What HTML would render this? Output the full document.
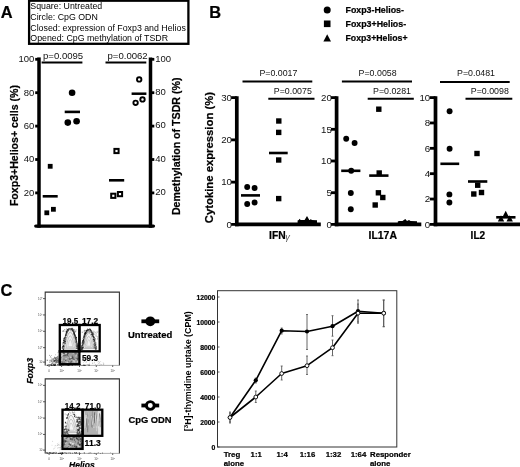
<!DOCTYPE html>
<html><head><meta charset="utf-8"><title>Figure</title>
<style>
html,body{margin:0;padding:0;background:#fff;}
body{width:520px;height:467px;overflow:hidden;}
svg{display:block;font-family:"Liberation Sans",sans-serif;filter:blur(0.42px);}
.b{font-weight:bold}
</style></head><body>
<svg width="520" height="467" viewBox="0 0 520 467">
<rect width="520" height="467" fill="#fff"/>

<text x="0.7" y="18.3" font-size="16.4" text-anchor="start" fill="#000" font-weight='bold'  stroke="#000" stroke-width="0.22">A</text>
<text x="209.3" y="17.7" font-size="16.4" text-anchor="start" fill="#000" font-weight='bold'  stroke="#000" stroke-width="0.22">B</text>
<text x="0.5" y="295.5" font-size="16.4" text-anchor="start" fill="#000" font-weight='bold'  stroke="#000" stroke-width="0.22">C</text>
<rect x="29.1" y="0.7" width="159.3" height="43.1" fill="#fff" stroke="#000" stroke-width="2.3"/>
<text x="30.3" y="9.1" font-size="8.8" text-anchor="start" fill="#000"  >Square: Untreated</text>
<text x="30.3" y="19.7" font-size="8.8" text-anchor="start" fill="#000"  >Circle: CpG ODN</text>
<text x="30.3" y="30.5" font-size="8.8" text-anchor="start" fill="#000"  >Closed: expression of Foxp3 and Helios</text>
<text x="30.3" y="41.1" font-size="8.8" text-anchor="start" fill="#000"  >Opened: CpG methylation of TSDR</text>
<line x1="39" y1="57.4" x2="39" y2="227.7" stroke="#000" stroke-width="3.5" />
<line x1="150.5" y1="57.4" x2="150.5" y2="227.7" stroke="#000" stroke-width="3.5" />
<line x1="35.8" y1="226.1" x2="153.4" y2="226.1" stroke="#000" stroke-width="3.4" stroke-linecap="round"/>
<line x1="35.2" y1="192.9" x2="38" y2="192.9" stroke="#000" stroke-width="2.8" />
<line x1="151" y1="192.9" x2="154.3" y2="192.9" stroke="#000" stroke-width="2.8" />
<text x="34.4" y="195.8" font-size="9.5" text-anchor="end" fill="#111"  >20</text>
<text x="155.3" y="195.20000000000002" font-size="9.5" text-anchor="start" fill="#111"  >20</text>
<line x1="35.2" y1="159.5" x2="38" y2="159.5" stroke="#000" stroke-width="2.8" />
<line x1="151" y1="159.5" x2="154.3" y2="159.5" stroke="#000" stroke-width="2.8" />
<text x="34.4" y="162.4" font-size="9.5" text-anchor="end" fill="#111"  >40</text>
<text x="155.3" y="161.8" font-size="9.5" text-anchor="start" fill="#111"  >40</text>
<line x1="35.2" y1="126.10000000000002" x2="38" y2="126.10000000000002" stroke="#000" stroke-width="2.8" />
<line x1="151" y1="126.10000000000002" x2="154.3" y2="126.10000000000002" stroke="#000" stroke-width="2.8" />
<text x="34.4" y="129.00000000000003" font-size="9.5" text-anchor="end" fill="#111"  >60</text>
<text x="155.3" y="128.40000000000003" font-size="9.5" text-anchor="start" fill="#111"  >60</text>
<line x1="35.2" y1="92.70000000000002" x2="38" y2="92.70000000000002" stroke="#000" stroke-width="2.8" />
<line x1="151" y1="92.70000000000002" x2="154.3" y2="92.70000000000002" stroke="#000" stroke-width="2.8" />
<text x="34.4" y="95.60000000000002" font-size="9.5" text-anchor="end" fill="#111"  >80</text>
<text x="155.3" y="95.00000000000001" font-size="9.5" text-anchor="start" fill="#111"  >80</text>
<line x1="35.2" y1="59.30000000000001" x2="38" y2="59.30000000000001" stroke="#000" stroke-width="2.8" />
<line x1="151" y1="59.30000000000001" x2="154.3" y2="59.30000000000001" stroke="#000" stroke-width="2.8" />
<text x="34.4" y="62.20000000000001" font-size="9.5" text-anchor="end" fill="#111"  >100</text>
<text x="155.3" y="61.60000000000001" font-size="9.5" text-anchor="start" fill="#111"  >100</text>
<text x="43" y="58.6" font-size="9.6" text-anchor="start" fill="#111"   textLength="40.2" lengthAdjust="spacingAndGlyphs">p=0.0095</text>
<line x1="41.6" y1="62.4" x2="82.4" y2="62.4" stroke="#000" stroke-width="2" />
<text x="107.5" y="58.6" font-size="9.6" text-anchor="start" fill="#111"   textLength="40.2" lengthAdjust="spacingAndGlyphs">p=0.0062</text>
<line x1="105.5" y1="62.4" x2="146.3" y2="62.4" stroke="#000" stroke-width="2" />
<text x="0" y="0" font-size="10.2" text-anchor="middle" fill="#000" font-weight='bold' transform="translate(18.1,145.6) rotate(-90)" textLength="121" lengthAdjust="spacingAndGlyphs" stroke="#000" stroke-width="0.22">Foxp3+Helios+ cells (%)</text>
<text x="0" y="0" font-size="10.4" text-anchor="middle" fill="#000" font-weight='bold' transform="translate(179.8,146.3) rotate(-90)" textLength="137.6" lengthAdjust="spacingAndGlyphs" stroke="#000" stroke-width="0.22">Demethylation of TSDR (%)</text>
<rect x="47.800000000000004" y="163.9" width="4.8" height="4.8" fill="#000"/>
<rect x="44.4" y="210.4" width="4.8" height="4.8" fill="#000"/>
<rect x="51.0" y="206.9" width="4.8" height="4.8" fill="#000"/>
<line x1="42.7" y1="196.3" x2="57.7" y2="196.3" stroke="#000" stroke-width="2.6" />
<circle cx="72.1" cy="92.7" r="3.3" fill="#000"/>
<circle cx="67.8" cy="122.6" r="3.3" fill="#000"/>
<circle cx="76.6" cy="121.3" r="3.3" fill="#000"/>
<line x1="64.7" y1="111.9" x2="80" y2="111.9" stroke="#000" stroke-width="2.6" />
<rect x="114.4" y="148.9" width="4.2" height="4.2" fill="#fff" stroke="#000" stroke-width="2"/>
<rect x="111.2" y="193.70000000000002" width="4.2" height="4.2" fill="#fff" stroke="#000" stroke-width="2"/>
<rect x="117.9" y="192.0" width="4.2" height="4.2" fill="#fff" stroke="#000" stroke-width="2"/>
<line x1="109" y1="180.3" x2="124.2" y2="180.3" stroke="#000" stroke-width="2.6" />
<circle cx="139.2" cy="79.4" r="2.2" fill="#fff" stroke="#000" stroke-width="1.9"/>
<circle cx="135.6" cy="102.8" r="2.2" fill="#fff" stroke="#000" stroke-width="1.9"/>
<circle cx="142.5" cy="99.4" r="2.2" fill="#fff" stroke="#000" stroke-width="1.9"/>
<line x1="131.6" y1="93.7" x2="146.4" y2="93.7" stroke="#000" stroke-width="2.5" />
<circle cx="327.2" cy="10.1" r="3.5" fill="#000"/>
<rect x="323.9" y="20.5" width="6.6" height="6.6" fill="#000"/>
<polygon points="327.2,34.3 331,41.6 323.4,41.6" fill="#000"/>
<text x="345.5" y="13.4" font-size="9" text-anchor="start" fill="#000" font-weight='bold'  textLength="58.4" lengthAdjust="spacingAndGlyphs" stroke="#000" stroke-width="0.22">Foxp3-Helios-</text>
<text x="345.5" y="27" font-size="9" text-anchor="start" fill="#000" font-weight='bold'  textLength="60.6" lengthAdjust="spacingAndGlyphs" stroke="#000" stroke-width="0.22">Foxp3+Helios-</text>
<text x="345.5" y="41.2" font-size="9" text-anchor="start" fill="#000" font-weight='bold'  textLength="62" lengthAdjust="spacingAndGlyphs" stroke="#000" stroke-width="0.22">Foxp3+Helios+</text>
<text x="0" y="0" font-size="11" text-anchor="middle" fill="#000" font-weight='bold' transform="translate(213.3,157.6) rotate(-90)" textLength="131.2" lengthAdjust="spacingAndGlyphs" stroke="#000" stroke-width="0.22">Cytokine expression (%)</text>
<line x1="236.8" y1="96.19999999999999" x2="236.8" y2="226.20000000000002" stroke="#000" stroke-width="3.7" />
<line x1="235.0" y1="224.4" x2="320.8" y2="224.4" stroke="#000" stroke-width="3.7" />
<line x1="231.10000000000002" y1="224.4" x2="236.8" y2="224.4" stroke="#000" stroke-width="2.8" />
<text x="232.0" y="227.70000000000002" font-size="9.7" text-anchor="end" fill="#111"  >0</text>
<line x1="231.10000000000002" y1="182.13333333333333" x2="236.8" y2="182.13333333333333" stroke="#000" stroke-width="2.8" />
<text x="232.0" y="185.43333333333334" font-size="9.7" text-anchor="end" fill="#111"  >10</text>
<line x1="231.10000000000002" y1="139.86666666666667" x2="236.8" y2="139.86666666666667" stroke="#000" stroke-width="2.8" />
<text x="232.0" y="143.16666666666669" font-size="9.7" text-anchor="end" fill="#111"  >20</text>
<line x1="231.10000000000002" y1="97.6" x2="236.8" y2="97.6" stroke="#000" stroke-width="2.8" />
<text x="232.0" y="100.89999999999999" font-size="9.7" text-anchor="end" fill="#111"  >30</text>
<line x1="336.6" y1="96.19999999999999" x2="336.6" y2="226.20000000000002" stroke="#000" stroke-width="3.7" />
<line x1="334.8" y1="224.4" x2="421.3" y2="224.4" stroke="#000" stroke-width="3.7" />
<line x1="330.90000000000003" y1="224.4" x2="336.6" y2="224.4" stroke="#000" stroke-width="2.8" />
<text x="331.90000000000003" y="227.70000000000002" font-size="9.7" text-anchor="end" fill="#111"  >0</text>
<line x1="330.90000000000003" y1="192.7" x2="336.6" y2="192.7" stroke="#000" stroke-width="2.8" />
<text x="331.90000000000003" y="196.0" font-size="9.7" text-anchor="end" fill="#111"  >5</text>
<line x1="330.90000000000003" y1="161.0" x2="336.6" y2="161.0" stroke="#000" stroke-width="2.8" />
<text x="331.90000000000003" y="164.3" font-size="9.7" text-anchor="end" fill="#111"  >10</text>
<line x1="330.90000000000003" y1="129.3" x2="336.6" y2="129.3" stroke="#000" stroke-width="2.8" />
<text x="331.90000000000003" y="132.60000000000002" font-size="9.7" text-anchor="end" fill="#111"  >15</text>
<line x1="330.90000000000003" y1="97.6" x2="336.6" y2="97.6" stroke="#000" stroke-width="2.8" />
<text x="331.90000000000003" y="100.89999999999999" font-size="9.7" text-anchor="end" fill="#111"  >20</text>
<line x1="435.5" y1="96.19999999999999" x2="435.5" y2="226.20000000000002" stroke="#000" stroke-width="3.7" />
<line x1="433.7" y1="224.4" x2="520" y2="224.4" stroke="#000" stroke-width="3.7" />
<line x1="429.8" y1="224.4" x2="435.5" y2="224.4" stroke="#000" stroke-width="2.8" />
<text x="430.2" y="227.70000000000002" font-size="9.7" text-anchor="end" fill="#111"  >0</text>
<line x1="429.8" y1="199.04" x2="435.5" y2="199.04" stroke="#000" stroke-width="2.8" />
<text x="430.2" y="202.34" font-size="9.7" text-anchor="end" fill="#111"  >2</text>
<line x1="429.8" y1="173.68" x2="435.5" y2="173.68" stroke="#000" stroke-width="2.8" />
<text x="430.2" y="176.98000000000002" font-size="9.7" text-anchor="end" fill="#111"  >4</text>
<line x1="429.8" y1="148.32" x2="435.5" y2="148.32" stroke="#000" stroke-width="2.8" />
<text x="430.2" y="151.62" font-size="9.7" text-anchor="end" fill="#111"  >6</text>
<line x1="429.8" y1="122.96" x2="435.5" y2="122.96" stroke="#000" stroke-width="2.8" />
<text x="430.2" y="126.25999999999999" font-size="9.7" text-anchor="end" fill="#111"  >8</text>
<line x1="429.8" y1="97.60000000000001" x2="435.5" y2="97.60000000000001" stroke="#000" stroke-width="2.8" />
<text x="430.2" y="100.9" font-size="9.7" text-anchor="end" fill="#111"  >10</text>
<text x="259.4" y="75.7" font-size="8.9" text-anchor="start" fill="#111"   textLength="38" lengthAdjust="spacingAndGlyphs">P=0.0017</text>
<line x1="242.5" y1="81.5" x2="312.3" y2="81.5" stroke="#000" stroke-width="2" />
<text x="273.8" y="94.2" font-size="8.9" text-anchor="start" fill="#111"   textLength="38" lengthAdjust="spacingAndGlyphs">P=0.0075</text>
<line x1="268.3" y1="98.7" x2="314.5" y2="98.7" stroke="#000" stroke-width="2" />
<text x="358.6" y="75.7" font-size="8.9" text-anchor="start" fill="#111"   textLength="38" lengthAdjust="spacingAndGlyphs">P=0.0058</text>
<line x1="341.9" y1="81.5" x2="412" y2="81.5" stroke="#000" stroke-width="2" />
<text x="373" y="94.2" font-size="8.9" text-anchor="start" fill="#111"   textLength="38" lengthAdjust="spacingAndGlyphs">P=0.0281</text>
<line x1="367.7" y1="98.7" x2="413.8" y2="98.7" stroke="#000" stroke-width="2" />
<text x="457" y="75.7" font-size="8.9" text-anchor="start" fill="#111"   textLength="38" lengthAdjust="spacingAndGlyphs">P=0.0481</text>
<line x1="440" y1="81.9" x2="509.7" y2="81.9" stroke="#000" stroke-width="2" />
<text x="470.8" y="94.2" font-size="8.9" text-anchor="start" fill="#111"   textLength="38" lengthAdjust="spacingAndGlyphs">P=0.0098</text>
<line x1="465.5" y1="98.7" x2="512.3" y2="98.7" stroke="#000" stroke-width="2" />
<text x="269.1" y="239.3" font-size="10.3" font-weight="bold" fill="#000" stroke="#000" stroke-width="0.22">IFN</text>
<text x="285.3" y="239.6" font-size="9.2" font-style="italic" fill="#555">&#947;</text>
<text x="368.5" y="239.2" font-size="10.3" text-anchor="start" fill="#000" font-weight='bold'  textLength="28.5" lengthAdjust="spacingAndGlyphs" stroke="#000" stroke-width="0.22">IL17A</text>
<text x="470.6" y="239.2" font-size="10.3" text-anchor="start" fill="#000" font-weight='bold'  textLength="14.6" lengthAdjust="spacingAndGlyphs" stroke="#000" stroke-width="0.22">IL2</text>
<circle cx="247.2" cy="187" r="2.95" fill="#000"/>
<circle cx="254.6" cy="188" r="2.95" fill="#000"/>
<circle cx="247.2" cy="204" r="2.95" fill="#000"/>
<circle cx="254.6" cy="202.5" r="2.95" fill="#000"/>
<line x1="241" y1="195.4" x2="260" y2="195.4" stroke="#000" stroke-width="2.6" />
<rect x="276.1" y="118.3" width="5.4" height="5.4" fill="#000"/>
<rect x="276.0" y="129.70000000000002" width="5.4" height="5.4" fill="#000"/>
<rect x="276.0" y="157.3" width="5.4" height="5.4" fill="#000"/>
<rect x="276.0" y="195.9" width="5.4" height="5.4" fill="#000"/>
<line x1="269" y1="153" x2="287.7" y2="153" stroke="#000" stroke-width="2.6" />
<polygon fill="#000" points="297.6,224 297.6,220.4 298.8,220.1 299.6,218.7 300.6,220.1 304.6,220.1 307,215.9 309.3,220 310,219.9 310.8,218.9 311.8,220.1 317,220.2 317,224"/>
<circle cx="346.2" cy="138.8" r="2.95" fill="#000"/>
<circle cx="354.6" cy="143" r="2.95" fill="#000"/>
<circle cx="351.2" cy="170.8" r="2.95" fill="#000"/>
<circle cx="350.8" cy="193" r="2.95" fill="#000"/>
<circle cx="350.8" cy="209.2" r="2.95" fill="#000"/>
<line x1="341.2" y1="170.8" x2="360.4" y2="170.8" stroke="#000" stroke-width="2.6" />
<rect x="376.1" y="106.5" width="5.4" height="5.4" fill="#000"/>
<rect x="376.5" y="170.3" width="5.4" height="5.4" fill="#000"/>
<rect x="375.7" y="190.10000000000002" width="5.4" height="5.4" fill="#000"/>
<rect x="380.1" y="194.8" width="5.4" height="5.4" fill="#000"/>
<rect x="372.5" y="202.3" width="5.4" height="5.4" fill="#000"/>
<line x1="369.2" y1="175.6" x2="388.5" y2="175.6" stroke="#000" stroke-width="2.6" />
<polygon fill="#000" points="397.8,224 397.8,221.6 399,221.1 402.5,220.9 405.3,219 407,220.9 409,220.1 410.5,221.1 417,221.3 417,224"/>
<circle cx="449.6" cy="111.2" r="2.95" fill="#000"/>
<circle cx="449.6" cy="148.8" r="2.95" fill="#000"/>
<circle cx="449.4" cy="194.4" r="2.95" fill="#000"/>
<circle cx="449.4" cy="202.5" r="2.95" fill="#000"/>
<line x1="440.4" y1="163.8" x2="459.2" y2="163.8" stroke="#000" stroke-width="2.6" />
<rect x="474.3" y="150.8" width="5.4" height="5.4" fill="#000"/>
<rect x="475.0" y="182.5" width="5.4" height="5.4" fill="#000"/>
<rect x="478.8" y="189.8" width="5.4" height="5.4" fill="#000"/>
<rect x="471.1" y="191.3" width="5.4" height="5.4" fill="#000"/>
<line x1="468" y1="181.5" x2="487.3" y2="181.5" stroke="#000" stroke-width="2.6" />
<polygon fill="#000" points="505.7,210.8 509.2,217.4 502.2,217.4"/>
<polygon fill="#000" points="501,215.3 504.2,221.4 497.8,221.4"/>
<polygon fill="#000" points="509.7,215.3 512.9,221.4 506.5,221.4"/>
<line x1="496.2" y1="217.3" x2="515.5" y2="217.3" stroke="#000" stroke-width="2.6" />
<defs><filter id="bl" x="-10%" y="-10%" width="120%" height="120%"><feGaussianBlur stdDeviation="0.45"/></filter></defs>
<path d="M45.2,365.4 L45.2,292.1 L119.4,292.1 L119.4,365.4" fill="none" stroke="#333" stroke-width="1.1"/>
<line x1="45.2" y1="365.4" x2="119.4" y2="365.4" stroke="#999" stroke-width="0.8" />
<line x1="43.0" y1="298.6" x2="45.2" y2="298.6" stroke="#333" stroke-width="0.8" />
<text x="42.400000000000006" y="299.5" font-size="2.9" text-anchor="end" fill="#444">10<tspan font-size="2" dy="-1.2">5</tspan></text>
<line x1="43.0" y1="314.95000000000005" x2="45.2" y2="314.95000000000005" stroke="#333" stroke-width="0.8" />
<text x="42.400000000000006" y="315.85" font-size="2.9" text-anchor="end" fill="#444">10<tspan font-size="2" dy="-1.2">4</tspan></text>
<line x1="43.0" y1="331.3" x2="45.2" y2="331.3" stroke="#333" stroke-width="0.8" />
<text x="42.400000000000006" y="332.2" font-size="2.9" text-anchor="end" fill="#444">10<tspan font-size="2" dy="-1.2">3</tspan></text>
<line x1="43.0" y1="347.65000000000003" x2="45.2" y2="347.65000000000003" stroke="#333" stroke-width="0.8" />
<text x="42.400000000000006" y="348.55" font-size="2.9" text-anchor="end" fill="#444">10<tspan font-size="2" dy="-1.2">2</tspan></text>
<line x1="43.0" y1="362.09999999999997" x2="45.2" y2="362.09999999999997" stroke="#333" stroke-width="0.8" />
<text x="42.400000000000006" y="362.99999999999994" font-size="2.9" text-anchor="end" fill="#444">10<tspan font-size="2" dy="-1.2"></tspan></text>
<line x1="49.1" y1="365.4" x2="49.1" y2="367.0" stroke="#333" stroke-width="0.8" />
<text x="49.1" y="372.29999999999995" font-size="2.9" text-anchor="middle" fill="#444">0</text>
<line x1="61.6" y1="365.4" x2="61.6" y2="367.0" stroke="#333" stroke-width="0.8" />
<text x="61.6" y="372.29999999999995" font-size="2.9" text-anchor="middle" fill="#444">10<tspan font-size="2" dy="-1.2">2</tspan></text>
<line x1="79.5" y1="365.4" x2="79.5" y2="367.0" stroke="#333" stroke-width="0.8" />
<text x="79.5" y="372.29999999999995" font-size="2.9" text-anchor="middle" fill="#444">10<tspan font-size="2" dy="-1.2">3</tspan></text>
<line x1="96.3" y1="365.4" x2="96.3" y2="367.0" stroke="#333" stroke-width="0.8" />
<text x="96.3" y="372.29999999999995" font-size="2.9" text-anchor="middle" fill="#444">10<tspan font-size="2" dy="-1.2">4</tspan></text>
<line x1="112.7" y1="365.4" x2="112.7" y2="367.0" stroke="#333" stroke-width="0.8" />
<text x="112.7" y="372.29999999999995" font-size="2.9" text-anchor="middle" fill="#444">10<tspan font-size="2" dy="-1.2">5</tspan></text>
<circle cx="51.8" cy="364.8" r="0.32" fill="#111" opacity="0.81"/>
<circle cx="57.5" cy="365.2" r="0.31" fill="#111" opacity="0.80"/>
<circle cx="69.0" cy="365.5" r="0.32" fill="#111" opacity="0.77"/>
<circle cx="51.7" cy="364.6" r="0.33" fill="#111" opacity="0.69"/>
<circle cx="83.4" cy="364.9" r="0.40" fill="#111" opacity="0.99"/>
<circle cx="84.6" cy="365.5" r="0.51" fill="#111" opacity="0.72"/>
<circle cx="53.0" cy="365.2" r="0.50" fill="#111" opacity="0.67"/>
<circle cx="54.9" cy="364.9" r="0.46" fill="#111" opacity="0.75"/>
<circle cx="53.8" cy="365.5" r="0.35" fill="#111" opacity="0.87"/>
<circle cx="48.5" cy="365.1" r="0.38" fill="#111" opacity="0.83"/>
<circle cx="64.0" cy="364.6" r="0.47" fill="#111" opacity="0.70"/>
<circle cx="51.6" cy="364.9" r="0.43" fill="#111" opacity="0.95"/>
<circle cx="48.5" cy="364.4" r="0.33" fill="#111" opacity="0.77"/>
<circle cx="64.2" cy="364.7" r="0.34" fill="#111" opacity="0.80"/>
<circle cx="77.9" cy="364.7" r="0.44" fill="#111" opacity="0.95"/>
<circle cx="54.2" cy="365.2" r="0.47" fill="#111" opacity="0.84"/>
<circle cx="67.5" cy="364.6" r="0.54" fill="#111" opacity="0.79"/>
<circle cx="57.9" cy="364.8" r="0.32" fill="#111" opacity="0.88"/>
<circle cx="88.0" cy="364.6" r="0.37" fill="#111" opacity="0.75"/>
<circle cx="101.6" cy="364.8" r="0.31" fill="#111" opacity="0.78"/>
<circle cx="51.6" cy="365.5" r="0.49" fill="#111" opacity="0.65"/>
<circle cx="55.8" cy="365.3" r="0.40" fill="#111" opacity="0.95"/>
<circle cx="67.2" cy="364.9" r="0.52" fill="#111" opacity="0.93"/>
<circle cx="57.9" cy="364.6" r="0.37" fill="#111" opacity="0.77"/>
<circle cx="75.0" cy="364.5" r="0.34" fill="#111" opacity="0.67"/>
<circle cx="81.6" cy="365.3" r="0.36" fill="#111" opacity="0.79"/>
<circle cx="60.8" cy="365.6" r="0.40" fill="#111" opacity="0.75"/>
<circle cx="55.3" cy="364.9" r="0.54" fill="#111" opacity="0.88"/>
<circle cx="76.6" cy="364.8" r="0.31" fill="#111" opacity="0.96"/>
<circle cx="49.2" cy="364.7" r="0.52" fill="#111" opacity="0.92"/>
<circle cx="63.5" cy="365.5" r="0.46" fill="#111" opacity="0.62"/>
<circle cx="60.1" cy="365.5" r="0.35" fill="#111" opacity="0.66"/>
<circle cx="50.1" cy="365.6" r="0.34" fill="#111" opacity="0.64"/>
<circle cx="52.3" cy="365.2" r="0.31" fill="#111" opacity="0.95"/>
<circle cx="55.6" cy="365.3" r="0.39" fill="#111" opacity="0.75"/>
<circle cx="54.4" cy="365.5" r="0.51" fill="#111" opacity="1.00"/>
<circle cx="70.9" cy="365.5" r="0.33" fill="#111" opacity="0.74"/>
<circle cx="51.6" cy="365.3" r="0.51" fill="#111" opacity="0.66"/>
<circle cx="99.7" cy="365.0" r="0.34" fill="#111" opacity="0.82"/>
<circle cx="54.0" cy="365.6" r="0.43" fill="#111" opacity="0.99"/>
<circle cx="68.4" cy="365.3" r="0.39" fill="#111" opacity="0.67"/>
<circle cx="71.9" cy="364.7" r="0.43" fill="#111" opacity="0.91"/>
<circle cx="53.7" cy="364.6" r="0.55" fill="#111" opacity="0.94"/>
<circle cx="59.9" cy="364.6" r="0.50" fill="#111" opacity="0.90"/>
<circle cx="50.1" cy="365.2" r="0.31" fill="#111" opacity="0.61"/>
<circle cx="72.5" cy="365.3" r="0.36" fill="#111" opacity="0.88"/>
<circle cx="69.3" cy="364.5" r="0.55" fill="#111" opacity="0.98"/>
<circle cx="52.7" cy="365.2" r="0.36" fill="#111" opacity="0.69"/>
<circle cx="51.1" cy="364.9" r="0.53" fill="#111" opacity="0.94"/>
<circle cx="60.3" cy="365.0" r="0.46" fill="#111" opacity="0.92"/>
<circle cx="74.1" cy="364.5" r="0.50" fill="#111" opacity="0.90"/>
<circle cx="62.6" cy="365.0" r="0.34" fill="#111" opacity="0.92"/>
<circle cx="65.8" cy="364.4" r="0.40" fill="#111" opacity="0.76"/>
<circle cx="80.5" cy="364.5" r="0.48" fill="#111" opacity="0.67"/>
<circle cx="55.0" cy="364.5" r="0.50" fill="#111" opacity="0.66"/>
<circle cx="55.2" cy="364.6" r="0.55" fill="#111" opacity="0.86"/>
<circle cx="62.6" cy="365.4" r="0.30" fill="#111" opacity="0.99"/>
<circle cx="68.6" cy="364.8" r="0.43" fill="#111" opacity="0.97"/>
<circle cx="87.0" cy="364.6" r="0.35" fill="#111" opacity="0.70"/>
<circle cx="64.2" cy="365.2" r="0.36" fill="#111" opacity="0.83"/>
<circle cx="47.5" cy="365.4" r="0.53" fill="#111" opacity="0.74"/>
<circle cx="69.1" cy="365.1" r="0.45" fill="#111" opacity="0.96"/>
<circle cx="89.4" cy="365.0" r="0.43" fill="#111" opacity="0.81"/>
<circle cx="69.7" cy="365.6" r="0.41" fill="#111" opacity="0.67"/>
<circle cx="85.6" cy="365.4" r="0.42" fill="#111" opacity="0.89"/>
<circle cx="47.2" cy="364.9" r="0.38" fill="#111" opacity="0.81"/>
<circle cx="82.4" cy="365.5" r="0.44" fill="#111" opacity="0.70"/>
<circle cx="59.4" cy="365.3" r="0.49" fill="#111" opacity="0.80"/>
<circle cx="80.6" cy="364.5" r="0.41" fill="#111" opacity="0.85"/>
<circle cx="60.3" cy="365.0" r="0.43" fill="#111" opacity="0.88"/>
<circle cx="72.2" cy="365.0" r="0.54" fill="#111" opacity="0.88"/>
<circle cx="54.2" cy="364.5" r="0.54" fill="#111" opacity="0.70"/>
<circle cx="95.3" cy="364.6" r="0.33" fill="#111" opacity="0.65"/>
<circle cx="65.5" cy="365.1" r="0.32" fill="#111" opacity="0.70"/>
<circle cx="75.5" cy="364.7" r="0.52" fill="#111" opacity="0.66"/>
<circle cx="60.7" cy="364.7" r="0.47" fill="#111" opacity="0.66"/>
<circle cx="88.9" cy="365.3" r="0.54" fill="#111" opacity="0.76"/>
<circle cx="84.9" cy="365.0" r="0.55" fill="#111" opacity="0.93"/>
<circle cx="58.5" cy="365.0" r="0.38" fill="#111" opacity="0.68"/>
<circle cx="66.1" cy="365.2" r="0.48" fill="#111" opacity="0.61"/>
<circle cx="68.6" cy="365.6" r="0.38" fill="#111" opacity="0.85"/>
<circle cx="54.1" cy="365.0" r="0.32" fill="#111" opacity="0.99"/>
<circle cx="60.2" cy="365.5" r="0.37" fill="#111" opacity="0.62"/>
<circle cx="103.2" cy="364.7" r="0.37" fill="#111" opacity="0.65"/>
<circle cx="89.0" cy="364.6" r="0.36" fill="#111" opacity="0.66"/>
<circle cx="68.9" cy="364.5" r="0.44" fill="#111" opacity="0.88"/>
<circle cx="52.6" cy="364.8" r="0.41" fill="#111" opacity="0.63"/>
<circle cx="50.2" cy="364.5" r="0.46" fill="#111" opacity="0.92"/>
<circle cx="83.7" cy="365.5" r="0.52" fill="#111" opacity="0.78"/>
<circle cx="68.0" cy="365.2" r="0.44" fill="#111" opacity="0.97"/>
<g filter="url(#bl)">
<circle cx="59.4" cy="361.7" r="0.46" fill="#333" opacity="0.87"/>
<circle cx="56.3" cy="360.2" r="0.35" fill="#666" opacity="0.71"/>
<circle cx="56.7" cy="360.2" r="0.43" fill="#888" opacity="0.49"/>
<circle cx="59.2" cy="360.9" r="0.38" fill="#333" opacity="0.41"/>
<circle cx="47.3" cy="360.3" r="0.45" fill="#333" opacity="0.87"/>
<circle cx="53.2" cy="363.1" r="0.43" fill="#666" opacity="0.67"/>
<circle cx="50.6" cy="356.6" r="0.39" fill="#333" opacity="0.89"/>
<circle cx="55.0" cy="364.1" r="0.51" fill="#888" opacity="0.47"/>
<circle cx="47.0" cy="360.1" r="0.55" fill="#333" opacity="0.44"/>
<circle cx="59.5" cy="358.7" r="0.35" fill="#333" opacity="0.73"/>
<circle cx="55.8" cy="362.4" r="0.59" fill="#888" opacity="0.52"/>
<circle cx="58.4" cy="363.0" r="0.35" fill="#666" opacity="0.40"/>
<circle cx="57.1" cy="362.0" r="0.60" fill="#666" opacity="0.52"/>
<circle cx="55.9" cy="360.1" r="0.41" fill="#333" opacity="0.57"/>
<circle cx="56.6" cy="361.4" r="0.50" fill="#333" opacity="0.65"/>
<circle cx="56.2" cy="360.6" r="0.33" fill="#666" opacity="0.69"/>
<circle cx="56.7" cy="361.7" r="0.49" fill="#333" opacity="0.69"/>
<circle cx="52.3" cy="359.8" r="0.50" fill="#888" opacity="0.79"/>
<circle cx="53.4" cy="358.3" r="0.52" fill="#666" opacity="0.47"/>
<circle cx="58.7" cy="357.2" r="0.31" fill="#888" opacity="0.85"/>
<circle cx="54.6" cy="357.8" r="0.54" fill="#333" opacity="0.85"/>
<circle cx="59.6" cy="357.5" r="0.54" fill="#333" opacity="0.81"/>
<circle cx="51.5" cy="358.1" r="0.50" fill="#888" opacity="0.72"/>
<circle cx="58.6" cy="360.8" r="0.49" fill="#333" opacity="0.59"/>
<circle cx="58.3" cy="360.7" r="0.31" fill="#888" opacity="0.74"/>
<circle cx="59.3" cy="360.5" r="0.54" fill="#888" opacity="0.87"/>
<circle cx="58.1" cy="359.9" r="0.46" fill="#888" opacity="0.77"/>
<circle cx="59.7" cy="361.4" r="0.38" fill="#888" opacity="0.78"/>
<circle cx="58.9" cy="363.8" r="0.44" fill="#666" opacity="0.44"/>
<circle cx="56.6" cy="359.5" r="0.31" fill="#888" opacity="0.72"/>
<circle cx="57.5" cy="361.1" r="0.38" fill="#888" opacity="0.75"/>
<circle cx="58.0" cy="359.7" r="0.44" fill="#666" opacity="0.53"/>
<circle cx="56.4" cy="357.4" r="0.50" fill="#666" opacity="0.75"/>
<circle cx="58.6" cy="363.0" r="0.53" fill="#888" opacity="0.50"/>
<circle cx="49.2" cy="359.8" r="0.31" fill="#666" opacity="0.44"/>
<circle cx="55.3" cy="360.4" r="0.57" fill="#333" opacity="0.44"/>
<circle cx="53.4" cy="362.6" r="0.38" fill="#666" opacity="0.47"/>
<circle cx="57.4" cy="358.0" r="0.57" fill="#888" opacity="0.58"/>
<circle cx="50.5" cy="360.6" r="0.42" fill="#333" opacity="0.40"/>
<circle cx="54.8" cy="360.6" r="0.39" fill="#333" opacity="0.61"/>
<circle cx="58.1" cy="361.3" r="0.40" fill="#666" opacity="0.78"/>
<circle cx="58.5" cy="359.5" r="0.58" fill="#888" opacity="0.41"/>
<circle cx="59.5" cy="358.7" r="0.32" fill="#666" opacity="0.90"/>
<circle cx="56.1" cy="359.3" r="0.43" fill="#666" opacity="0.83"/>
<circle cx="59.4" cy="361.2" r="0.50" fill="#888" opacity="0.87"/>
<circle cx="59.7" cy="362.3" r="0.45" fill="#333" opacity="0.79"/>
<circle cx="58.7" cy="358.1" r="0.31" fill="#888" opacity="0.60"/>
<circle cx="55.6" cy="358.4" r="0.36" fill="#333" opacity="0.42"/>
<circle cx="59.2" cy="358.0" r="0.53" fill="#888" opacity="0.83"/>
<circle cx="49.8" cy="361.0" r="0.47" fill="#333" opacity="0.64"/>
<circle cx="57.6" cy="362.1" r="0.52" fill="#888" opacity="0.53"/>
<circle cx="57.6" cy="358.9" r="0.47" fill="#666" opacity="0.46"/>
<circle cx="58.6" cy="359.8" r="0.45" fill="#666" opacity="0.68"/>
<circle cx="55.8" cy="361.1" r="0.53" fill="#666" opacity="0.47"/>
<circle cx="59.0" cy="361.4" r="0.40" fill="#333" opacity="0.56"/>
<circle cx="54.2" cy="363.6" r="0.36" fill="#333" opacity="0.77"/>
<circle cx="55.7" cy="361.7" r="0.46" fill="#666" opacity="0.54"/>
<circle cx="59.6" cy="357.8" r="0.47" fill="#666" opacity="0.46"/>
<circle cx="53.4" cy="360.4" r="0.56" fill="#333" opacity="0.45"/>
<circle cx="56.2" cy="359.1" r="0.49" fill="#666" opacity="0.88"/>
<circle cx="54.4" cy="356.7" r="0.31" fill="#333" opacity="0.61"/>
<circle cx="59.0" cy="356.4" r="0.59" fill="#666" opacity="0.40"/>
<circle cx="51.7" cy="363.8" r="0.55" fill="#666" opacity="0.89"/>
<circle cx="59.7" cy="361.6" r="0.35" fill="#888" opacity="0.89"/>
<circle cx="53.2" cy="363.2" r="0.51" fill="#666" opacity="0.44"/>
<circle cx="59.7" cy="360.4" r="0.34" fill="#888" opacity="0.86"/>
<circle cx="57.4" cy="358.9" r="0.34" fill="#666" opacity="0.66"/>
<circle cx="52.6" cy="362.0" r="0.33" fill="#666" opacity="0.66"/>
<circle cx="55.8" cy="359.4" r="0.37" fill="#888" opacity="0.40"/>
<circle cx="59.0" cy="362.5" r="0.55" fill="#333" opacity="0.64"/>
<circle cx="59.4" cy="362.2" r="0.59" fill="#888" opacity="0.72"/>
<circle cx="56.9" cy="361.0" r="0.57" fill="#888" opacity="0.61"/>
<circle cx="59.4" cy="363.9" r="0.58" fill="#333" opacity="0.65"/>
<circle cx="57.3" cy="357.0" r="0.41" fill="#666" opacity="0.50"/>
<circle cx="57.6" cy="356.9" r="0.45" fill="#333" opacity="0.65"/>
<circle cx="57.3" cy="364.2" r="0.36" fill="#666" opacity="0.51"/>
<circle cx="59.5" cy="358.6" r="0.59" fill="#666" opacity="0.71"/>
<circle cx="55.6" cy="358.9" r="0.57" fill="#333" opacity="0.87"/>
<circle cx="57.0" cy="362.3" r="0.36" fill="#888" opacity="0.47"/>
<circle cx="58.2" cy="360.8" r="0.42" fill="#888" opacity="0.84"/>
<circle cx="58.0" cy="352.6" r="0.58" fill="#666" opacity="0.50"/>
<circle cx="56.5" cy="358.2" r="0.44" fill="#666" opacity="0.73"/>
<circle cx="56.6" cy="362.0" r="0.40" fill="#333" opacity="0.45"/>
<circle cx="58.1" cy="360.9" r="0.43" fill="#333" opacity="0.68"/>
<circle cx="59.5" cy="358.3" r="0.53" fill="#666" opacity="0.81"/>
<circle cx="58.4" cy="360.8" r="0.44" fill="#666" opacity="0.67"/>
<circle cx="55.9" cy="361.2" r="0.52" fill="#666" opacity="0.42"/>
<circle cx="52.7" cy="362.7" r="0.53" fill="#333" opacity="0.59"/>
<circle cx="51.8" cy="361.4" r="0.32" fill="#333" opacity="0.77"/>
<circle cx="56.4" cy="359.3" r="0.38" fill="#888" opacity="0.42"/>
<circle cx="59.5" cy="357.0" r="0.58" fill="#666" opacity="0.40"/>
<circle cx="59.3" cy="355.4" r="0.49" fill="#333" opacity="0.41"/>
<circle cx="59.2" cy="363.1" r="0.59" fill="#666" opacity="0.79"/>
<circle cx="52.6" cy="358.3" r="0.34" fill="#666" opacity="0.49"/>
<circle cx="57.3" cy="356.9" r="0.55" fill="#333" opacity="0.70"/>
<circle cx="57.8" cy="362.3" r="0.41" fill="#888" opacity="0.44"/>
<circle cx="57.3" cy="364.1" r="0.37" fill="#333" opacity="0.72"/>
<circle cx="54.1" cy="360.8" r="0.35" fill="#666" opacity="0.84"/>
<circle cx="56.2" cy="360.4" r="0.33" fill="#333" opacity="0.61"/>
<circle cx="47.7" cy="360.1" r="0.35" fill="#333" opacity="0.61"/>
<circle cx="54.8" cy="358.1" r="0.52" fill="#888" opacity="0.78"/>
<circle cx="59.0" cy="358.6" r="0.38" fill="#666" opacity="0.59"/>
<circle cx="59.5" cy="359.0" r="0.37" fill="#333" opacity="0.52"/>
<circle cx="59.1" cy="361.3" r="0.38" fill="#333" opacity="0.65"/>
<circle cx="58.7" cy="364.7" r="0.50" fill="#333" opacity="0.45"/>
<circle cx="51.5" cy="361.2" r="0.55" fill="#666" opacity="0.42"/>
<circle cx="59.1" cy="361.6" r="0.36" fill="#888" opacity="0.50"/>
<circle cx="54.9" cy="361.8" r="0.35" fill="#888" opacity="0.53"/>
<circle cx="57.8" cy="355.0" r="0.33" fill="#888" opacity="0.75"/>
<circle cx="59.0" cy="361.0" r="0.40" fill="#333" opacity="0.50"/>
<circle cx="59.5" cy="363.6" r="0.50" fill="#333" opacity="0.81"/>
<circle cx="57.8" cy="358.4" r="0.41" fill="#888" opacity="0.56"/>
<circle cx="57.4" cy="364.4" r="0.46" fill="#333" opacity="0.60"/>
<circle cx="57.8" cy="357.2" r="0.35" fill="#888" opacity="0.45"/>
<circle cx="56.1" cy="363.5" r="0.42" fill="#666" opacity="0.73"/>
<circle cx="58.4" cy="360.9" r="0.52" fill="#666" opacity="0.61"/>
<circle cx="52.1" cy="360.9" r="0.54" fill="#888" opacity="0.50"/>
<circle cx="59.3" cy="359.0" r="0.30" fill="#333" opacity="0.61"/>
<circle cx="57.7" cy="358.4" r="0.56" fill="#666" opacity="0.79"/>
<circle cx="58.7" cy="361.0" r="0.34" fill="#666" opacity="0.44"/>
<circle cx="56.6" cy="359.0" r="0.45" fill="#333" opacity="0.57"/>
<circle cx="58.2" cy="361.7" r="0.32" fill="#666" opacity="0.65"/>
<circle cx="55.7" cy="354.8" r="0.36" fill="#333" opacity="0.82"/>
<circle cx="50.1" cy="361.9" r="0.39" fill="#888" opacity="0.86"/>
<circle cx="52.3" cy="363.7" r="0.49" fill="#333" opacity="0.72"/>
<circle cx="55.8" cy="358.0" r="0.48" fill="#333" opacity="0.81"/>
<circle cx="58.4" cy="362.0" r="0.42" fill="#888" opacity="0.48"/>
<circle cx="58.1" cy="361.5" r="0.59" fill="#333" opacity="0.42"/>
<circle cx="52.7" cy="359.0" r="0.31" fill="#666" opacity="0.46"/>
<circle cx="55.1" cy="358.8" r="0.49" fill="#666" opacity="0.72"/>
<circle cx="58.5" cy="362.1" r="0.42" fill="#666" opacity="0.62"/>
<circle cx="58.8" cy="360.7" r="0.49" fill="#666" opacity="0.63"/>
<circle cx="53.8" cy="361.5" r="0.55" fill="#333" opacity="0.81"/>
<circle cx="58.3" cy="361.0" r="0.41" fill="#666" opacity="0.45"/>
<circle cx="54.7" cy="361.5" r="0.31" fill="#888" opacity="0.47"/>
<circle cx="56.3" cy="359.6" r="0.52" fill="#333" opacity="0.43"/>
<circle cx="55.3" cy="360.4" r="0.59" fill="#333" opacity="0.41"/>
<circle cx="54.0" cy="361.8" r="0.51" fill="#333" opacity="0.50"/>
<circle cx="54.5" cy="360.2" r="0.59" fill="#333" opacity="0.74"/>
<circle cx="59.1" cy="358.9" r="0.55" fill="#888" opacity="0.78"/>
<circle cx="54.5" cy="364.6" r="0.38" fill="#666" opacity="0.47"/>
<circle cx="49.6" cy="360.4" r="0.36" fill="#666" opacity="0.71"/>
<circle cx="59.4" cy="362.7" r="0.36" fill="#666" opacity="0.48"/>
<circle cx="53.4" cy="359.1" r="0.57" fill="#333" opacity="0.80"/>
<circle cx="59.0" cy="364.4" r="0.31" fill="#666" opacity="0.88"/>
<circle cx="54.5" cy="361.3" r="0.51" fill="#333" opacity="0.53"/>
<circle cx="51.1" cy="359.5" r="0.52" fill="#666" opacity="0.53"/>
<circle cx="53.8" cy="360.3" r="0.41" fill="#333" opacity="0.62"/>
<circle cx="56.4" cy="363.9" r="0.31" fill="#888" opacity="0.53"/>
<circle cx="51.4" cy="355.4" r="0.48" fill="#888" opacity="0.85"/>
<circle cx="58.9" cy="356.7" r="0.37" fill="#666" opacity="0.71"/>
<circle cx="54.8" cy="361.6" r="0.57" fill="#333" opacity="0.64"/>
<circle cx="58.7" cy="360.0" r="0.32" fill="#888" opacity="0.58"/>
<circle cx="56.4" cy="361.8" r="0.37" fill="#888" opacity="0.55"/>
<circle cx="56.8" cy="362.1" r="0.55" fill="#333" opacity="0.47"/>
<circle cx="56.6" cy="359.8" r="0.34" fill="#333" opacity="0.43"/>
<circle cx="55.6" cy="363.2" r="0.38" fill="#666" opacity="0.88"/>
<circle cx="51.9" cy="362.0" r="0.57" fill="#888" opacity="0.72"/>
<circle cx="49.8" cy="362.4" r="0.52" fill="#333" opacity="0.48"/>
<circle cx="58.1" cy="360.5" r="0.31" fill="#333" opacity="0.52"/>
<circle cx="52.4" cy="361.9" r="0.30" fill="#888" opacity="0.73"/>
<circle cx="58.2" cy="362.7" r="0.46" fill="#888" opacity="0.65"/>
<circle cx="54.5" cy="357.2" r="0.35" fill="#666" opacity="0.43"/>
<circle cx="49.6" cy="355.3" r="0.52" fill="#666" opacity="0.76"/>
<circle cx="51.0" cy="360.7" r="0.52" fill="#666" opacity="0.44"/>
<circle cx="58.1" cy="359.3" r="0.60" fill="#666" opacity="0.52"/>
<circle cx="55.8" cy="361.0" r="0.52" fill="#888" opacity="0.87"/>
<circle cx="59.6" cy="361.3" r="0.49" fill="#888" opacity="0.62"/>
<circle cx="58.4" cy="357.8" r="0.38" fill="#888" opacity="0.86"/>
<circle cx="58.2" cy="359.9" r="0.45" fill="#333" opacity="0.53"/>
<circle cx="59.1" cy="364.3" r="0.58" fill="#888" opacity="0.86"/>
<circle cx="58.1" cy="362.6" r="0.48" fill="#666" opacity="0.85"/>
<circle cx="55.0" cy="357.9" r="0.50" fill="#888" opacity="0.63"/>
<circle cx="56.0" cy="357.5" r="0.56" fill="#666" opacity="0.88"/>
<circle cx="58.6" cy="358.3" r="0.48" fill="#888" opacity="0.86"/>
<circle cx="59.1" cy="360.9" r="0.33" fill="#333" opacity="0.57"/>
<circle cx="59.0" cy="360.9" r="0.31" fill="#888" opacity="0.72"/>
<circle cx="58.1" cy="360.7" r="0.31" fill="#888" opacity="0.78"/>
<circle cx="53.2" cy="359.8" r="0.56" fill="#888" opacity="0.87"/>
<circle cx="57.3" cy="361.5" r="0.33" fill="#333" opacity="0.87"/>
<circle cx="53.3" cy="358.5" r="0.33" fill="#888" opacity="0.72"/>
<circle cx="57.3" cy="360.7" r="0.54" fill="#888" opacity="0.50"/>
<circle cx="57.7" cy="362.7" r="0.31" fill="#666" opacity="0.87"/>
<circle cx="52.4" cy="361.7" r="0.57" fill="#888" opacity="0.65"/>
<circle cx="56.0" cy="357.9" r="0.31" fill="#666" opacity="0.42"/>
<circle cx="57.7" cy="360.4" r="0.44" fill="#333" opacity="0.67"/>
<circle cx="57.8" cy="365.0" r="0.33" fill="#666" opacity="0.49"/>
<circle cx="56.7" cy="360.5" r="0.53" fill="#333" opacity="0.40"/>
<circle cx="54.5" cy="360.7" r="0.54" fill="#333" opacity="0.88"/>
<circle cx="50.3" cy="357.3" r="0.45" fill="#888" opacity="0.87"/>
<circle cx="59.0" cy="362.1" r="0.51" fill="#666" opacity="0.48"/>
<circle cx="52.6" cy="359.0" r="0.45" fill="#888" opacity="0.68"/>
<circle cx="56.5" cy="361.7" r="0.33" fill="#666" opacity="0.85"/>
<circle cx="59.6" cy="358.1" r="0.49" fill="#666" opacity="0.50"/>
<circle cx="55.3" cy="360.5" r="0.57" fill="#333" opacity="0.87"/>
<circle cx="55.5" cy="362.7" r="0.51" fill="#888" opacity="0.72"/>
<circle cx="57.4" cy="362.2" r="0.35" fill="#666" opacity="0.73"/>
<circle cx="59.6" cy="359.1" r="0.43" fill="#666" opacity="0.69"/>
<circle cx="56.2" cy="362.3" r="0.57" fill="#333" opacity="0.65"/>
<circle cx="58.9" cy="364.3" r="0.55" fill="#888" opacity="0.48"/>
<circle cx="57.8" cy="361.9" r="0.40" fill="#888" opacity="0.57"/>
<circle cx="57.0" cy="360.5" r="0.50" fill="#333" opacity="0.59"/>
<circle cx="51.7" cy="360.1" r="0.52" fill="#666" opacity="0.54"/>
<circle cx="52.0" cy="363.7" r="0.38" fill="#666" opacity="0.63"/>
<circle cx="50.9" cy="360.9" r="0.43" fill="#333" opacity="0.65"/>
<circle cx="56.3" cy="358.6" r="0.34" fill="#888" opacity="0.77"/>
<circle cx="56.3" cy="360.6" r="0.56" fill="#888" opacity="0.69"/>
<circle cx="59.7" cy="358.1" r="0.37" fill="#888" opacity="0.73"/>
<circle cx="55.1" cy="358.2" r="0.48" fill="#333" opacity="0.74"/>
<circle cx="56.6" cy="358.5" r="0.39" fill="#888" opacity="0.75"/>
<circle cx="57.1" cy="359.4" r="0.42" fill="#888" opacity="0.71"/>
<circle cx="59.7" cy="362.9" r="0.44" fill="#888" opacity="0.83"/>
<circle cx="53.1" cy="360.1" r="0.56" fill="#888" opacity="0.56"/>
<circle cx="51.2" cy="360.8" r="0.57" fill="#333" opacity="0.42"/>
<circle cx="57.1" cy="360.1" r="0.53" fill="#333" opacity="0.66"/>
<circle cx="55.0" cy="362.3" r="0.46" fill="#888" opacity="0.64"/>
<circle cx="51.8" cy="360.9" r="0.41" fill="#666" opacity="0.61"/>
<circle cx="56.8" cy="360.0" r="0.51" fill="#666" opacity="0.66"/>
<circle cx="53.1" cy="359.0" r="0.48" fill="#888" opacity="0.43"/>
<circle cx="59.0" cy="362.8" r="0.30" fill="#666" opacity="0.86"/>
<circle cx="55.0" cy="358.0" r="0.47" fill="#333" opacity="0.51"/>
<circle cx="59.1" cy="355.1" r="0.46" fill="#333" opacity="0.90"/>
<circle cx="103.1" cy="362.8" r="0.28" fill="#555" opacity="0.67"/>
<circle cx="83.5" cy="364.2" r="0.29" fill="#555" opacity="0.56"/>
<circle cx="97.9" cy="364.3" r="0.28" fill="#555" opacity="0.57"/>
<circle cx="100.3" cy="364.2" r="0.33" fill="#555" opacity="0.70"/>
<circle cx="98.7" cy="363.6" r="0.41" fill="#555" opacity="0.49"/>
<circle cx="99.2" cy="361.9" r="0.39" fill="#555" opacity="0.57"/>
<circle cx="103.6" cy="363.7" r="0.35" fill="#555" opacity="0.62"/>
<circle cx="99.6" cy="362.4" r="0.38" fill="#555" opacity="0.43"/>
<circle cx="92.7" cy="363.5" r="0.27" fill="#555" opacity="0.66"/>
<circle cx="85.4" cy="362.2" r="0.33" fill="#555" opacity="0.33"/>
<circle cx="94.4" cy="362.3" r="0.44" fill="#555" opacity="0.51"/>
<circle cx="89.6" cy="363.3" r="0.38" fill="#555" opacity="0.38"/>
<circle cx="83.6" cy="362.2" r="0.37" fill="#555" opacity="0.53"/>
<circle cx="100.8" cy="361.7" r="0.34" fill="#555" opacity="0.61"/>
<circle cx="86.6" cy="362.6" r="0.36" fill="#555" opacity="0.54"/>
<circle cx="97.1" cy="364.9" r="0.27" fill="#555" opacity="0.66"/>
<circle cx="94.1" cy="363.5" r="0.31" fill="#555" opacity="0.50"/>
<circle cx="86.7" cy="361.3" r="0.42" fill="#555" opacity="0.57"/>
<circle cx="84.6" cy="361.5" r="0.33" fill="#555" opacity="0.63"/>
<circle cx="92.4" cy="363.2" r="0.35" fill="#555" opacity="0.66"/>
<circle cx="97.4" cy="362.0" r="0.28" fill="#555" opacity="0.54"/>
<circle cx="98.2" cy="361.6" r="0.31" fill="#555" opacity="0.58"/>
<circle cx="92.9" cy="362.2" r="0.34" fill="#555" opacity="0.47"/>
<circle cx="104.0" cy="363.7" r="0.29" fill="#555" opacity="0.44"/>
<circle cx="96.2" cy="361.1" r="0.26" fill="#555" opacity="0.59"/>
<circle cx="104.0" cy="364.2" r="0.27" fill="#555" opacity="0.49"/>
<circle cx="98.7" cy="361.6" r="0.29" fill="#555" opacity="0.47"/>
<circle cx="84.8" cy="361.4" r="0.38" fill="#555" opacity="0.44"/>
<circle cx="99.1" cy="363.2" r="0.43" fill="#555" opacity="0.41"/>
<circle cx="89.5" cy="362.0" r="0.26" fill="#555" opacity="0.42"/>
<polygon fill="#f1f1f1" points="70.3,328.4 68.0,330.0 67.2,331.6 66.6,333.2 66.0,334.7 65.6,336.3 65.2,337.9 64.8,339.5 64.5,341.1 64.2,342.7 63.9,344.3 63.6,345.8 63.3,347.4 63.0,349.0 62.8,350.6 77.8,350.6 77.6,349.0 77.3,347.4 77.0,345.8 76.7,344.3 76.4,342.7 76.1,341.1 75.8,339.5 75.4,337.9 75.0,336.3 74.6,334.7 74.0,333.2 73.4,331.6 72.6,330.0 70.3,328.4"/>
<polygon fill="none" stroke="#8a8a8a" stroke-width="0.55" points="70.3,332.1 68.7,333.3 68.1,334.5 67.6,335.7 67.2,336.9 66.8,338.1 66.5,339.3 66.2,340.5 65.9,341.8 65.6,343.0 65.4,344.2 65.1,345.4 64.9,346.6 64.7,347.8 64.5,349.0 76.1,349.0 75.9,347.8 75.7,346.6 75.5,345.4 75.2,344.2 75.0,343.0 74.7,341.8 74.4,340.5 74.1,339.3 73.8,338.1 73.4,336.9 73.0,335.7 72.5,334.5 71.9,333.3 70.3,332.1"/>
<polygon fill="none" stroke="#9a9a9a" stroke-width="0.55" points="70.3,335.9 69.2,336.7 68.7,337.6 68.4,338.5 68.1,339.3 67.8,340.2 67.6,341.0 67.4,341.9 67.2,342.7 67.0,343.6 66.8,344.4 66.6,345.3 66.5,346.1 66.3,347.0 66.2,347.9 74.4,347.9 74.3,347.0 74.1,346.1 74.0,345.3 73.8,344.4 73.6,343.6 73.4,342.7 73.2,341.9 73.0,341.0 72.8,340.2 72.5,339.3 72.2,338.5 71.9,337.6 71.4,336.7 70.3,335.9"/>
<polygon fill="none" stroke="#aaa" stroke-width="0.55" points="70.3,339.6 69.6,340.1 69.4,340.6 69.2,341.1 69.0,341.6 68.8,342.1 68.7,342.6 68.5,343.1 68.4,343.7 68.3,344.2 68.2,344.7 68.1,345.2 68.0,345.7 67.9,346.2 67.8,346.7 72.8,346.7 72.7,346.2 72.6,345.7 72.5,345.2 72.4,344.7 72.3,344.2 72.2,343.7 72.1,343.1 71.9,342.6 71.8,342.1 71.6,341.6 71.4,341.1 71.2,340.6 71.0,340.1 70.3,339.6"/>
<circle cx="74.4" cy="334.5" r="0.61" fill="#333" opacity="0.99"/>
<circle cx="76.6" cy="341.0" r="0.56" fill="#222" opacity="0.83"/>
<circle cx="76.4" cy="340.8" r="0.51" fill="#111" opacity="0.76"/>
<circle cx="72.9" cy="330.0" r="0.53" fill="#111" opacity="0.92"/>
<circle cx="63.5" cy="347.7" r="0.41" fill="#555" opacity="0.85"/>
<circle cx="73.0" cy="330.0" r="0.58" fill="#111" opacity="0.75"/>
<circle cx="77.5" cy="345.2" r="0.61" fill="#222" opacity="0.77"/>
<circle cx="66.6" cy="334.0" r="0.50" fill="#111" opacity="0.93"/>
<circle cx="76.3" cy="344.9" r="0.48" fill="#111" opacity="0.87"/>
<circle cx="63.7" cy="339.9" r="0.49" fill="#555" opacity="0.82"/>
<circle cx="68.7" cy="329.6" r="0.48" fill="#111" opacity="0.87"/>
<circle cx="67.8" cy="330.0" r="0.39" fill="#111" opacity="0.71"/>
<circle cx="65.3" cy="339.6" r="0.46" fill="#222" opacity="0.89"/>
<circle cx="72.1" cy="328.8" r="0.55" fill="#333" opacity="0.97"/>
<circle cx="68.8" cy="329.0" r="0.47" fill="#333" opacity="0.89"/>
<circle cx="67.2" cy="330.3" r="0.44" fill="#555" opacity="0.79"/>
<circle cx="67.3" cy="330.7" r="0.54" fill="#555" opacity="0.79"/>
<circle cx="76.7" cy="344.7" r="0.44" fill="#111" opacity="0.85"/>
<circle cx="63.9" cy="340.7" r="0.60" fill="#333" opacity="0.83"/>
<circle cx="78.1" cy="350.4" r="0.53" fill="#222" opacity="0.92"/>
<circle cx="74.4" cy="333.0" r="0.40" fill="#111" opacity="0.72"/>
<circle cx="67.1" cy="329.3" r="0.43" fill="#555" opacity="0.74"/>
<circle cx="68.6" cy="329.1" r="0.59" fill="#222" opacity="0.72"/>
<circle cx="71.7" cy="329.5" r="0.53" fill="#111" opacity="0.92"/>
<circle cx="64.5" cy="337.3" r="0.42" fill="#333" opacity="0.95"/>
<circle cx="65.5" cy="338.3" r="0.41" fill="#111" opacity="0.67"/>
<circle cx="76.3" cy="343.1" r="0.58" fill="#222" opacity="0.70"/>
<circle cx="76.5" cy="348.5" r="0.54" fill="#111" opacity="0.66"/>
<circle cx="64.8" cy="340.6" r="0.38" fill="#222" opacity="1.00"/>
<circle cx="76.8" cy="347.0" r="0.63" fill="#333" opacity="0.77"/>
<circle cx="62.5" cy="348.2" r="0.43" fill="#111" opacity="0.74"/>
<circle cx="62.6" cy="350.5" r="0.52" fill="#555" opacity="0.79"/>
<circle cx="78.4" cy="345.8" r="0.63" fill="#111" opacity="0.70"/>
<circle cx="75.2" cy="338.3" r="0.40" fill="#222" opacity="0.75"/>
<circle cx="73.8" cy="331.7" r="0.63" fill="#111" opacity="0.96"/>
<circle cx="77.8" cy="347.9" r="0.37" fill="#222" opacity="0.73"/>
<circle cx="70.8" cy="329.2" r="0.58" fill="#111" opacity="0.79"/>
<circle cx="74.5" cy="335.2" r="0.40" fill="#222" opacity="0.92"/>
<circle cx="62.3" cy="347.9" r="0.59" fill="#222" opacity="0.97"/>
<circle cx="66.4" cy="331.4" r="0.58" fill="#111" opacity="0.97"/>
<circle cx="75.1" cy="335.2" r="0.45" fill="#222" opacity="0.79"/>
<circle cx="64.0" cy="341.1" r="0.40" fill="#555" opacity="0.82"/>
<circle cx="73.1" cy="330.1" r="0.42" fill="#111" opacity="0.71"/>
<circle cx="77.2" cy="346.5" r="0.38" fill="#555" opacity="0.96"/>
<circle cx="67.9" cy="329.9" r="0.52" fill="#333" opacity="0.65"/>
<circle cx="77.6" cy="343.9" r="0.65" fill="#222" opacity="0.64"/>
<circle cx="74.3" cy="333.0" r="0.39" fill="#111" opacity="0.78"/>
<circle cx="75.2" cy="337.9" r="0.41" fill="#555" opacity="0.62"/>
<circle cx="65.6" cy="336.0" r="0.51" fill="#222" opacity="0.88"/>
<circle cx="73.6" cy="331.4" r="0.58" fill="#222" opacity="0.68"/>
<circle cx="76.0" cy="339.5" r="0.41" fill="#111" opacity="0.88"/>
<circle cx="76.3" cy="337.3" r="0.45" fill="#555" opacity="0.64"/>
<circle cx="75.1" cy="335.4" r="0.42" fill="#333" opacity="0.61"/>
<circle cx="75.8" cy="342.2" r="0.51" fill="#555" opacity="0.99"/>
<circle cx="72.0" cy="329.5" r="0.58" fill="#555" opacity="0.83"/>
<circle cx="77.6" cy="348.0" r="0.48" fill="#111" opacity="0.81"/>
<circle cx="63.5" cy="338.8" r="0.54" fill="#222" opacity="0.64"/>
<circle cx="66.7" cy="332.2" r="0.63" fill="#222" opacity="0.70"/>
<circle cx="63.6" cy="345.8" r="0.56" fill="#111" opacity="0.74"/>
<circle cx="72.4" cy="329.9" r="0.50" fill="#333" opacity="0.64"/>
<circle cx="67.7" cy="329.6" r="0.61" fill="#222" opacity="0.87"/>
<circle cx="66.0" cy="337.6" r="0.63" fill="#555" opacity="0.88"/>
<circle cx="64.5" cy="340.0" r="0.58" fill="#333" opacity="0.76"/>
<circle cx="77.2" cy="345.3" r="0.59" fill="#111" opacity="0.73"/>
<circle cx="72.9" cy="330.0" r="0.55" fill="#111" opacity="0.75"/>
<circle cx="64.3" cy="338.7" r="0.42" fill="#555" opacity="0.99"/>
<circle cx="62.7" cy="344.3" r="0.36" fill="#333" opacity="0.97"/>
<circle cx="64.9" cy="340.0" r="0.54" fill="#333" opacity="0.65"/>
<circle cx="69.6" cy="328.6" r="0.44" fill="#222" opacity="0.65"/>
<circle cx="76.8" cy="339.8" r="0.38" fill="#222" opacity="0.78"/>
<circle cx="76.5" cy="337.3" r="0.43" fill="#111" opacity="0.90"/>
<circle cx="66.9" cy="333.3" r="0.55" fill="#222" opacity="0.82"/>
<circle cx="75.0" cy="334.5" r="0.49" fill="#333" opacity="0.61"/>
<circle cx="74.7" cy="334.6" r="0.35" fill="#333" opacity="0.66"/>
<circle cx="77.7" cy="349.7" r="0.44" fill="#222" opacity="0.72"/>
<circle cx="77.2" cy="344.6" r="0.48" fill="#111" opacity="0.81"/>
<circle cx="63.8" cy="346.8" r="0.65" fill="#222" opacity="0.77"/>
<circle cx="76.8" cy="342.1" r="0.60" fill="#111" opacity="0.90"/>
<circle cx="63.6" cy="343.2" r="0.47" fill="#111" opacity="0.60"/>
<circle cx="64.1" cy="344.0" r="0.48" fill="#333" opacity="0.95"/>
<circle cx="75.8" cy="340.7" r="0.44" fill="#333" opacity="0.72"/>
<circle cx="74.6" cy="335.1" r="0.35" fill="#555" opacity="0.75"/>
<circle cx="73.7" cy="333.1" r="0.52" fill="#222" opacity="0.64"/>
<circle cx="63.3" cy="349.3" r="0.64" fill="#222" opacity="0.99"/>
<circle cx="77.8" cy="347.6" r="0.52" fill="#555" opacity="0.72"/>
<circle cx="75.6" cy="339.2" r="0.51" fill="#555" opacity="0.76"/>
<circle cx="66.2" cy="334.3" r="0.55" fill="#222" opacity="0.64"/>
<circle cx="66.2" cy="335.3" r="0.61" fill="#555" opacity="0.79"/>
<circle cx="74.3" cy="335.2" r="0.56" fill="#111" opacity="0.67"/>
<circle cx="65.5" cy="333.6" r="0.38" fill="#333" opacity="0.88"/>
<circle cx="78.6" cy="345.7" r="0.54" fill="#333" opacity="0.93"/>
<circle cx="66.8" cy="331.2" r="0.54" fill="#111" opacity="0.74"/>
<circle cx="78.0" cy="350.3" r="0.35" fill="#111" opacity="0.72"/>
<circle cx="63.4" cy="342.4" r="0.53" fill="#111" opacity="0.68"/>
<circle cx="65.3" cy="337.6" r="0.52" fill="#555" opacity="0.84"/>
<circle cx="67.9" cy="330.3" r="0.38" fill="#222" opacity="0.98"/>
<circle cx="65.5" cy="337.6" r="0.55" fill="#333" opacity="0.66"/>
<circle cx="66.8" cy="332.2" r="0.61" fill="#111" opacity="0.74"/>
<circle cx="75.2" cy="336.7" r="0.52" fill="#111" opacity="0.78"/>
<circle cx="64.3" cy="340.8" r="0.44" fill="#555" opacity="0.72"/>
<circle cx="63.8" cy="340.0" r="0.42" fill="#555" opacity="0.87"/>
<circle cx="75.7" cy="340.0" r="0.36" fill="#222" opacity="0.63"/>
<circle cx="73.2" cy="330.9" r="0.47" fill="#333" opacity="0.65"/>
<circle cx="65.1" cy="338.9" r="0.64" fill="#555" opacity="0.93"/>
<circle cx="74.7" cy="334.7" r="0.45" fill="#555" opacity="0.61"/>
<circle cx="64.2" cy="342.0" r="0.38" fill="#333" opacity="0.82"/>
<circle cx="64.0" cy="344.7" r="0.40" fill="#333" opacity="0.69"/>
<circle cx="74.7" cy="335.1" r="0.64" fill="#222" opacity="0.69"/>
<circle cx="75.8" cy="337.2" r="0.53" fill="#555" opacity="0.84"/>
<circle cx="65.8" cy="335.4" r="0.39" fill="#111" opacity="0.87"/>
<circle cx="72.5" cy="328.9" r="0.36" fill="#222" opacity="0.72"/>
<circle cx="65.5" cy="335.4" r="0.45" fill="#111" opacity="0.63"/>
<circle cx="62.4" cy="347.4" r="0.37" fill="#333" opacity="0.64"/>
<circle cx="74.4" cy="332.6" r="0.47" fill="#555" opacity="0.91"/>
<circle cx="77.9" cy="347.2" r="0.40" fill="#333" opacity="0.87"/>
<circle cx="76.2" cy="342.1" r="0.42" fill="#555" opacity="0.74"/>
<circle cx="64.1" cy="341.1" r="0.56" fill="#111" opacity="0.76"/>
<circle cx="65.1" cy="340.7" r="0.46" fill="#111" opacity="0.82"/>
<circle cx="63.6" cy="340.6" r="0.52" fill="#333" opacity="0.97"/>
<circle cx="65.1" cy="341.3" r="0.60" fill="#333" opacity="0.96"/>
<circle cx="63.8" cy="346.8" r="0.55" fill="#111" opacity="0.92"/>
<circle cx="66.6" cy="331.1" r="0.48" fill="#555" opacity="1.00"/>
<circle cx="76.4" cy="341.1" r="0.63" fill="#555" opacity="0.78"/>
<circle cx="74.0" cy="334.2" r="0.50" fill="#222" opacity="0.77"/>
<circle cx="64.7" cy="337.9" r="0.36" fill="#333" opacity="0.67"/>
<circle cx="73.2" cy="330.4" r="0.42" fill="#111" opacity="0.67"/>
<circle cx="65.5" cy="334.7" r="0.39" fill="#555" opacity="0.87"/>
<circle cx="73.8" cy="332.7" r="0.39" fill="#333" opacity="0.88"/>
<circle cx="67.8" cy="329.5" r="0.45" fill="#111" opacity="0.82"/>
<circle cx="77.5" cy="344.8" r="0.60" fill="#555" opacity="0.93"/>
<circle cx="68.0" cy="330.3" r="0.36" fill="#333" opacity="0.72"/>
<circle cx="68.2" cy="331.0" r="0.45" fill="#555" opacity="0.83"/>
<circle cx="74.1" cy="333.1" r="0.65" fill="#555" opacity="0.63"/>
<circle cx="63.1" cy="343.0" r="0.54" fill="#555" opacity="0.80"/>
<circle cx="63.7" cy="345.2" r="0.54" fill="#333" opacity="0.86"/>
<circle cx="72.2" cy="329.2" r="0.60" fill="#333" opacity="0.75"/>
<circle cx="64.0" cy="349.4" r="0.38" fill="#333" opacity="0.90"/>
<circle cx="74.8" cy="334.7" r="0.42" fill="#222" opacity="0.82"/>
<circle cx="65.7" cy="334.5" r="0.38" fill="#555" opacity="0.96"/>
<circle cx="63.4" cy="349.1" r="0.65" fill="#111" opacity="0.66"/>
<circle cx="74.0" cy="332.4" r="0.38" fill="#111" opacity="0.94"/>
<circle cx="65.0" cy="337.7" r="0.60" fill="#555" opacity="0.66"/>
<circle cx="72.3" cy="329.5" r="0.37" fill="#111" opacity="0.87"/>
<circle cx="77.7" cy="345.7" r="0.35" fill="#333" opacity="0.83"/>
<circle cx="74.9" cy="336.9" r="0.64" fill="#222" opacity="0.99"/>
<circle cx="63.5" cy="348.9" r="0.57" fill="#333" opacity="0.84"/>
<circle cx="73.5" cy="332.7" r="0.55" fill="#222" opacity="0.72"/>
<circle cx="65.9" cy="334.2" r="0.42" fill="#555" opacity="0.88"/>
<circle cx="72.7" cy="330.1" r="0.46" fill="#222" opacity="0.83"/>
<circle cx="65.4" cy="335.6" r="0.51" fill="#111" opacity="0.69"/>
<circle cx="77.2" cy="345.9" r="0.56" fill="#222" opacity="0.82"/>
<circle cx="67.0" cy="331.8" r="0.61" fill="#111" opacity="0.92"/>
<circle cx="68.0" cy="330.2" r="0.54" fill="#111" opacity="0.78"/>
<circle cx="65.3" cy="341.9" r="0.52" fill="#111" opacity="0.65"/>
<circle cx="77.5" cy="344.7" r="0.36" fill="#222" opacity="0.78"/>
<circle cx="67.6" cy="330.8" r="0.54" fill="#222" opacity="0.83"/>
<circle cx="78.1" cy="348.1" r="0.59" fill="#111" opacity="0.93"/>
<circle cx="72.5" cy="330.6" r="0.57" fill="#111" opacity="0.93"/>
<circle cx="66.1" cy="334.8" r="0.36" fill="#222" opacity="0.70"/>
<circle cx="72.9" cy="331.6" r="0.38" fill="#111" opacity="0.80"/>
<circle cx="72.1" cy="329.5" r="0.61" fill="#555" opacity="0.93"/>
<circle cx="76.1" cy="341.6" r="0.63" fill="#111" opacity="0.61"/>
<circle cx="63.2" cy="350.5" r="0.59" fill="#111" opacity="0.63"/>
<circle cx="75.9" cy="340.1" r="0.64" fill="#555" opacity="0.76"/>
<circle cx="77.4" cy="347.0" r="0.51" fill="#333" opacity="0.96"/>
<circle cx="76.4" cy="339.9" r="0.57" fill="#333" opacity="0.83"/>
<circle cx="74.9" cy="335.2" r="0.45" fill="#111" opacity="0.70"/>
<circle cx="63.7" cy="346.8" r="0.43" fill="#333" opacity="0.63"/>
<circle cx="63.0" cy="350.9" r="0.65" fill="#111" opacity="0.97"/>
<circle cx="78.1" cy="348.1" r="0.54" fill="#111" opacity="0.75"/>
<circle cx="66.3" cy="332.0" r="0.55" fill="#333" opacity="0.99"/>
<circle cx="66.5" cy="334.9" r="0.46" fill="#555" opacity="0.73"/>
<circle cx="76.2" cy="341.8" r="0.50" fill="#222" opacity="0.92"/>
<circle cx="78.4" cy="350.8" r="0.47" fill="#555" opacity="0.83"/>
<circle cx="74.4" cy="333.5" r="0.57" fill="#333" opacity="0.89"/>
<circle cx="64.3" cy="338.8" r="0.53" fill="#111" opacity="0.83"/>
<circle cx="74.1" cy="333.9" r="0.57" fill="#111" opacity="0.94"/>
<circle cx="65.8" cy="334.7" r="0.58" fill="#333" opacity="0.69"/>
<circle cx="71.3" cy="328.7" r="0.61" fill="#111" opacity="0.68"/>
<circle cx="62.9" cy="343.3" r="0.37" fill="#333" opacity="0.89"/>
<circle cx="69.9" cy="329.1" r="0.54" fill="#111" opacity="0.68"/>
<circle cx="74.5" cy="333.2" r="0.53" fill="#333" opacity="0.67"/>
<circle cx="77.6" cy="346.7" r="0.58" fill="#555" opacity="0.70"/>
<circle cx="76.4" cy="337.0" r="0.37" fill="#333" opacity="0.66"/>
<circle cx="69.4" cy="329.1" r="0.46" fill="#333" opacity="0.77"/>
<circle cx="75.3" cy="338.3" r="0.42" fill="#333" opacity="0.93"/>
<circle cx="76.1" cy="337.4" r="0.52" fill="#333" opacity="0.81"/>
<circle cx="78.0" cy="349.0" r="0.38" fill="#333" opacity="0.66"/>
<circle cx="65.4" cy="341.6" r="0.54" fill="#111" opacity="0.62"/>
<circle cx="75.4" cy="337.7" r="0.57" fill="#222" opacity="0.95"/>
<circle cx="77.7" cy="346.1" r="0.58" fill="#222" opacity="0.78"/>
<circle cx="77.8" cy="347.9" r="0.49" fill="#333" opacity="0.92"/>
<circle cx="71.3" cy="328.6" r="0.55" fill="#333" opacity="0.62"/>
<circle cx="65.5" cy="339.9" r="0.36" fill="#111" opacity="0.70"/>
<circle cx="75.3" cy="336.6" r="0.54" fill="#333" opacity="0.95"/>
<circle cx="76.4" cy="337.6" r="0.61" fill="#333" opacity="0.98"/>
<circle cx="67.8" cy="330.4" r="0.50" fill="#222" opacity="0.66"/>
<circle cx="64.4" cy="341.9" r="0.61" fill="#222" opacity="0.94"/>
<circle cx="77.9" cy="343.8" r="0.40" fill="#222" opacity="1.00"/>
<circle cx="66.2" cy="333.3" r="0.39" fill="#333" opacity="0.66"/>
<circle cx="77.2" cy="343.7" r="0.38" fill="#333" opacity="0.86"/>
<circle cx="64.4" cy="342.0" r="0.53" fill="#222" opacity="0.92"/>
<circle cx="63.3" cy="342.5" r="0.52" fill="#111" opacity="0.89"/>
<circle cx="68.8" cy="328.8" r="0.39" fill="#555" opacity="0.99"/>
<circle cx="64.5" cy="338.3" r="0.54" fill="#111" opacity="0.81"/>
<circle cx="62.9" cy="346.2" r="0.61" fill="#222" opacity="0.89"/>
<circle cx="66.4" cy="333.1" r="0.64" fill="#222" opacity="0.80"/>
<circle cx="65.9" cy="335.5" r="0.45" fill="#111" opacity="0.86"/>
<circle cx="75.2" cy="338.5" r="0.47" fill="#333" opacity="0.82"/>
<circle cx="75.3" cy="335.8" r="0.59" fill="#111" opacity="0.70"/>
<circle cx="76.3" cy="337.7" r="0.65" fill="#222" opacity="0.87"/>
<circle cx="68.3" cy="329.4" r="0.47" fill="#333" opacity="0.87"/>
<circle cx="65.6" cy="335.9" r="0.49" fill="#555" opacity="0.80"/>
<circle cx="76.5" cy="339.9" r="0.46" fill="#111" opacity="0.76"/>
<circle cx="75.3" cy="337.9" r="0.37" fill="#222" opacity="0.97"/>
<circle cx="77.0" cy="345.2" r="0.51" fill="#555" opacity="0.83"/>
<circle cx="79.2" cy="350.9" r="0.51" fill="#222" opacity="0.93"/>
<circle cx="74.1" cy="332.9" r="0.40" fill="#111" opacity="0.73"/>
<circle cx="75.0" cy="334.2" r="0.40" fill="#333" opacity="0.75"/>
<circle cx="74.5" cy="334.2" r="0.49" fill="#111" opacity="0.71"/>
<circle cx="74.1" cy="333.2" r="0.57" fill="#222" opacity="0.90"/>
<circle cx="67.7" cy="330.0" r="0.54" fill="#333" opacity="0.92"/>
<circle cx="73.9" cy="332.4" r="0.37" fill="#222" opacity="0.72"/>
<circle cx="76.2" cy="338.6" r="0.60" fill="#111" opacity="0.81"/>
<circle cx="75.8" cy="337.7" r="0.54" fill="#333" opacity="0.97"/>
<circle cx="76.7" cy="343.2" r="0.64" fill="#555" opacity="0.86"/>
<circle cx="63.7" cy="345.9" r="0.63" fill="#222" opacity="0.99"/>
<circle cx="63.3" cy="346.5" r="0.45" fill="#111" opacity="0.63"/>
<circle cx="65.7" cy="336.8" r="0.38" fill="#555" opacity="0.97"/>
<circle cx="65.5" cy="343.3" r="0.62" fill="#555" opacity="0.76"/>
<circle cx="67.7" cy="330.2" r="0.57" fill="#555" opacity="0.82"/>
<circle cx="77.7" cy="349.0" r="0.58" fill="#111" opacity="0.64"/>
<circle cx="77.4" cy="346.4" r="0.38" fill="#222" opacity="0.83"/>
<circle cx="71.8" cy="328.3" r="0.61" fill="#555" opacity="0.94"/>
<circle cx="67.8" cy="330.4" r="0.45" fill="#222" opacity="0.81"/>
<circle cx="70.8" cy="328.4" r="0.38" fill="#555" opacity="0.70"/>
<circle cx="76.8" cy="346.6" r="0.55" fill="#333" opacity="0.72"/>
<circle cx="78.0" cy="346.0" r="0.44" fill="#222" opacity="0.62"/>
<circle cx="75.5" cy="339.0" r="0.56" fill="#222" opacity="0.75"/>
<circle cx="62.9" cy="346.3" r="0.57" fill="#111" opacity="0.81"/>
<circle cx="74.7" cy="335.5" r="0.42" fill="#555" opacity="0.72"/>
<circle cx="77.0" cy="342.2" r="0.47" fill="#555" opacity="0.68"/>
<circle cx="66.9" cy="332.3" r="0.36" fill="#111" opacity="0.93"/>
<circle cx="64.3" cy="337.7" r="0.50" fill="#333" opacity="0.92"/>
<circle cx="64.3" cy="339.3" r="0.50" fill="#555" opacity="0.64"/>
<circle cx="77.7" cy="344.6" r="0.56" fill="#555" opacity="0.87"/>
<circle cx="67.2" cy="330.8" r="0.40" fill="#555" opacity="0.72"/>
<circle cx="67.1" cy="331.8" r="0.44" fill="#333" opacity="0.73"/>
<circle cx="62.5" cy="347.0" r="0.47" fill="#111" opacity="0.73"/>
<circle cx="67.6" cy="331.3" r="0.41" fill="#222" opacity="0.89"/>
<circle cx="75.1" cy="335.9" r="0.39" fill="#222" opacity="1.00"/>
<circle cx="77.4" cy="348.9" r="0.36" fill="#555" opacity="0.96"/>
<circle cx="77.9" cy="348.6" r="0.53" fill="#111" opacity="0.68"/>
<circle cx="65.1" cy="336.2" r="0.52" fill="#333" opacity="0.61"/>
<circle cx="63.9" cy="340.0" r="0.55" fill="#111" opacity="0.67"/>
<circle cx="74.3" cy="334.4" r="0.40" fill="#333" opacity="0.92"/>
<circle cx="64.6" cy="343.4" r="0.59" fill="#555" opacity="0.78"/>
<circle cx="69.2" cy="328.7" r="0.47" fill="#333" opacity="0.63"/>
<circle cx="63.8" cy="342.8" r="0.45" fill="#555" opacity="0.72"/>
<circle cx="66.4" cy="332.8" r="0.50" fill="#111" opacity="0.73"/>
<circle cx="66.4" cy="330.1" r="0.26" fill="#444" opacity="0.50"/>
<circle cx="74.9" cy="331.9" r="0.36" fill="#444" opacity="0.80"/>
<circle cx="76.6" cy="330.9" r="0.36" fill="#444" opacity="0.50"/>
<circle cx="66.7" cy="331.9" r="0.26" fill="#444" opacity="0.72"/>
<circle cx="72.6" cy="330.8" r="0.40" fill="#444" opacity="0.43"/>
<circle cx="64.5" cy="329.9" r="0.45" fill="#444" opacity="0.57"/>
<circle cx="71.6" cy="330.9" r="0.36" fill="#444" opacity="0.45"/>
<circle cx="72.2" cy="330.7" r="0.30" fill="#444" opacity="0.71"/>
<circle cx="70.6" cy="328.6" r="0.41" fill="#444" opacity="0.43"/>
<circle cx="68.7" cy="331.0" r="0.29" fill="#444" opacity="0.71"/>
<circle cx="66.5" cy="331.1" r="0.27" fill="#444" opacity="0.70"/>
<circle cx="71.3" cy="330.6" r="0.31" fill="#444" opacity="0.77"/>
<circle cx="72.8" cy="331.6" r="0.41" fill="#444" opacity="0.46"/>
<circle cx="70.4" cy="330.6" r="0.41" fill="#444" opacity="0.71"/>
<circle cx="64.7" cy="329.5" r="0.39" fill="#444" opacity="0.68"/>
<circle cx="67.1" cy="332.3" r="0.43" fill="#444" opacity="0.42"/>
<circle cx="70.6" cy="330.1" r="0.26" fill="#444" opacity="0.64"/>
<circle cx="63.1" cy="330.9" r="0.26" fill="#444" opacity="0.55"/>
<circle cx="68.8" cy="329.2" r="0.44" fill="#444" opacity="0.63"/>
<circle cx="74.5" cy="330.6" r="0.40" fill="#444" opacity="0.60"/>
<circle cx="66.3" cy="329.7" r="0.31" fill="#444" opacity="0.42"/>
<circle cx="69.7" cy="328.7" r="0.39" fill="#444" opacity="0.47"/>
<circle cx="68.4" cy="329.3" r="0.44" fill="#444" opacity="0.61"/>
<circle cx="74.2" cy="330.0" r="0.38" fill="#444" opacity="0.65"/>
<circle cx="63.5" cy="331.0" r="0.41" fill="#444" opacity="0.70"/>
<circle cx="74.0" cy="331.4" r="0.37" fill="#444" opacity="0.62"/>
<circle cx="75.6" cy="330.9" r="0.44" fill="#444" opacity="0.76"/>
<circle cx="63.9" cy="331.4" r="0.33" fill="#444" opacity="0.65"/>
<circle cx="73.7" cy="330.8" r="0.33" fill="#444" opacity="0.78"/>
<circle cx="65.9" cy="329.9" r="0.41" fill="#444" opacity="0.67"/>
<circle cx="75.2" cy="331.4" r="0.31" fill="#444" opacity="0.52"/>
<circle cx="72.5" cy="328.3" r="0.43" fill="#444" opacity="0.59"/>
<circle cx="69.2" cy="330.3" r="0.28" fill="#444" opacity="0.62"/>
<circle cx="65.4" cy="331.5" r="0.34" fill="#444" opacity="0.41"/>
<circle cx="66.9" cy="328.4" r="0.29" fill="#444" opacity="0.76"/>
<circle cx="68.9" cy="329.6" r="0.30" fill="#444" opacity="0.49"/>
<circle cx="72.0" cy="330.1" r="0.43" fill="#444" opacity="0.56"/>
<circle cx="68.5" cy="330.9" r="0.28" fill="#444" opacity="0.54"/>
<circle cx="76.1" cy="329.7" r="0.44" fill="#444" opacity="0.52"/>
<circle cx="66.8" cy="328.9" r="0.41" fill="#444" opacity="0.64"/>
<circle cx="77.0" cy="329.9" r="0.33" fill="#444" opacity="0.40"/>
<circle cx="73.5" cy="331.7" r="0.30" fill="#444" opacity="0.63"/>
<circle cx="73.1" cy="329.2" r="0.39" fill="#444" opacity="0.79"/>
<circle cx="74.4" cy="329.5" r="0.38" fill="#444" opacity="0.45"/>
<circle cx="73.2" cy="330.9" r="0.33" fill="#444" opacity="0.61"/>
<circle cx="68.3" cy="330.6" r="0.31" fill="#444" opacity="0.52"/>
<circle cx="73.8" cy="329.5" r="0.44" fill="#444" opacity="0.72"/>
<circle cx="64.0" cy="331.3" r="0.35" fill="#444" opacity="0.68"/>
<circle cx="62.7" cy="331.4" r="0.43" fill="#444" opacity="0.45"/>
<circle cx="68.7" cy="330.3" r="0.35" fill="#444" opacity="0.46"/>
<circle cx="71.9" cy="329.8" r="0.44" fill="#444" opacity="0.59"/>
<circle cx="62.3" cy="331.4" r="0.30" fill="#444" opacity="0.48"/>
<circle cx="75.7" cy="331.3" r="0.45" fill="#444" opacity="0.47"/>
<circle cx="72.2" cy="328.2" r="0.38" fill="#444" opacity="0.50"/>
<circle cx="72.7" cy="331.6" r="0.36" fill="#444" opacity="0.56"/>
<circle cx="63.0" cy="330.6" r="0.38" fill="#444" opacity="0.60"/>
<circle cx="75.4" cy="332.0" r="0.43" fill="#444" opacity="0.53"/>
<circle cx="74.9" cy="330.7" r="0.26" fill="#444" opacity="0.61"/>
<circle cx="74.2" cy="331.7" r="0.41" fill="#444" opacity="0.42"/>
<circle cx="67.4" cy="329.9" r="0.39" fill="#444" opacity="0.76"/>
<circle cx="72.1" cy="328.2" r="0.41" fill="#444" opacity="0.54"/>
<circle cx="72.6" cy="330.6" r="0.43" fill="#444" opacity="0.59"/>
<circle cx="72.8" cy="328.4" r="0.33" fill="#444" opacity="0.67"/>
<circle cx="68.5" cy="330.3" r="0.41" fill="#444" opacity="0.59"/>
<circle cx="63.4" cy="330.3" r="0.37" fill="#444" opacity="0.60"/>
<polygon fill="#f1f1f1" points="88.8,329.4 86.7,330.9 85.9,332.3 85.4,333.8 84.9,335.2 84.5,336.7 84.1,338.1 83.7,339.6 83.4,341.1 83.1,342.5 82.9,344.0 82.6,345.4 82.4,346.9 82.1,348.3 81.9,349.8 95.7,349.8 95.5,348.3 95.2,346.9 95.0,345.4 94.7,344.0 94.5,342.5 94.2,341.1 93.9,339.6 93.5,338.1 93.1,336.7 92.7,335.2 92.2,333.8 91.7,332.3 90.9,330.9 88.8,329.4"/>
<polygon fill="none" stroke="#8a8a8a" stroke-width="0.55" points="88.8,332.8 87.4,333.9 86.8,335.0 86.3,336.1 85.9,337.2 85.6,338.3 85.3,339.4 85.0,340.6 84.7,341.7 84.5,342.8 84.3,343.9 84.0,345.0 83.8,346.1 83.6,347.2 83.4,348.4 94.2,348.4 94.0,347.2 93.8,346.1 93.6,345.0 93.3,343.9 93.1,342.8 92.9,341.7 92.6,340.6 92.3,339.4 92.0,338.3 91.7,337.2 91.3,336.1 90.8,335.0 90.2,333.9 88.8,332.8"/>
<polygon fill="none" stroke="#9a9a9a" stroke-width="0.55" points="88.8,336.3 87.8,337.1 87.4,337.9 87.0,338.6 86.8,339.4 86.5,340.2 86.3,341.0 86.1,341.8 85.9,342.6 85.8,343.4 85.6,344.1 85.4,344.9 85.3,345.7 85.1,346.5 85.0,347.3 92.6,347.3 92.5,346.5 92.3,345.7 92.2,344.9 92.0,344.1 91.8,343.4 91.7,342.6 91.5,341.8 91.3,341.0 91.1,340.2 90.8,339.4 90.6,338.6 90.2,337.9 89.8,337.1 88.8,336.3"/>
<polygon fill="none" stroke="#aaa" stroke-width="0.55" points="88.8,339.7 88.2,340.1 87.9,340.6 87.7,341.1 87.6,341.5 87.4,342.0 87.3,342.5 87.2,342.9 87.1,343.4 87.0,343.9 86.9,344.4 86.8,344.8 86.7,345.3 86.6,345.8 86.5,346.2 91.1,346.2 91.0,345.8 90.9,345.3 90.8,344.8 90.7,344.4 90.6,343.9 90.5,343.4 90.4,342.9 90.3,342.5 90.2,342.0 90.0,341.5 89.9,341.1 89.7,340.6 89.4,340.1 88.8,339.7"/>
<circle cx="84.0" cy="336.9" r="0.40" fill="#555" opacity="0.86"/>
<circle cx="95.2" cy="346.1" r="0.46" fill="#555" opacity="0.81"/>
<circle cx="85.4" cy="333.4" r="0.36" fill="#333" opacity="0.74"/>
<circle cx="81.8" cy="348.7" r="0.61" fill="#111" opacity="0.90"/>
<circle cx="83.8" cy="342.4" r="0.63" fill="#222" opacity="0.86"/>
<circle cx="95.3" cy="348.4" r="0.47" fill="#333" opacity="0.76"/>
<circle cx="84.3" cy="338.8" r="0.51" fill="#555" opacity="0.87"/>
<circle cx="81.6" cy="347.7" r="0.63" fill="#111" opacity="0.80"/>
<circle cx="95.1" cy="345.5" r="0.41" fill="#333" opacity="0.91"/>
<circle cx="82.8" cy="341.8" r="0.55" fill="#222" opacity="0.80"/>
<circle cx="96.4" cy="346.8" r="0.61" fill="#222" opacity="0.86"/>
<circle cx="83.0" cy="347.4" r="0.58" fill="#333" opacity="0.84"/>
<circle cx="82.2" cy="347.8" r="0.46" fill="#111" opacity="0.65"/>
<circle cx="81.6" cy="349.2" r="0.48" fill="#111" opacity="0.99"/>
<circle cx="94.1" cy="339.9" r="0.38" fill="#222" opacity="0.72"/>
<circle cx="81.1" cy="348.1" r="0.42" fill="#222" opacity="0.71"/>
<circle cx="82.5" cy="348.8" r="0.58" fill="#111" opacity="0.92"/>
<circle cx="91.7" cy="334.2" r="0.57" fill="#111" opacity="0.76"/>
<circle cx="84.1" cy="338.0" r="0.59" fill="#333" opacity="0.86"/>
<circle cx="91.9" cy="332.5" r="0.49" fill="#555" opacity="0.68"/>
<circle cx="83.1" cy="340.7" r="0.37" fill="#111" opacity="0.78"/>
<circle cx="91.7" cy="331.8" r="0.41" fill="#333" opacity="0.90"/>
<circle cx="80.9" cy="348.1" r="0.37" fill="#222" opacity="0.77"/>
<circle cx="94.8" cy="345.1" r="0.52" fill="#222" opacity="0.83"/>
<circle cx="85.1" cy="334.4" r="0.56" fill="#555" opacity="0.96"/>
<circle cx="82.6" cy="345.0" r="0.61" fill="#333" opacity="0.91"/>
<circle cx="94.4" cy="337.3" r="0.49" fill="#222" opacity="0.94"/>
<circle cx="93.9" cy="339.1" r="0.43" fill="#111" opacity="0.98"/>
<circle cx="91.6" cy="332.9" r="0.58" fill="#555" opacity="0.66"/>
<circle cx="82.3" cy="347.3" r="0.41" fill="#555" opacity="0.61"/>
<circle cx="82.1" cy="345.1" r="0.41" fill="#111" opacity="0.94"/>
<circle cx="85.2" cy="334.5" r="0.35" fill="#222" opacity="0.96"/>
<circle cx="84.2" cy="335.9" r="0.63" fill="#555" opacity="0.78"/>
<circle cx="93.7" cy="339.3" r="0.58" fill="#111" opacity="0.94"/>
<circle cx="86.4" cy="330.8" r="0.57" fill="#555" opacity="0.88"/>
<circle cx="94.1" cy="338.2" r="0.37" fill="#222" opacity="0.92"/>
<circle cx="81.3" cy="347.0" r="0.54" fill="#111" opacity="0.70"/>
<circle cx="95.7" cy="347.5" r="0.36" fill="#222" opacity="0.98"/>
<circle cx="95.9" cy="348.6" r="0.43" fill="#222" opacity="0.79"/>
<circle cx="83.3" cy="337.3" r="0.41" fill="#222" opacity="0.85"/>
<circle cx="91.8" cy="334.3" r="0.62" fill="#111" opacity="0.63"/>
<circle cx="87.8" cy="329.5" r="0.56" fill="#333" opacity="0.78"/>
<circle cx="83.3" cy="341.7" r="0.60" fill="#555" opacity="0.68"/>
<circle cx="82.9" cy="341.9" r="0.53" fill="#111" opacity="0.82"/>
<circle cx="84.3" cy="335.4" r="0.38" fill="#333" opacity="0.72"/>
<circle cx="95.5" cy="344.5" r="0.58" fill="#111" opacity="0.63"/>
<circle cx="87.6" cy="329.0" r="0.51" fill="#555" opacity="0.99"/>
<circle cx="82.2" cy="347.7" r="0.62" fill="#111" opacity="0.89"/>
<circle cx="89.7" cy="328.8" r="0.59" fill="#111" opacity="0.67"/>
<circle cx="94.9" cy="348.6" r="0.59" fill="#333" opacity="0.61"/>
<circle cx="93.1" cy="335.8" r="0.58" fill="#333" opacity="0.71"/>
<circle cx="85.5" cy="333.1" r="0.51" fill="#333" opacity="0.97"/>
<circle cx="92.7" cy="333.6" r="0.59" fill="#222" opacity="0.64"/>
<circle cx="95.0" cy="346.1" r="0.37" fill="#111" opacity="0.99"/>
<circle cx="86.5" cy="331.3" r="0.63" fill="#555" opacity="0.97"/>
<circle cx="83.7" cy="337.7" r="0.42" fill="#111" opacity="0.89"/>
<circle cx="94.0" cy="337.4" r="0.53" fill="#222" opacity="0.88"/>
<circle cx="95.0" cy="343.2" r="0.64" fill="#111" opacity="0.88"/>
<circle cx="85.8" cy="333.6" r="0.55" fill="#111" opacity="0.88"/>
<circle cx="85.0" cy="334.1" r="0.37" fill="#111" opacity="0.66"/>
<circle cx="90.4" cy="330.8" r="0.63" fill="#555" opacity="0.67"/>
<circle cx="86.9" cy="331.0" r="0.48" fill="#111" opacity="0.94"/>
<circle cx="93.4" cy="337.4" r="0.60" fill="#222" opacity="0.64"/>
<circle cx="85.9" cy="332.6" r="0.60" fill="#111" opacity="0.96"/>
<circle cx="91.2" cy="330.9" r="0.40" fill="#222" opacity="0.79"/>
<circle cx="81.8" cy="345.9" r="0.52" fill="#222" opacity="0.62"/>
<circle cx="92.4" cy="335.0" r="0.46" fill="#222" opacity="0.66"/>
<circle cx="82.5" cy="345.0" r="0.61" fill="#222" opacity="0.71"/>
<circle cx="84.6" cy="335.1" r="0.62" fill="#555" opacity="0.94"/>
<circle cx="85.4" cy="332.6" r="0.37" fill="#555" opacity="0.93"/>
<circle cx="85.3" cy="332.8" r="0.38" fill="#555" opacity="0.64"/>
<circle cx="86.7" cy="330.8" r="0.48" fill="#111" opacity="0.65"/>
<circle cx="90.3" cy="330.5" r="0.52" fill="#111" opacity="0.80"/>
<circle cx="93.7" cy="338.3" r="0.38" fill="#555" opacity="0.81"/>
<circle cx="85.3" cy="333.7" r="0.38" fill="#555" opacity="0.71"/>
<circle cx="82.8" cy="348.1" r="0.59" fill="#333" opacity="0.64"/>
<circle cx="92.4" cy="333.4" r="0.49" fill="#222" opacity="0.80"/>
<circle cx="94.8" cy="339.8" r="0.56" fill="#111" opacity="0.81"/>
<circle cx="91.6" cy="332.7" r="0.39" fill="#333" opacity="0.90"/>
<circle cx="83.0" cy="347.0" r="0.56" fill="#111" opacity="0.84"/>
<circle cx="81.6" cy="347.5" r="0.44" fill="#222" opacity="0.94"/>
<circle cx="85.2" cy="334.3" r="0.47" fill="#222" opacity="0.61"/>
<circle cx="95.9" cy="349.1" r="0.55" fill="#222" opacity="0.85"/>
<circle cx="92.0" cy="332.1" r="0.43" fill="#333" opacity="0.61"/>
<circle cx="91.2" cy="332.2" r="0.58" fill="#222" opacity="0.93"/>
<circle cx="88.8" cy="329.2" r="0.49" fill="#555" opacity="0.66"/>
<circle cx="85.0" cy="333.7" r="0.62" fill="#222" opacity="0.83"/>
<circle cx="81.6" cy="347.1" r="0.37" fill="#555" opacity="0.92"/>
<circle cx="85.6" cy="332.9" r="0.64" fill="#333" opacity="0.99"/>
<circle cx="82.4" cy="343.0" r="0.64" fill="#333" opacity="0.63"/>
<circle cx="82.5" cy="344.0" r="0.51" fill="#333" opacity="0.92"/>
<circle cx="83.3" cy="341.4" r="0.50" fill="#333" opacity="0.96"/>
<circle cx="96.0" cy="349.0" r="0.52" fill="#222" opacity="0.94"/>
<circle cx="95.5" cy="348.3" r="0.55" fill="#111" opacity="0.88"/>
<circle cx="90.2" cy="329.7" r="0.59" fill="#111" opacity="0.78"/>
<circle cx="84.8" cy="333.5" r="0.49" fill="#333" opacity="0.91"/>
<circle cx="86.2" cy="333.2" r="0.51" fill="#555" opacity="0.98"/>
<circle cx="95.7" cy="348.1" r="0.46" fill="#555" opacity="0.91"/>
<circle cx="91.1" cy="331.3" r="0.38" fill="#222" opacity="0.95"/>
<circle cx="94.0" cy="340.1" r="0.63" fill="#333" opacity="0.74"/>
<circle cx="83.0" cy="344.7" r="0.55" fill="#222" opacity="0.76"/>
<circle cx="86.7" cy="330.5" r="0.54" fill="#222" opacity="0.75"/>
<circle cx="82.4" cy="345.8" r="0.53" fill="#111" opacity="0.68"/>
<circle cx="89.4" cy="329.3" r="0.36" fill="#111" opacity="0.93"/>
<circle cx="87.0" cy="330.7" r="0.43" fill="#222" opacity="0.61"/>
<circle cx="86.2" cy="330.2" r="0.49" fill="#111" opacity="0.81"/>
<circle cx="92.3" cy="334.6" r="0.45" fill="#111" opacity="0.71"/>
<circle cx="92.3" cy="333.4" r="0.39" fill="#333" opacity="0.74"/>
<circle cx="83.6" cy="338.9" r="0.58" fill="#555" opacity="0.75"/>
<circle cx="94.9" cy="343.7" r="0.38" fill="#222" opacity="0.68"/>
<circle cx="82.5" cy="341.8" r="0.54" fill="#555" opacity="0.83"/>
<circle cx="86.3" cy="331.7" r="0.60" fill="#555" opacity="0.70"/>
<circle cx="85.7" cy="333.4" r="0.36" fill="#111" opacity="0.69"/>
<circle cx="85.5" cy="333.2" r="0.62" fill="#222" opacity="0.99"/>
<circle cx="81.3" cy="349.5" r="0.42" fill="#333" opacity="0.93"/>
<circle cx="95.7" cy="342.6" r="0.47" fill="#333" opacity="0.62"/>
<circle cx="83.2" cy="340.5" r="0.40" fill="#222" opacity="0.78"/>
<circle cx="91.9" cy="332.5" r="0.56" fill="#555" opacity="0.81"/>
<circle cx="95.2" cy="344.4" r="0.48" fill="#111" opacity="0.70"/>
<circle cx="94.7" cy="342.2" r="0.63" fill="#555" opacity="0.91"/>
<circle cx="92.2" cy="335.7" r="0.54" fill="#111" opacity="0.91"/>
<circle cx="86.9" cy="330.3" r="0.37" fill="#111" opacity="0.72"/>
<circle cx="90.4" cy="329.3" r="0.51" fill="#222" opacity="0.76"/>
<circle cx="90.8" cy="330.4" r="0.62" fill="#222" opacity="0.81"/>
<circle cx="94.4" cy="343.3" r="0.40" fill="#222" opacity="0.75"/>
<circle cx="82.5" cy="344.5" r="0.49" fill="#111" opacity="0.64"/>
<circle cx="96.7" cy="348.1" r="0.49" fill="#222" opacity="0.84"/>
<circle cx="85.7" cy="333.9" r="0.57" fill="#555" opacity="0.64"/>
<circle cx="95.0" cy="345.5" r="0.50" fill="#222" opacity="0.99"/>
<circle cx="94.0" cy="341.3" r="0.55" fill="#555" opacity="0.62"/>
<circle cx="88.8" cy="329.9" r="0.53" fill="#111" opacity="0.98"/>
<circle cx="93.0" cy="333.7" r="0.63" fill="#333" opacity="0.75"/>
<circle cx="84.9" cy="335.1" r="0.35" fill="#555" opacity="0.90"/>
<circle cx="83.6" cy="343.7" r="0.65" fill="#222" opacity="0.90"/>
<circle cx="95.2" cy="345.9" r="0.48" fill="#333" opacity="0.65"/>
<circle cx="93.5" cy="339.6" r="0.62" fill="#222" opacity="0.94"/>
<circle cx="81.2" cy="347.7" r="0.59" fill="#555" opacity="0.98"/>
<circle cx="84.7" cy="337.5" r="0.57" fill="#333" opacity="0.70"/>
<circle cx="86.8" cy="330.7" r="0.42" fill="#111" opacity="0.85"/>
<circle cx="94.5" cy="338.3" r="0.44" fill="#555" opacity="0.98"/>
<circle cx="92.1" cy="333.3" r="0.45" fill="#333" opacity="0.89"/>
<circle cx="84.7" cy="333.7" r="0.53" fill="#111" opacity="0.79"/>
<circle cx="84.0" cy="335.7" r="0.41" fill="#333" opacity="0.97"/>
<circle cx="82.6" cy="341.0" r="0.49" fill="#555" opacity="0.61"/>
<circle cx="91.2" cy="331.0" r="0.60" fill="#333" opacity="0.64"/>
<circle cx="95.0" cy="344.6" r="0.61" fill="#555" opacity="0.66"/>
<circle cx="94.9" cy="341.2" r="0.44" fill="#333" opacity="0.81"/>
<circle cx="82.7" cy="349.1" r="0.55" fill="#222" opacity="0.84"/>
<circle cx="84.2" cy="334.5" r="0.41" fill="#111" opacity="0.95"/>
<circle cx="84.5" cy="335.0" r="0.62" fill="#222" opacity="0.80"/>
<circle cx="95.5" cy="348.0" r="0.59" fill="#555" opacity="0.65"/>
<circle cx="83.2" cy="342.0" r="0.50" fill="#555" opacity="0.62"/>
<circle cx="82.2" cy="343.2" r="0.57" fill="#222" opacity="0.82"/>
<circle cx="85.5" cy="332.4" r="0.62" fill="#222" opacity="0.99"/>
<circle cx="82.3" cy="343.3" r="0.43" fill="#555" opacity="0.97"/>
<circle cx="87.3" cy="329.7" r="0.61" fill="#555" opacity="0.66"/>
<circle cx="92.6" cy="335.8" r="0.47" fill="#222" opacity="1.00"/>
<circle cx="92.1" cy="332.3" r="0.44" fill="#222" opacity="0.85"/>
<circle cx="83.9" cy="337.3" r="0.50" fill="#222" opacity="0.77"/>
<circle cx="95.5" cy="345.1" r="0.63" fill="#555" opacity="0.81"/>
<circle cx="84.5" cy="337.3" r="0.37" fill="#555" opacity="0.99"/>
<circle cx="92.9" cy="336.4" r="0.56" fill="#555" opacity="0.86"/>
<circle cx="83.8" cy="336.7" r="0.60" fill="#555" opacity="0.74"/>
<circle cx="94.8" cy="340.6" r="0.54" fill="#222" opacity="0.82"/>
<circle cx="83.2" cy="340.4" r="0.54" fill="#555" opacity="0.92"/>
<circle cx="83.6" cy="339.5" r="0.51" fill="#555" opacity="0.86"/>
<circle cx="84.8" cy="334.5" r="0.53" fill="#555" opacity="0.78"/>
<circle cx="92.2" cy="333.4" r="0.54" fill="#555" opacity="0.65"/>
<circle cx="91.9" cy="332.7" r="0.36" fill="#555" opacity="0.63"/>
<circle cx="95.2" cy="345.0" r="0.44" fill="#555" opacity="0.66"/>
<circle cx="82.6" cy="342.3" r="0.57" fill="#222" opacity="0.66"/>
<circle cx="85.4" cy="332.8" r="0.63" fill="#111" opacity="0.91"/>
<circle cx="91.3" cy="331.2" r="0.61" fill="#555" opacity="0.77"/>
<circle cx="83.3" cy="340.5" r="0.64" fill="#111" opacity="0.63"/>
<circle cx="86.0" cy="331.6" r="0.38" fill="#222" opacity="0.64"/>
<circle cx="86.3" cy="333.0" r="0.46" fill="#555" opacity="0.73"/>
<circle cx="84.8" cy="336.3" r="0.65" fill="#222" opacity="0.67"/>
<circle cx="81.8" cy="346.4" r="0.48" fill="#111" opacity="0.91"/>
<circle cx="94.0" cy="338.9" r="0.61" fill="#333" opacity="0.86"/>
<circle cx="83.8" cy="338.3" r="0.50" fill="#555" opacity="0.66"/>
<circle cx="84.2" cy="341.2" r="0.60" fill="#333" opacity="0.77"/>
<circle cx="93.9" cy="341.4" r="0.45" fill="#555" opacity="0.98"/>
<circle cx="95.4" cy="347.7" r="0.41" fill="#222" opacity="0.92"/>
<circle cx="95.9" cy="343.2" r="0.45" fill="#333" opacity="0.92"/>
<circle cx="92.3" cy="334.4" r="0.61" fill="#111" opacity="0.80"/>
<circle cx="81.7" cy="345.7" r="0.52" fill="#333" opacity="0.83"/>
<circle cx="84.2" cy="336.4" r="0.38" fill="#333" opacity="0.95"/>
<circle cx="93.4" cy="340.7" r="0.37" fill="#555" opacity="0.86"/>
<circle cx="87.1" cy="330.5" r="0.37" fill="#333" opacity="0.71"/>
<circle cx="93.7" cy="334.7" r="0.58" fill="#333" opacity="0.78"/>
<circle cx="94.3" cy="347.1" r="0.64" fill="#111" opacity="0.90"/>
<circle cx="86.4" cy="331.1" r="0.46" fill="#555" opacity="0.94"/>
<circle cx="85.7" cy="333.2" r="0.38" fill="#111" opacity="0.69"/>
<circle cx="94.4" cy="340.0" r="0.45" fill="#222" opacity="0.98"/>
<circle cx="94.5" cy="340.5" r="0.45" fill="#222" opacity="0.96"/>
<circle cx="92.0" cy="332.3" r="0.62" fill="#222" opacity="0.66"/>
<circle cx="82.2" cy="351.2" r="0.54" fill="#555" opacity="0.68"/>
<circle cx="84.7" cy="336.3" r="0.57" fill="#222" opacity="0.86"/>
<circle cx="93.3" cy="337.5" r="0.40" fill="#111" opacity="0.82"/>
<circle cx="93.3" cy="336.2" r="0.49" fill="#333" opacity="0.83"/>
<circle cx="90.3" cy="330.6" r="0.40" fill="#111" opacity="0.75"/>
<circle cx="96.2" cy="348.7" r="0.64" fill="#555" opacity="0.83"/>
<circle cx="91.6" cy="331.3" r="0.39" fill="#333" opacity="0.78"/>
<circle cx="93.1" cy="334.1" r="0.49" fill="#222" opacity="0.82"/>
<circle cx="82.4" cy="345.9" r="0.44" fill="#222" opacity="0.88"/>
<circle cx="83.7" cy="340.0" r="0.41" fill="#111" opacity="0.90"/>
<circle cx="85.4" cy="333.0" r="0.65" fill="#111" opacity="0.71"/>
<circle cx="81.2" cy="349.4" r="0.50" fill="#333" opacity="0.96"/>
<circle cx="83.4" cy="339.9" r="0.65" fill="#222" opacity="0.64"/>
<circle cx="95.6" cy="349.1" r="0.55" fill="#555" opacity="0.76"/>
<circle cx="95.6" cy="342.8" r="0.38" fill="#333" opacity="0.81"/>
<circle cx="84.3" cy="336.4" r="0.65" fill="#555" opacity="0.85"/>
<circle cx="82.7" cy="342.1" r="0.46" fill="#333" opacity="0.70"/>
<circle cx="86.3" cy="331.4" r="0.40" fill="#111" opacity="0.82"/>
<circle cx="84.5" cy="336.1" r="0.42" fill="#222" opacity="0.69"/>
<circle cx="82.6" cy="344.7" r="0.58" fill="#555" opacity="0.84"/>
<circle cx="84.4" cy="336.5" r="0.49" fill="#222" opacity="0.97"/>
<circle cx="83.3" cy="340.4" r="0.58" fill="#111" opacity="0.74"/>
<circle cx="90.5" cy="330.1" r="0.42" fill="#222" opacity="0.67"/>
<circle cx="93.5" cy="336.4" r="0.63" fill="#111" opacity="0.80"/>
<circle cx="81.7" cy="348.7" r="0.44" fill="#111" opacity="0.73"/>
<circle cx="90.8" cy="329.8" r="0.40" fill="#222" opacity="0.77"/>
<circle cx="82.2" cy="342.2" r="0.56" fill="#555" opacity="0.64"/>
<circle cx="92.9" cy="336.0" r="0.45" fill="#333" opacity="0.86"/>
<circle cx="93.0" cy="334.6" r="0.37" fill="#111" opacity="0.63"/>
<circle cx="82.7" cy="338.8" r="0.46" fill="#555" opacity="0.70"/>
<circle cx="91.0" cy="330.2" r="0.44" fill="#555" opacity="0.65"/>
<circle cx="87.4" cy="330.4" r="0.56" fill="#111" opacity="0.92"/>
<circle cx="81.6" cy="345.0" r="0.37" fill="#333" opacity="0.74"/>
<circle cx="94.2" cy="342.9" r="0.40" fill="#555" opacity="0.78"/>
<circle cx="88.5" cy="329.9" r="0.54" fill="#222" opacity="0.86"/>
<circle cx="85.0" cy="333.8" r="0.55" fill="#111" opacity="0.66"/>
<circle cx="95.9" cy="346.9" r="0.60" fill="#555" opacity="0.99"/>
<circle cx="82.6" cy="341.0" r="0.44" fill="#222" opacity="0.79"/>
<circle cx="85.2" cy="335.1" r="0.54" fill="#222" opacity="0.80"/>
<circle cx="93.1" cy="336.0" r="0.43" fill="#555" opacity="0.91"/>
<circle cx="93.8" cy="339.5" r="0.51" fill="#333" opacity="0.76"/>
<circle cx="82.6" cy="342.1" r="0.57" fill="#333" opacity="0.88"/>
<circle cx="83.8" cy="337.3" r="0.60" fill="#555" opacity="0.86"/>
<circle cx="94.1" cy="341.3" r="0.51" fill="#333" opacity="0.74"/>
<circle cx="90.0" cy="329.5" r="0.59" fill="#222" opacity="0.74"/>
<circle cx="84.2" cy="336.6" r="0.50" fill="#333" opacity="0.68"/>
<circle cx="95.9" cy="347.3" r="0.60" fill="#555" opacity="0.72"/>
<circle cx="86.1" cy="332.0" r="0.46" fill="#111" opacity="0.97"/>
<circle cx="82.7" cy="347.0" r="0.48" fill="#222" opacity="0.66"/>
<circle cx="94.9" cy="344.4" r="0.48" fill="#555" opacity="1.00"/>
<circle cx="81.0" cy="349.5" r="0.46" fill="#111" opacity="0.89"/>
<circle cx="86.7" cy="331.0" r="0.54" fill="#222" opacity="0.68"/>
<circle cx="83.8" cy="339.6" r="0.41" fill="#222" opacity="0.69"/>
<circle cx="83.8" cy="339.7" r="0.52" fill="#111" opacity="0.80"/>
<circle cx="85.3" cy="332.7" r="0.31" fill="#444" opacity="0.57"/>
<circle cx="86.3" cy="330.0" r="0.27" fill="#444" opacity="0.79"/>
<circle cx="84.4" cy="330.7" r="0.30" fill="#444" opacity="0.63"/>
<circle cx="87.7" cy="332.3" r="0.41" fill="#444" opacity="0.72"/>
<circle cx="85.0" cy="330.7" r="0.35" fill="#444" opacity="0.79"/>
<circle cx="84.2" cy="332.9" r="0.30" fill="#444" opacity="0.65"/>
<circle cx="93.5" cy="330.9" r="0.36" fill="#444" opacity="0.55"/>
<circle cx="91.4" cy="332.6" r="0.30" fill="#444" opacity="0.70"/>
<circle cx="87.6" cy="329.5" r="0.27" fill="#444" opacity="0.58"/>
<circle cx="86.6" cy="332.8" r="0.27" fill="#444" opacity="0.44"/>
<circle cx="87.1" cy="331.2" r="0.35" fill="#444" opacity="0.52"/>
<circle cx="91.6" cy="331.2" r="0.45" fill="#444" opacity="0.47"/>
<circle cx="88.9" cy="330.9" r="0.32" fill="#444" opacity="0.74"/>
<circle cx="83.9" cy="330.9" r="0.32" fill="#444" opacity="0.53"/>
<circle cx="90.5" cy="330.8" r="0.31" fill="#444" opacity="0.43"/>
<circle cx="93.4" cy="333.0" r="0.27" fill="#444" opacity="0.66"/>
<circle cx="89.2" cy="331.4" r="0.32" fill="#444" opacity="0.74"/>
<circle cx="86.7" cy="331.4" r="0.44" fill="#444" opacity="0.54"/>
<circle cx="87.8" cy="331.9" r="0.38" fill="#444" opacity="0.67"/>
<circle cx="88.1" cy="331.2" r="0.30" fill="#444" opacity="0.72"/>
<circle cx="88.0" cy="329.9" r="0.32" fill="#444" opacity="0.69"/>
<circle cx="84.7" cy="333.2" r="0.44" fill="#444" opacity="0.67"/>
<circle cx="91.2" cy="331.2" r="0.34" fill="#444" opacity="0.48"/>
<circle cx="84.2" cy="331.6" r="0.39" fill="#444" opacity="0.50"/>
<circle cx="90.2" cy="332.1" r="0.37" fill="#444" opacity="0.47"/>
<circle cx="88.9" cy="331.4" r="0.36" fill="#444" opacity="0.45"/>
<circle cx="88.5" cy="330.5" r="0.28" fill="#444" opacity="0.52"/>
<circle cx="91.3" cy="331.1" r="0.37" fill="#444" opacity="0.71"/>
<circle cx="89.6" cy="331.7" r="0.34" fill="#444" opacity="0.73"/>
<circle cx="89.9" cy="330.2" r="0.32" fill="#444" opacity="0.58"/>
<circle cx="95.5" cy="332.5" r="0.38" fill="#444" opacity="0.44"/>
<circle cx="89.8" cy="332.3" r="0.44" fill="#444" opacity="0.79"/>
<circle cx="91.3" cy="332.0" r="0.42" fill="#444" opacity="0.47"/>
<circle cx="93.0" cy="331.9" r="0.25" fill="#444" opacity="0.76"/>
<circle cx="87.7" cy="330.0" r="0.39" fill="#444" opacity="0.61"/>
<circle cx="92.2" cy="332.7" r="0.43" fill="#444" opacity="0.54"/>
<circle cx="84.2" cy="333.1" r="0.26" fill="#444" opacity="0.43"/>
<circle cx="90.0" cy="332.1" r="0.28" fill="#444" opacity="0.52"/>
<circle cx="84.8" cy="330.3" r="0.43" fill="#444" opacity="0.75"/>
<circle cx="93.9" cy="333.1" r="0.41" fill="#444" opacity="0.51"/>
<circle cx="95.1" cy="332.1" r="0.40" fill="#444" opacity="0.49"/>
<circle cx="82.2" cy="331.8" r="0.36" fill="#444" opacity="0.64"/>
<circle cx="92.0" cy="332.8" r="0.39" fill="#444" opacity="0.59"/>
<circle cx="92.4" cy="331.8" r="0.29" fill="#444" opacity="0.78"/>
<circle cx="85.3" cy="330.7" r="0.42" fill="#444" opacity="0.50"/>
<circle cx="91.2" cy="331.5" r="0.29" fill="#444" opacity="0.49"/>
<circle cx="93.4" cy="332.9" r="0.35" fill="#444" opacity="0.60"/>
<circle cx="82.4" cy="332.6" r="0.40" fill="#444" opacity="0.75"/>
<circle cx="87.3" cy="331.9" r="0.32" fill="#444" opacity="0.69"/>
<circle cx="90.8" cy="331.4" r="0.35" fill="#444" opacity="0.46"/>
<circle cx="93.6" cy="332.6" r="0.35" fill="#444" opacity="0.71"/>
<circle cx="84.2" cy="331.3" r="0.32" fill="#444" opacity="0.72"/>
<circle cx="84.8" cy="332.8" r="0.38" fill="#444" opacity="0.59"/>
<circle cx="87.0" cy="330.8" r="0.29" fill="#444" opacity="0.57"/>
<circle cx="82.0" cy="332.8" r="0.30" fill="#444" opacity="0.73"/>
<circle cx="89.6" cy="330.6" r="0.38" fill="#444" opacity="0.45"/>
<circle cx="91.8" cy="332.1" r="0.42" fill="#444" opacity="0.71"/>
<circle cx="91.9" cy="330.4" r="0.34" fill="#444" opacity="0.67"/>
<circle cx="92.7" cy="333.2" r="0.27" fill="#444" opacity="0.56"/>
<circle cx="88.9" cy="331.9" r="0.29" fill="#444" opacity="0.75"/>
<circle cx="87.7" cy="332.0" r="0.29" fill="#444" opacity="0.63"/>
<circle cx="84.9" cy="331.9" r="0.36" fill="#444" opacity="0.58"/>
<circle cx="95.5" cy="346.1" r="0.30" fill="#444" opacity="0.77"/>
<circle cx="94.0" cy="331.7" r="0.45" fill="#444" opacity="0.63"/>
<circle cx="95.7" cy="334.9" r="0.46" fill="#444" opacity="0.52"/>
<circle cx="96.6" cy="335.1" r="0.41" fill="#444" opacity="0.66"/>
<circle cx="94.9" cy="339.6" r="0.31" fill="#444" opacity="0.66"/>
<circle cx="96.5" cy="333.8" r="0.41" fill="#444" opacity="0.69"/>
<circle cx="93.5" cy="346.1" r="0.47" fill="#444" opacity="0.42"/>
<circle cx="94.2" cy="332.5" r="0.35" fill="#444" opacity="0.43"/>
<circle cx="95.4" cy="335.5" r="0.36" fill="#444" opacity="0.58"/>
<circle cx="94.9" cy="345.2" r="0.44" fill="#444" opacity="0.45"/>
<circle cx="94.1" cy="331.1" r="0.37" fill="#444" opacity="0.44"/>
<circle cx="96.5" cy="345.0" r="0.50" fill="#444" opacity="0.48"/>
<circle cx="93.2" cy="344.6" r="0.38" fill="#444" opacity="0.77"/>
<circle cx="95.0" cy="336.6" r="0.31" fill="#444" opacity="0.78"/>
<circle cx="95.6" cy="338.9" r="0.39" fill="#444" opacity="0.71"/>
<circle cx="97.2" cy="339.6" r="0.34" fill="#444" opacity="0.56"/>
<circle cx="97.5" cy="338.3" r="0.43" fill="#444" opacity="0.62"/>
<circle cx="95.3" cy="341.3" r="0.35" fill="#444" opacity="0.62"/>
<circle cx="97.3" cy="332.4" r="0.37" fill="#444" opacity="0.75"/>
<circle cx="97.9" cy="331.2" r="0.43" fill="#444" opacity="0.65"/>
<circle cx="97.2" cy="339.5" r="0.33" fill="#444" opacity="0.52"/>
<circle cx="96.6" cy="344.1" r="0.34" fill="#444" opacity="0.66"/>
<circle cx="96.3" cy="342.8" r="0.30" fill="#444" opacity="0.58"/>
<circle cx="94.6" cy="341.7" r="0.37" fill="#444" opacity="0.45"/>
<circle cx="96.4" cy="336.2" r="0.46" fill="#444" opacity="0.52"/>
<circle cx="95.7" cy="345.5" r="0.32" fill="#444" opacity="0.69"/>
<circle cx="93.3" cy="347.9" r="0.31" fill="#444" opacity="0.69"/>
<circle cx="94.8" cy="334.2" r="0.38" fill="#444" opacity="0.60"/>
<circle cx="95.1" cy="333.2" r="0.40" fill="#444" opacity="0.52"/>
<circle cx="97.8" cy="337.9" r="0.39" fill="#444" opacity="0.49"/>
<circle cx="97.8" cy="336.8" r="0.43" fill="#444" opacity="0.73"/>
<circle cx="95.0" cy="344.6" r="0.36" fill="#444" opacity="0.44"/>
<circle cx="93.2" cy="339.1" r="0.47" fill="#444" opacity="0.48"/>
<circle cx="95.2" cy="344.7" r="0.36" fill="#444" opacity="0.46"/>
<circle cx="95.6" cy="338.7" r="0.49" fill="#444" opacity="0.76"/>
<circle cx="94.2" cy="341.1" r="0.38" fill="#444" opacity="0.41"/>
<circle cx="95.2" cy="347.5" r="0.36" fill="#444" opacity="0.63"/>
<circle cx="96.6" cy="332.1" r="0.48" fill="#444" opacity="0.44"/>
<circle cx="94.5" cy="343.9" r="0.30" fill="#444" opacity="0.55"/>
<circle cx="93.6" cy="339.5" r="0.30" fill="#444" opacity="0.46"/>
<rect x="60.5" y="352" width="18.200000000000003" height="12.5" fill="#9a9a9a"/>
<circle cx="64.5" cy="353.0" r="0.55" fill="#666" opacity="0.74"/>
<circle cx="61.8" cy="355.6" r="1.08" fill="#ddd" opacity="0.60"/>
<circle cx="64.9" cy="362.5" r="0.53" fill="#555" opacity="0.72"/>
<circle cx="72.4" cy="355.8" r="0.54" fill="#555" opacity="0.54"/>
<circle cx="61.7" cy="360.7" r="0.85" fill="#c8c8c8" opacity="0.77"/>
<circle cx="65.8" cy="359.2" r="0.51" fill="#ddd" opacity="0.73"/>
<circle cx="65.9" cy="355.4" r="0.89" fill="#555" opacity="0.54"/>
<circle cx="69.9" cy="356.3" r="0.72" fill="#c8c8c8" opacity="0.70"/>
<circle cx="69.7" cy="361.0" r="0.72" fill="#ddd" opacity="0.87"/>
<circle cx="69.8" cy="359.4" r="0.86" fill="#666" opacity="0.90"/>
<circle cx="77.7" cy="355.2" r="0.99" fill="#444" opacity="0.82"/>
<circle cx="63.0" cy="358.8" r="0.58" fill="#444" opacity="0.51"/>
<circle cx="65.2" cy="360.8" r="0.72" fill="#444" opacity="0.87"/>
<circle cx="67.8" cy="354.2" r="0.89" fill="#c8c8c8" opacity="0.76"/>
<circle cx="62.4" cy="357.9" r="0.89" fill="#ddd" opacity="0.52"/>
<circle cx="64.0" cy="364.0" r="0.73" fill="#ddd" opacity="0.58"/>
<circle cx="72.6" cy="359.0" r="1.09" fill="#c8c8c8" opacity="0.66"/>
<circle cx="70.9" cy="358.4" r="0.61" fill="#666" opacity="0.89"/>
<circle cx="74.6" cy="364.4" r="0.78" fill="#555" opacity="0.60"/>
<circle cx="74.0" cy="360.9" r="1.06" fill="#c8c8c8" opacity="0.85"/>
<circle cx="65.4" cy="361.8" r="0.79" fill="#c8c8c8" opacity="0.74"/>
<circle cx="78.4" cy="363.1" r="0.61" fill="#444" opacity="0.77"/>
<circle cx="63.6" cy="353.9" r="0.84" fill="#666" opacity="0.69"/>
<circle cx="76.2" cy="358.6" r="0.59" fill="#444" opacity="0.59"/>
<circle cx="75.9" cy="356.1" r="1.01" fill="#c8c8c8" opacity="0.53"/>
<circle cx="64.2" cy="363.5" r="1.07" fill="#666" opacity="0.65"/>
<circle cx="60.7" cy="362.8" r="0.73" fill="#555" opacity="0.54"/>
<circle cx="77.7" cy="357.0" r="0.64" fill="#444" opacity="0.54"/>
<circle cx="73.4" cy="359.3" r="0.80" fill="#666" opacity="0.68"/>
<circle cx="64.4" cy="352.7" r="0.84" fill="#555" opacity="0.85"/>
<circle cx="62.8" cy="362.6" r="0.51" fill="#444" opacity="0.82"/>
<circle cx="73.2" cy="358.9" r="0.99" fill="#666" opacity="0.86"/>
<circle cx="68.9" cy="356.3" r="0.60" fill="#555" opacity="0.78"/>
<circle cx="70.9" cy="361.7" r="0.88" fill="#444" opacity="0.67"/>
<circle cx="64.0" cy="355.6" r="0.91" fill="#555" opacity="0.87"/>
<circle cx="67.3" cy="353.3" r="0.70" fill="#c8c8c8" opacity="0.77"/>
<circle cx="77.6" cy="361.7" r="0.77" fill="#ddd" opacity="0.69"/>
<circle cx="70.8" cy="363.5" r="0.91" fill="#666" opacity="0.82"/>
<circle cx="65.0" cy="360.5" r="1.04" fill="#666" opacity="0.58"/>
<circle cx="64.3" cy="360.3" r="0.61" fill="#c8c8c8" opacity="0.90"/>
<circle cx="68.6" cy="361.9" r="0.88" fill="#666" opacity="0.83"/>
<circle cx="61.6" cy="357.6" r="0.54" fill="#555" opacity="0.51"/>
<circle cx="69.2" cy="357.2" r="1.07" fill="#ddd" opacity="0.59"/>
<circle cx="63.0" cy="352.6" r="0.75" fill="#c8c8c8" opacity="0.62"/>
<circle cx="69.4" cy="356.9" r="0.89" fill="#444" opacity="0.50"/>
<circle cx="61.2" cy="361.8" r="0.76" fill="#666" opacity="0.63"/>
<circle cx="60.7" cy="353.2" r="0.53" fill="#ddd" opacity="0.84"/>
<circle cx="69.4" cy="358.2" r="0.72" fill="#555" opacity="0.73"/>
<circle cx="71.1" cy="352.2" r="0.73" fill="#c8c8c8" opacity="0.66"/>
<circle cx="77.9" cy="358.2" r="0.82" fill="#555" opacity="0.70"/>
<circle cx="67.9" cy="353.3" r="0.94" fill="#444" opacity="0.74"/>
<circle cx="62.6" cy="359.5" r="1.02" fill="#c8c8c8" opacity="0.52"/>
<circle cx="76.5" cy="360.3" r="0.67" fill="#555" opacity="0.83"/>
<circle cx="76.8" cy="355.1" r="0.85" fill="#ddd" opacity="0.54"/>
<circle cx="71.9" cy="359.5" r="0.53" fill="#c8c8c8" opacity="0.72"/>
<circle cx="77.4" cy="359.1" r="1.05" fill="#444" opacity="0.82"/>
<circle cx="72.5" cy="357.4" r="1.03" fill="#444" opacity="0.89"/>
<circle cx="71.8" cy="358.0" r="0.88" fill="#444" opacity="0.52"/>
<circle cx="65.8" cy="360.3" r="0.59" fill="#555" opacity="0.81"/>
<circle cx="64.9" cy="363.4" r="0.60" fill="#c8c8c8" opacity="0.60"/>
<circle cx="67.4" cy="354.8" r="0.92" fill="#444" opacity="0.89"/>
<circle cx="74.5" cy="359.7" r="0.59" fill="#555" opacity="0.60"/>
<circle cx="69.9" cy="356.8" r="0.71" fill="#ddd" opacity="0.57"/>
<circle cx="70.7" cy="361.7" r="1.06" fill="#555" opacity="0.71"/>
<circle cx="75.0" cy="352.7" r="0.57" fill="#555" opacity="0.66"/>
<circle cx="70.5" cy="363.6" r="0.54" fill="#c8c8c8" opacity="0.53"/>
<circle cx="67.4" cy="363.6" r="0.83" fill="#555" opacity="0.73"/>
<circle cx="62.7" cy="362.0" r="0.80" fill="#666" opacity="0.69"/>
<circle cx="75.7" cy="353.5" r="1.03" fill="#666" opacity="0.82"/>
<circle cx="64.7" cy="352.0" r="1.02" fill="#c8c8c8" opacity="0.54"/>
<circle cx="74.4" cy="361.7" r="0.88" fill="#c8c8c8" opacity="0.89"/>
<circle cx="62.9" cy="354.3" r="0.92" fill="#ddd" opacity="0.77"/>
<circle cx="75.9" cy="359.1" r="0.67" fill="#c8c8c8" opacity="0.74"/>
<circle cx="63.8" cy="359.7" r="0.72" fill="#666" opacity="0.60"/>
<circle cx="73.2" cy="360.4" r="0.57" fill="#c8c8c8" opacity="0.81"/>
<circle cx="66.1" cy="353.2" r="0.67" fill="#ddd" opacity="0.82"/>
<circle cx="70.3" cy="357.5" r="0.56" fill="#ddd" opacity="0.85"/>
<circle cx="63.4" cy="352.9" r="0.95" fill="#555" opacity="0.86"/>
<circle cx="67.8" cy="353.6" r="0.77" fill="#555" opacity="0.85"/>
<circle cx="67.9" cy="357.6" r="0.52" fill="#c8c8c8" opacity="0.58"/>
<circle cx="71.2" cy="357.4" r="0.71" fill="#ddd" opacity="0.71"/>
<circle cx="73.2" cy="353.6" r="0.73" fill="#c8c8c8" opacity="0.67"/>
<circle cx="65.8" cy="353.5" r="0.76" fill="#ddd" opacity="0.61"/>
<circle cx="76.2" cy="360.0" r="0.79" fill="#ddd" opacity="0.75"/>
<circle cx="62.1" cy="353.5" r="0.54" fill="#ddd" opacity="0.85"/>
<circle cx="65.2" cy="355.2" r="0.56" fill="#444" opacity="0.78"/>
<circle cx="72.2" cy="358.4" r="0.61" fill="#555" opacity="0.69"/>
<circle cx="67.5" cy="362.5" r="1.04" fill="#ddd" opacity="0.76"/>
<circle cx="70.6" cy="361.0" r="0.55" fill="#ddd" opacity="0.76"/>
<circle cx="66.1" cy="358.4" r="0.67" fill="#ddd" opacity="0.83"/>
</g>
<rect x="59.8" y="325" width="19.60000000000001" height="26.30000000000001" fill="none" stroke="#000" stroke-width="2.3"/>
<rect x="79.4" y="325" width="20.299999999999997" height="26.30000000000001" fill="none" stroke="#000" stroke-width="2.3"/>
<rect x="59.8" y="351.3" width="19.60000000000001" height="12.899999999999977" fill="none" stroke="#000" stroke-width="2.3"/>
<text x="62.5" y="324.4" font-size="9.7" text-anchor="start" fill="#000" font-weight='bold'  textLength="15.6" lengthAdjust="spacingAndGlyphs" stroke="#000" stroke-width="0.22">19.5</text>
<text x="81.9" y="324.4" font-size="9.7" text-anchor="start" fill="#000" font-weight='bold'  textLength="16.2" lengthAdjust="spacingAndGlyphs" stroke="#000" stroke-width="0.22">17.2</text>
<text x="81.9" y="361.4" font-size="9.7" text-anchor="start" fill="#000" font-weight='bold'  textLength="16.2" lengthAdjust="spacingAndGlyphs" stroke="#000" stroke-width="0.22">59.3</text>
<path d="M45.2,453.4 L45.2,378.9 L119.4,378.9 L119.4,453.4" fill="none" stroke="#333" stroke-width="1.1"/>
<line x1="45.2" y1="453.4" x2="119.4" y2="453.4" stroke="#999" stroke-width="0.8" />
<line x1="43.0" y1="385.4" x2="45.2" y2="385.4" stroke="#333" stroke-width="0.8" />
<text x="42.400000000000006" y="386.29999999999995" font-size="2.9" text-anchor="end" fill="#444">10<tspan font-size="2" dy="-1.2">5</tspan></text>
<line x1="43.0" y1="401.75" x2="45.2" y2="401.75" stroke="#333" stroke-width="0.8" />
<text x="42.400000000000006" y="402.65" font-size="2.9" text-anchor="end" fill="#444">10<tspan font-size="2" dy="-1.2">4</tspan></text>
<line x1="43.0" y1="418.09999999999997" x2="45.2" y2="418.09999999999997" stroke="#333" stroke-width="0.8" />
<text x="42.400000000000006" y="418.99999999999994" font-size="2.9" text-anchor="end" fill="#444">10<tspan font-size="2" dy="-1.2">3</tspan></text>
<line x1="43.0" y1="434.45" x2="45.2" y2="434.45" stroke="#333" stroke-width="0.8" />
<text x="42.400000000000006" y="435.34999999999997" font-size="2.9" text-anchor="end" fill="#444">10<tspan font-size="2" dy="-1.2">2</tspan></text>
<line x1="43.0" y1="450.09999999999997" x2="45.2" y2="450.09999999999997" stroke="#333" stroke-width="0.8" />
<text x="42.400000000000006" y="450.99999999999994" font-size="2.9" text-anchor="end" fill="#444">10<tspan font-size="2" dy="-1.2"></tspan></text>
<line x1="49.1" y1="453.4" x2="49.1" y2="455.0" stroke="#333" stroke-width="0.8" />
<text x="49.1" y="460.29999999999995" font-size="2.9" text-anchor="middle" fill="#444">0</text>
<line x1="61.6" y1="453.4" x2="61.6" y2="455.0" stroke="#333" stroke-width="0.8" />
<text x="61.6" y="460.29999999999995" font-size="2.9" text-anchor="middle" fill="#444">10<tspan font-size="2" dy="-1.2">2</tspan></text>
<line x1="79.5" y1="453.4" x2="79.5" y2="455.0" stroke="#333" stroke-width="0.8" />
<text x="79.5" y="460.29999999999995" font-size="2.9" text-anchor="middle" fill="#444">10<tspan font-size="2" dy="-1.2">3</tspan></text>
<line x1="96.3" y1="453.4" x2="96.3" y2="455.0" stroke="#333" stroke-width="0.8" />
<text x="96.3" y="460.29999999999995" font-size="2.9" text-anchor="middle" fill="#444">10<tspan font-size="2" dy="-1.2">4</tspan></text>
<line x1="112.7" y1="453.4" x2="112.7" y2="455.0" stroke="#333" stroke-width="0.8" />
<text x="112.7" y="460.29999999999995" font-size="2.9" text-anchor="middle" fill="#444">10<tspan font-size="2" dy="-1.2">5</tspan></text>
<circle cx="56.7" cy="452.7" r="0.45" fill="#111" opacity="0.84"/>
<circle cx="89.5" cy="452.9" r="0.34" fill="#111" opacity="0.70"/>
<circle cx="50.1" cy="452.7" r="0.50" fill="#111" opacity="0.71"/>
<circle cx="46.2" cy="453.0" r="0.42" fill="#111" opacity="0.95"/>
<circle cx="62.5" cy="453.6" r="0.55" fill="#111" opacity="0.89"/>
<circle cx="62.7" cy="452.8" r="0.47" fill="#111" opacity="0.64"/>
<circle cx="91.0" cy="453.2" r="0.35" fill="#111" opacity="0.75"/>
<circle cx="98.2" cy="452.8" r="0.47" fill="#111" opacity="0.78"/>
<circle cx="66.2" cy="453.3" r="0.38" fill="#111" opacity="0.65"/>
<circle cx="55.1" cy="452.7" r="0.49" fill="#111" opacity="0.97"/>
<circle cx="61.3" cy="452.8" r="0.36" fill="#111" opacity="0.85"/>
<circle cx="70.5" cy="453.0" r="0.55" fill="#111" opacity="0.73"/>
<circle cx="110.4" cy="452.7" r="0.31" fill="#111" opacity="0.80"/>
<circle cx="102.5" cy="453.0" r="0.47" fill="#111" opacity="0.93"/>
<circle cx="63.6" cy="453.5" r="0.35" fill="#111" opacity="0.80"/>
<circle cx="52.6" cy="453.2" r="0.53" fill="#111" opacity="0.76"/>
<circle cx="77.8" cy="453.4" r="0.35" fill="#111" opacity="0.64"/>
<circle cx="62.8" cy="453.4" r="0.43" fill="#111" opacity="0.90"/>
<circle cx="54.0" cy="453.2" r="0.41" fill="#111" opacity="0.65"/>
<circle cx="55.5" cy="453.5" r="0.38" fill="#111" opacity="0.94"/>
<circle cx="75.3" cy="453.2" r="0.55" fill="#111" opacity="0.71"/>
<circle cx="66.5" cy="453.0" r="0.34" fill="#111" opacity="0.91"/>
<circle cx="90.8" cy="452.7" r="0.33" fill="#111" opacity="0.89"/>
<circle cx="62.0" cy="452.6" r="0.49" fill="#111" opacity="0.63"/>
<circle cx="53.1" cy="453.3" r="0.36" fill="#111" opacity="0.92"/>
<circle cx="65.9" cy="452.9" r="0.40" fill="#111" opacity="0.85"/>
<circle cx="47.5" cy="452.8" r="0.41" fill="#111" opacity="0.85"/>
<circle cx="49.0" cy="453.2" r="0.42" fill="#111" opacity="0.83"/>
<circle cx="49.0" cy="452.8" r="0.44" fill="#111" opacity="0.79"/>
<circle cx="61.0" cy="453.2" r="0.47" fill="#111" opacity="0.97"/>
<circle cx="84.4" cy="452.9" r="0.49" fill="#111" opacity="0.84"/>
<circle cx="68.1" cy="452.8" r="0.46" fill="#111" opacity="0.86"/>
<circle cx="69.7" cy="452.8" r="0.45" fill="#111" opacity="0.68"/>
<circle cx="46.5" cy="452.4" r="0.42" fill="#111" opacity="0.96"/>
<circle cx="63.8" cy="452.8" r="0.37" fill="#111" opacity="0.88"/>
<circle cx="80.1" cy="453.4" r="0.49" fill="#111" opacity="0.92"/>
<circle cx="76.5" cy="453.3" r="0.42" fill="#111" opacity="0.67"/>
<circle cx="76.1" cy="452.5" r="0.55" fill="#111" opacity="0.76"/>
<circle cx="64.5" cy="452.5" r="0.35" fill="#111" opacity="0.66"/>
<circle cx="48.8" cy="453.1" r="0.37" fill="#111" opacity="0.75"/>
<circle cx="94.2" cy="453.2" r="0.49" fill="#111" opacity="0.77"/>
<circle cx="76.2" cy="452.8" r="0.41" fill="#111" opacity="0.96"/>
<circle cx="49.3" cy="452.5" r="0.39" fill="#111" opacity="0.86"/>
<circle cx="79.2" cy="452.4" r="0.48" fill="#111" opacity="0.69"/>
<circle cx="51.1" cy="452.6" r="0.37" fill="#111" opacity="0.74"/>
<circle cx="84.1" cy="452.7" r="0.46" fill="#111" opacity="0.71"/>
<circle cx="100.6" cy="453.4" r="0.39" fill="#111" opacity="0.86"/>
<circle cx="50.6" cy="453.2" r="0.43" fill="#111" opacity="0.77"/>
<circle cx="89.0" cy="453.0" r="0.39" fill="#111" opacity="0.81"/>
<circle cx="72.1" cy="452.6" r="0.31" fill="#111" opacity="0.77"/>
<circle cx="58.5" cy="453.4" r="0.42" fill="#111" opacity="0.96"/>
<circle cx="58.2" cy="453.3" r="0.36" fill="#111" opacity="0.88"/>
<circle cx="47.7" cy="453.3" r="0.35" fill="#111" opacity="0.81"/>
<circle cx="62.7" cy="453.4" r="0.47" fill="#111" opacity="0.80"/>
<circle cx="59.9" cy="453.5" r="0.47" fill="#111" opacity="0.69"/>
<circle cx="62.5" cy="453.0" r="0.42" fill="#111" opacity="0.62"/>
<circle cx="51.4" cy="453.2" r="0.42" fill="#111" opacity="0.81"/>
<circle cx="53.9" cy="452.5" r="0.54" fill="#111" opacity="0.85"/>
<circle cx="58.6" cy="453.1" r="0.38" fill="#111" opacity="0.83"/>
<circle cx="47.5" cy="453.2" r="0.32" fill="#111" opacity="0.79"/>
<circle cx="49.5" cy="452.7" r="0.30" fill="#111" opacity="0.80"/>
<circle cx="60.8" cy="453.0" r="0.35" fill="#111" opacity="0.80"/>
<circle cx="79.3" cy="453.0" r="0.54" fill="#111" opacity="0.69"/>
<circle cx="52.3" cy="452.7" r="0.38" fill="#111" opacity="0.66"/>
<circle cx="56.5" cy="452.8" r="0.39" fill="#111" opacity="0.63"/>
<circle cx="72.4" cy="453.5" r="0.44" fill="#111" opacity="0.72"/>
<circle cx="74.3" cy="453.0" r="0.37" fill="#111" opacity="0.74"/>
<circle cx="74.4" cy="452.6" r="0.51" fill="#111" opacity="0.68"/>
<circle cx="52.7" cy="453.2" r="0.45" fill="#111" opacity="0.68"/>
<circle cx="59.6" cy="452.7" r="0.32" fill="#111" opacity="0.87"/>
<circle cx="88.1" cy="453.5" r="0.33" fill="#111" opacity="0.81"/>
<circle cx="53.8" cy="453.0" r="0.54" fill="#111" opacity="0.86"/>
<circle cx="47.2" cy="453.1" r="0.44" fill="#111" opacity="0.81"/>
<circle cx="95.2" cy="453.3" r="0.42" fill="#111" opacity="0.68"/>
<circle cx="56.9" cy="453.6" r="0.46" fill="#111" opacity="0.87"/>
<circle cx="58.7" cy="453.3" r="0.42" fill="#111" opacity="0.74"/>
<circle cx="65.0" cy="452.8" r="0.43" fill="#111" opacity="0.99"/>
<circle cx="60.3" cy="453.0" r="0.45" fill="#111" opacity="0.94"/>
<circle cx="61.8" cy="453.4" r="0.49" fill="#111" opacity="0.67"/>
<circle cx="62.3" cy="452.7" r="0.40" fill="#111" opacity="0.95"/>
<circle cx="97.1" cy="453.3" r="0.32" fill="#111" opacity="0.65"/>
<circle cx="47.3" cy="452.5" r="0.39" fill="#111" opacity="0.64"/>
<circle cx="62.3" cy="453.4" r="0.43" fill="#111" opacity="0.65"/>
<circle cx="68.1" cy="453.5" r="0.36" fill="#111" opacity="0.69"/>
<circle cx="59.5" cy="453.5" r="0.42" fill="#111" opacity="0.95"/>
<circle cx="50.3" cy="452.8" r="0.52" fill="#111" opacity="0.68"/>
<circle cx="76.9" cy="452.8" r="0.34" fill="#111" opacity="0.87"/>
<circle cx="66.2" cy="453.0" r="0.42" fill="#111" opacity="0.62"/>
<circle cx="60.4" cy="453.2" r="0.53" fill="#111" opacity="0.89"/>
<circle cx="51.4" cy="453.1" r="0.33" fill="#111" opacity="0.90"/>
<g filter="url(#bl)">
<circle cx="60.0" cy="449.1" r="0.49" fill="#999" opacity="0.52"/>
<circle cx="57.3" cy="443.9" r="0.41" fill="#999" opacity="0.30"/>
<circle cx="58.7" cy="444.5" r="0.26" fill="#888" opacity="0.47"/>
<circle cx="58.7" cy="447.5" r="0.39" fill="#888" opacity="0.51"/>
<circle cx="60.5" cy="447.9" r="0.32" fill="#999" opacity="0.34"/>
<circle cx="56.0" cy="446.5" r="0.35" fill="#888" opacity="0.37"/>
<circle cx="61.6" cy="446.6" r="0.39" fill="#555" opacity="0.65"/>
<circle cx="59.4" cy="445.1" r="0.37" fill="#888" opacity="0.66"/>
<circle cx="59.9" cy="444.8" r="0.42" fill="#888" opacity="0.40"/>
<circle cx="60.1" cy="440.9" r="0.37" fill="#888" opacity="0.35"/>
<circle cx="59.6" cy="451.0" r="0.45" fill="#888" opacity="0.35"/>
<circle cx="52.7" cy="441.2" r="0.43" fill="#888" opacity="0.67"/>
<circle cx="58.3" cy="445.4" r="0.30" fill="#999" opacity="0.62"/>
<circle cx="60.1" cy="443.1" r="0.47" fill="#999" opacity="0.35"/>
<circle cx="62.2" cy="445.6" r="0.35" fill="#999" opacity="0.67"/>
<circle cx="62.1" cy="444.5" r="0.31" fill="#888" opacity="0.39"/>
<circle cx="61.0" cy="445.2" r="0.40" fill="#555" opacity="0.59"/>
<circle cx="52.0" cy="445.1" r="0.43" fill="#555" opacity="0.43"/>
<circle cx="60.9" cy="445.1" r="0.35" fill="#999" opacity="0.37"/>
<circle cx="54.7" cy="446.0" r="0.36" fill="#888" opacity="0.52"/>
<circle cx="60.8" cy="448.3" r="0.40" fill="#999" opacity="0.41"/>
<circle cx="57.2" cy="443.6" r="0.36" fill="#999" opacity="0.36"/>
<circle cx="62.1" cy="449.2" r="0.48" fill="#555" opacity="0.53"/>
<circle cx="54.7" cy="448.1" r="0.43" fill="#555" opacity="0.46"/>
<circle cx="62.2" cy="443.0" r="0.37" fill="#888" opacity="0.36"/>
<circle cx="61.6" cy="446.7" r="0.46" fill="#999" opacity="0.40"/>
<circle cx="57.6" cy="445.5" r="0.42" fill="#888" opacity="0.69"/>
<circle cx="61.4" cy="444.6" r="0.48" fill="#999" opacity="0.63"/>
<circle cx="57.0" cy="445.7" r="0.28" fill="#999" opacity="0.43"/>
<circle cx="60.3" cy="442.6" r="0.25" fill="#999" opacity="0.60"/>
<circle cx="60.8" cy="446.8" r="0.32" fill="#888" opacity="0.43"/>
<circle cx="62.4" cy="448.5" r="0.32" fill="#888" opacity="0.57"/>
<circle cx="62.0" cy="445.1" r="0.44" fill="#999" opacity="0.56"/>
<circle cx="61.5" cy="446.6" r="0.29" fill="#888" opacity="0.65"/>
<circle cx="57.4" cy="448.0" r="0.47" fill="#555" opacity="0.40"/>
<circle cx="55.8" cy="445.4" r="0.34" fill="#555" opacity="0.64"/>
<circle cx="62.0" cy="443.0" r="0.44" fill="#999" opacity="0.42"/>
<circle cx="60.3" cy="447.2" r="0.45" fill="#999" opacity="0.56"/>
<circle cx="61.0" cy="443.8" r="0.32" fill="#555" opacity="0.39"/>
<circle cx="62.1" cy="444.8" r="0.35" fill="#999" opacity="0.37"/>
<circle cx="53.9" cy="448.7" r="0.31" fill="#555" opacity="0.65"/>
<circle cx="57.7" cy="445.1" r="0.32" fill="#999" opacity="0.65"/>
<circle cx="60.5" cy="447.2" r="0.31" fill="#999" opacity="0.51"/>
<circle cx="55.9" cy="451.6" r="0.35" fill="#999" opacity="0.49"/>
<circle cx="55.1" cy="447.5" r="0.25" fill="#888" opacity="0.63"/>
<circle cx="61.0" cy="446.2" r="0.30" fill="#888" opacity="0.42"/>
<circle cx="58.8" cy="442.3" r="0.28" fill="#999" opacity="0.36"/>
<circle cx="57.9" cy="443.3" r="0.39" fill="#888" opacity="0.43"/>
<circle cx="60.8" cy="447.3" r="0.35" fill="#555" opacity="0.42"/>
<circle cx="60.1" cy="448.0" r="0.31" fill="#888" opacity="0.62"/>
<circle cx="59.4" cy="447.4" r="0.48" fill="#999" opacity="0.67"/>
<circle cx="61.9" cy="442.3" r="0.45" fill="#999" opacity="0.65"/>
<circle cx="57.4" cy="444.3" r="0.29" fill="#888" opacity="0.43"/>
<circle cx="58.2" cy="448.0" r="0.28" fill="#999" opacity="0.67"/>
<circle cx="53.8" cy="449.4" r="0.32" fill="#555" opacity="0.36"/>
<circle cx="62.0" cy="441.4" r="0.34" fill="#888" opacity="0.56"/>
<circle cx="58.5" cy="444.5" r="0.41" fill="#555" opacity="0.44"/>
<circle cx="60.3" cy="449.2" r="0.44" fill="#555" opacity="0.44"/>
<polygon fill="#f6f6f6" points="71.0,411.5 68.9,413.1 68.1,414.7 67.5,416.4 67.1,418.0 66.7,419.6 66.4,421.2 66.1,422.9 65.8,424.5 65.5,426.1 65.3,427.7 65.1,429.3 64.9,431.0 64.7,432.6 64.5,434.2 78.9,434.2 78.6,432.6 78.3,431.0 78.0,429.3 77.7,427.7 77.3,426.1 77.0,424.5 76.6,422.9 76.2,421.2 75.8,419.6 75.3,418.0 74.7,416.4 74.1,414.7 73.2,413.1 71.0,411.5"/>
<polygon fill="none" stroke="#8a8a8a" stroke-width="0.55" points="71.0,415.2 69.5,416.5 69.0,417.7 68.5,419.0 68.2,420.2 67.9,421.4 67.6,422.7 67.4,423.9 67.1,425.2 66.9,426.4 66.7,427.6 66.6,428.9 66.4,430.1 66.2,431.4 66.1,432.6 77.3,432.6 77.0,431.4 76.8,430.1 76.5,428.9 76.2,427.6 75.9,426.4 75.6,425.2 75.3,423.9 75.0,422.7 74.6,421.4 74.2,420.2 73.7,419.0 73.2,417.7 72.5,416.5 71.0,415.2"/>
<polygon fill="none" stroke="#9a9a9a" stroke-width="0.55" points="71.0,419.2 70.0,420.0 69.6,420.9 69.3,421.8 69.1,422.7 68.9,423.5 68.7,424.4 68.5,425.3 68.4,426.2 68.3,427.0 68.1,427.9 68.0,428.8 67.9,429.6 67.8,430.5 67.7,431.4 75.6,431.4 75.4,430.5 75.2,429.6 75.0,428.8 74.8,427.9 74.6,427.0 74.4,426.2 74.1,425.3 73.9,424.4 73.6,423.5 73.3,422.7 73.0,421.8 72.6,420.9 72.1,420.0 71.0,419.2"/>
<polygon fill="none" stroke="#aaa" stroke-width="0.55" points="71.0,422.9 70.4,423.4 70.2,424.0 70.0,424.5 69.9,425.0 69.8,425.5 69.7,426.1 69.7,426.6 69.6,427.1 69.5,427.6 69.5,428.2 69.4,428.7 69.4,429.2 69.3,429.7 69.3,430.2 74.1,430.2 73.9,429.7 73.8,429.2 73.6,428.7 73.5,428.2 73.3,427.6 73.2,427.1 73.0,426.6 72.8,426.1 72.7,425.5 72.5,425.0 72.2,424.5 72.0,424.0 71.7,423.4 71.0,422.9"/>
<circle cx="76.7" cy="426.4" r="0.48" fill="#222" opacity="0.95"/>
<circle cx="64.9" cy="428.9" r="0.55" fill="#555" opacity="0.62"/>
<circle cx="65.5" cy="428.8" r="0.47" fill="#111" opacity="0.65"/>
<circle cx="74.3" cy="414.4" r="0.54" fill="#111" opacity="0.97"/>
<circle cx="69.5" cy="412.1" r="0.46" fill="#222" opacity="0.66"/>
<circle cx="77.2" cy="421.2" r="0.64" fill="#333" opacity="0.60"/>
<circle cx="78.4" cy="430.1" r="0.63" fill="#111" opacity="0.75"/>
<circle cx="78.4" cy="430.4" r="0.64" fill="#111" opacity="0.88"/>
<circle cx="64.4" cy="432.7" r="0.35" fill="#555" opacity="0.89"/>
<circle cx="77.0" cy="430.5" r="0.36" fill="#111" opacity="0.79"/>
<circle cx="72.9" cy="412.8" r="0.54" fill="#555" opacity="0.96"/>
<circle cx="77.8" cy="429.5" r="0.51" fill="#333" opacity="0.79"/>
<circle cx="78.9" cy="430.0" r="0.37" fill="#111" opacity="0.80"/>
<circle cx="66.4" cy="426.1" r="0.64" fill="#222" opacity="0.70"/>
<circle cx="67.3" cy="417.7" r="0.51" fill="#333" opacity="0.97"/>
<circle cx="65.6" cy="428.9" r="0.49" fill="#555" opacity="0.94"/>
<circle cx="76.5" cy="419.4" r="0.41" fill="#111" opacity="0.94"/>
<circle cx="77.9" cy="429.1" r="0.46" fill="#111" opacity="0.73"/>
<circle cx="65.4" cy="422.8" r="0.63" fill="#333" opacity="0.73"/>
<circle cx="65.1" cy="426.2" r="0.53" fill="#111" opacity="0.78"/>
<circle cx="64.4" cy="434.0" r="0.35" fill="#222" opacity="1.00"/>
<circle cx="65.7" cy="421.8" r="0.37" fill="#333" opacity="0.88"/>
<circle cx="77.9" cy="424.8" r="0.61" fill="#333" opacity="0.96"/>
<circle cx="77.9" cy="427.6" r="0.43" fill="#333" opacity="0.62"/>
<circle cx="72.4" cy="412.0" r="0.38" fill="#333" opacity="0.63"/>
<circle cx="65.4" cy="426.2" r="0.57" fill="#555" opacity="0.78"/>
<circle cx="74.7" cy="416.0" r="0.63" fill="#333" opacity="0.99"/>
<circle cx="77.3" cy="426.0" r="0.54" fill="#222" opacity="0.63"/>
<circle cx="65.4" cy="433.4" r="0.39" fill="#555" opacity="0.74"/>
<circle cx="66.5" cy="418.6" r="0.35" fill="#111" opacity="0.93"/>
<circle cx="65.6" cy="422.5" r="0.56" fill="#111" opacity="0.84"/>
<circle cx="66.5" cy="418.0" r="0.42" fill="#111" opacity="0.99"/>
<circle cx="67.6" cy="415.1" r="0.42" fill="#111" opacity="0.78"/>
<circle cx="78.9" cy="434.2" r="0.63" fill="#555" opacity="0.79"/>
<circle cx="68.6" cy="414.1" r="0.55" fill="#111" opacity="0.78"/>
<circle cx="79.6" cy="432.4" r="0.61" fill="#111" opacity="0.84"/>
<circle cx="65.6" cy="427.7" r="0.53" fill="#555" opacity="0.80"/>
<circle cx="64.4" cy="432.4" r="0.45" fill="#222" opacity="0.84"/>
<circle cx="78.3" cy="429.6" r="0.50" fill="#555" opacity="0.77"/>
<circle cx="77.6" cy="424.6" r="0.60" fill="#333" opacity="0.63"/>
<circle cx="74.5" cy="416.8" r="0.35" fill="#111" opacity="0.83"/>
<circle cx="65.6" cy="422.9" r="0.41" fill="#333" opacity="0.77"/>
<circle cx="78.5" cy="433.6" r="0.41" fill="#111" opacity="0.98"/>
<circle cx="64.3" cy="432.0" r="0.36" fill="#333" opacity="0.61"/>
<circle cx="77.8" cy="426.2" r="0.64" fill="#555" opacity="0.90"/>
<circle cx="75.5" cy="417.7" r="0.39" fill="#111" opacity="0.66"/>
<circle cx="78.2" cy="429.0" r="0.58" fill="#555" opacity="0.61"/>
<circle cx="67.1" cy="417.6" r="0.62" fill="#111" opacity="0.81"/>
<circle cx="64.5" cy="429.7" r="0.59" fill="#111" opacity="0.71"/>
<circle cx="66.4" cy="418.1" r="0.47" fill="#222" opacity="0.65"/>
<circle cx="76.2" cy="417.1" r="0.56" fill="#222" opacity="0.99"/>
<circle cx="63.7" cy="427.4" r="0.40" fill="#222" opacity="0.69"/>
<circle cx="67.7" cy="418.3" r="0.45" fill="#222" opacity="0.80"/>
<circle cx="64.6" cy="429.8" r="0.58" fill="#333" opacity="0.99"/>
<circle cx="68.6" cy="415.0" r="0.44" fill="#333" opacity="0.89"/>
<circle cx="66.3" cy="423.2" r="0.38" fill="#111" opacity="0.72"/>
<circle cx="68.4" cy="413.4" r="0.41" fill="#222" opacity="0.93"/>
<circle cx="77.2" cy="424.6" r="0.42" fill="#333" opacity="0.66"/>
<circle cx="65.5" cy="429.6" r="0.48" fill="#555" opacity="0.62"/>
<circle cx="74.6" cy="416.4" r="0.54" fill="#222" opacity="0.63"/>
<circle cx="64.2" cy="433.3" r="0.40" fill="#222" opacity="0.60"/>
<circle cx="67.7" cy="415.9" r="0.59" fill="#222" opacity="0.94"/>
<circle cx="68.6" cy="413.8" r="0.36" fill="#333" opacity="0.90"/>
<circle cx="76.7" cy="420.9" r="0.49" fill="#222" opacity="0.93"/>
<circle cx="77.0" cy="421.6" r="0.52" fill="#111" opacity="0.60"/>
<circle cx="73.8" cy="414.2" r="0.51" fill="#111" opacity="0.68"/>
<circle cx="65.6" cy="422.5" r="0.40" fill="#333" opacity="0.65"/>
<circle cx="77.9" cy="422.4" r="0.43" fill="#222" opacity="0.70"/>
<circle cx="76.7" cy="422.5" r="0.47" fill="#555" opacity="0.92"/>
<circle cx="68.0" cy="414.5" r="0.51" fill="#222" opacity="0.80"/>
<circle cx="75.1" cy="415.2" r="0.29" fill="#444" opacity="0.56"/>
<circle cx="70.5" cy="412.3" r="0.31" fill="#444" opacity="0.66"/>
<circle cx="74.6" cy="415.5" r="0.44" fill="#444" opacity="0.41"/>
<circle cx="73.6" cy="412.9" r="0.44" fill="#444" opacity="0.70"/>
<circle cx="66.6" cy="414.6" r="0.44" fill="#444" opacity="0.57"/>
<circle cx="75.9" cy="415.0" r="0.40" fill="#444" opacity="0.63"/>
<circle cx="72.2" cy="411.4" r="0.39" fill="#444" opacity="0.46"/>
<circle cx="74.5" cy="412.0" r="0.41" fill="#444" opacity="0.77"/>
<circle cx="66.5" cy="415.1" r="0.29" fill="#444" opacity="0.47"/>
<circle cx="69.0" cy="411.7" r="0.34" fill="#444" opacity="0.59"/>
<circle cx="73.1" cy="414.5" r="0.41" fill="#444" opacity="0.57"/>
<circle cx="68.3" cy="413.9" r="0.44" fill="#444" opacity="0.57"/>
<circle cx="74.9" cy="412.9" r="0.42" fill="#444" opacity="0.68"/>
<circle cx="65.6" cy="414.8" r="0.35" fill="#444" opacity="0.66"/>
<circle cx="65.4" cy="413.3" r="0.31" fill="#444" opacity="0.60"/>
<circle cx="64.1" cy="414.0" r="0.34" fill="#444" opacity="0.79"/>
<circle cx="70.7" cy="413.5" r="0.32" fill="#444" opacity="0.65"/>
<circle cx="79.1" cy="428.0" r="0.43" fill="#444" opacity="0.61"/>
<circle cx="78.6" cy="422.6" r="0.70" fill="#444" opacity="0.74"/>
<circle cx="80.7" cy="419.6" r="0.79" fill="#444" opacity="0.59"/>
<circle cx="78.5" cy="419.3" r="0.63" fill="#666" opacity="0.73"/>
<circle cx="81.3" cy="428.2" r="0.64" fill="#222" opacity="0.63"/>
<circle cx="77.2" cy="433.8" r="0.61" fill="#666" opacity="0.73"/>
<circle cx="81.1" cy="422.4" r="0.57" fill="#444" opacity="0.61"/>
<circle cx="81.1" cy="423.5" r="0.51" fill="#222" opacity="0.59"/>
<circle cx="78.2" cy="425.5" r="0.79" fill="#222" opacity="0.88"/>
<circle cx="79.1" cy="432.2" r="0.80" fill="#666" opacity="0.81"/>
<circle cx="80.2" cy="430.9" r="0.45" fill="#222" opacity="0.64"/>
<circle cx="80.7" cy="425.3" r="0.76" fill="#444" opacity="0.65"/>
<circle cx="80.8" cy="433.0" r="0.45" fill="#222" opacity="0.78"/>
<circle cx="77.9" cy="425.7" r="0.64" fill="#222" opacity="0.69"/>
<circle cx="79.1" cy="418.9" r="0.51" fill="#666" opacity="0.79"/>
<circle cx="79.3" cy="427.7" r="0.74" fill="#444" opacity="0.74"/>
<circle cx="77.2" cy="432.3" r="0.47" fill="#222" opacity="0.76"/>
<circle cx="79.8" cy="433.0" r="0.78" fill="#222" opacity="0.69"/>
<circle cx="77.6" cy="429.6" r="0.62" fill="#444" opacity="0.61"/>
<circle cx="81.2" cy="417.9" r="0.53" fill="#444" opacity="0.53"/>
<circle cx="78.7" cy="424.9" r="0.50" fill="#666" opacity="0.85"/>
<circle cx="77.5" cy="421.3" r="0.79" fill="#222" opacity="0.86"/>
<circle cx="79.0" cy="418.8" r="0.58" fill="#666" opacity="0.65"/>
<circle cx="77.8" cy="419.7" r="0.78" fill="#444" opacity="0.50"/>
<circle cx="79.7" cy="418.7" r="0.70" fill="#444" opacity="0.90"/>
<circle cx="77.7" cy="430.0" r="0.44" fill="#222" opacity="0.52"/>
<circle cx="77.4" cy="418.3" r="0.56" fill="#666" opacity="0.64"/>
<circle cx="80.2" cy="417.6" r="0.61" fill="#666" opacity="0.70"/>
<circle cx="79.1" cy="430.1" r="0.73" fill="#222" opacity="0.83"/>
<circle cx="80.1" cy="419.1" r="0.44" fill="#222" opacity="0.59"/>
<circle cx="79.7" cy="426.7" r="0.42" fill="#444" opacity="0.85"/>
<circle cx="77.6" cy="430.9" r="0.70" fill="#444" opacity="0.88"/>
<circle cx="78.1" cy="425.6" r="0.49" fill="#666" opacity="0.55"/>
<circle cx="79.7" cy="427.9" r="0.74" fill="#222" opacity="0.88"/>
<circle cx="77.3" cy="420.1" r="0.63" fill="#222" opacity="0.85"/>
<circle cx="77.5" cy="430.9" r="0.76" fill="#666" opacity="0.89"/>
<circle cx="80.7" cy="420.2" r="0.48" fill="#444" opacity="0.81"/>
<circle cx="79.3" cy="419.0" r="0.49" fill="#666" opacity="0.52"/>
<circle cx="80.3" cy="422.1" r="0.69" fill="#444" opacity="0.72"/>
<circle cx="78.6" cy="433.9" r="0.63" fill="#222" opacity="0.53"/>
<circle cx="79.0" cy="418.0" r="0.67" fill="#444" opacity="0.73"/>
<circle cx="81.4" cy="428.2" r="0.47" fill="#666" opacity="0.84"/>
<circle cx="79.6" cy="417.2" r="0.46" fill="#666" opacity="0.60"/>
<circle cx="79.4" cy="425.7" r="0.75" fill="#666" opacity="0.54"/>
<circle cx="77.5" cy="419.3" r="0.41" fill="#222" opacity="0.65"/>
<circle cx="80.7" cy="421.2" r="0.53" fill="#222" opacity="0.83"/>
<circle cx="81.1" cy="433.4" r="0.50" fill="#222" opacity="0.73"/>
<circle cx="79.8" cy="417.5" r="0.75" fill="#444" opacity="0.63"/>
<circle cx="79.0" cy="429.0" r="0.46" fill="#444" opacity="0.59"/>
<circle cx="77.4" cy="425.1" r="0.71" fill="#222" opacity="0.59"/>
<circle cx="78.2" cy="417.6" r="0.66" fill="#666" opacity="0.70"/>
<circle cx="79.2" cy="429.3" r="0.57" fill="#222" opacity="0.71"/>
<circle cx="78.3" cy="425.1" r="0.77" fill="#444" opacity="0.66"/>
<circle cx="78.4" cy="433.8" r="0.43" fill="#222" opacity="0.70"/>
<circle cx="79.1" cy="433.2" r="0.70" fill="#222" opacity="0.66"/>
<circle cx="78.7" cy="423.7" r="0.44" fill="#666" opacity="0.70"/>
<circle cx="77.2" cy="424.9" r="0.73" fill="#666" opacity="0.56"/>
<circle cx="78.6" cy="428.9" r="0.44" fill="#222" opacity="0.58"/>
<circle cx="80.8" cy="434.5" r="0.77" fill="#222" opacity="0.61"/>
<circle cx="81.3" cy="424.2" r="0.67" fill="#222" opacity="0.85"/>
<circle cx="80.2" cy="417.1" r="0.43" fill="#666" opacity="0.84"/>
<circle cx="80.5" cy="424.7" r="0.78" fill="#666" opacity="0.73"/>
<circle cx="77.8" cy="422.8" r="0.46" fill="#444" opacity="0.78"/>
<circle cx="81.0" cy="431.9" r="0.49" fill="#222" opacity="0.81"/>
<circle cx="77.3" cy="432.2" r="0.62" fill="#444" opacity="0.70"/>
<circle cx="77.4" cy="429.3" r="0.47" fill="#666" opacity="0.79"/>
<circle cx="77.6" cy="426.5" r="0.50" fill="#444" opacity="0.78"/>
<circle cx="79.1" cy="421.8" r="0.57" fill="#666" opacity="0.72"/>
<circle cx="77.7" cy="422.2" r="0.55" fill="#444" opacity="0.53"/>
<circle cx="78.2" cy="434.0" r="0.51" fill="#666" opacity="0.62"/>
<circle cx="77.4" cy="425.5" r="0.75" fill="#444" opacity="0.52"/>
<circle cx="80.2" cy="427.9" r="0.59" fill="#666" opacity="0.58"/>
<circle cx="79.6" cy="418.3" r="0.59" fill="#666" opacity="0.62"/>
<circle cx="80.8" cy="426.9" r="0.60" fill="#666" opacity="0.69"/>
<circle cx="77.6" cy="433.6" r="0.66" fill="#666" opacity="0.64"/>
<circle cx="77.2" cy="434.4" r="0.76" fill="#666" opacity="0.65"/>
<circle cx="79.2" cy="421.2" r="0.58" fill="#222" opacity="0.76"/>
<circle cx="79.7" cy="430.0" r="0.51" fill="#666" opacity="0.83"/>
<circle cx="80.8" cy="420.9" r="0.40" fill="#444" opacity="0.64"/>
<circle cx="77.3" cy="432.3" r="0.67" fill="#444" opacity="0.67"/>
<circle cx="79.3" cy="424.9" r="0.42" fill="#222" opacity="0.77"/>
<circle cx="79.4" cy="425.7" r="0.50" fill="#222" opacity="0.82"/>
<circle cx="77.3" cy="417.4" r="0.65" fill="#666" opacity="0.89"/>
<circle cx="78.2" cy="426.0" r="0.44" fill="#444" opacity="0.62"/>
<circle cx="79.4" cy="419.1" r="0.59" fill="#222" opacity="0.65"/>
<circle cx="78.2" cy="433.3" r="0.42" fill="#666" opacity="0.84"/>
<circle cx="77.3" cy="433.6" r="0.66" fill="#444" opacity="0.89"/>
<circle cx="78.4" cy="423.5" r="0.71" fill="#444" opacity="0.86"/>
<circle cx="78.5" cy="417.2" r="0.71" fill="#666" opacity="0.79"/>
<circle cx="79.6" cy="425.6" r="0.48" fill="#666" opacity="0.65"/>
<circle cx="79.1" cy="434.0" r="0.48" fill="#666" opacity="0.58"/>
<circle cx="78.4" cy="426.0" r="0.61" fill="#222" opacity="0.80"/>
<circle cx="81.4" cy="431.5" r="0.72" fill="#444" opacity="0.79"/>
<circle cx="79.5" cy="431.4" r="0.72" fill="#666" opacity="0.82"/>
<circle cx="79.5" cy="432.2" r="0.43" fill="#444" opacity="0.84"/>
<circle cx="80.5" cy="422.1" r="0.80" fill="#222" opacity="0.52"/>
<circle cx="79.1" cy="429.8" r="0.63" fill="#222" opacity="0.64"/>
<circle cx="78.7" cy="432.0" r="0.61" fill="#666" opacity="0.86"/>
<circle cx="79.5" cy="431.3" r="0.62" fill="#666" opacity="0.71"/>
<circle cx="79.2" cy="419.5" r="0.46" fill="#666" opacity="0.53"/>
<circle cx="78.8" cy="417.8" r="0.56" fill="#222" opacity="0.84"/>
<circle cx="80.2" cy="434.1" r="0.62" fill="#444" opacity="0.70"/>
<circle cx="77.5" cy="425.1" r="0.69" fill="#444" opacity="0.66"/>
<circle cx="79.3" cy="421.9" r="0.78" fill="#222" opacity="0.78"/>
<circle cx="80.5" cy="433.2" r="0.48" fill="#444" opacity="0.52"/>
<circle cx="80.0" cy="423.4" r="0.77" fill="#444" opacity="0.87"/>
<circle cx="78.0" cy="426.4" r="0.45" fill="#666" opacity="0.70"/>
<circle cx="79.9" cy="422.8" r="0.49" fill="#666" opacity="0.72"/>
<circle cx="80.2" cy="428.4" r="0.57" fill="#222" opacity="0.62"/>
<circle cx="79.2" cy="423.1" r="0.65" fill="#666" opacity="0.80"/>
<circle cx="65.2" cy="433.6" r="0.64" fill="#333" opacity="0.69"/>
<circle cx="67.5" cy="433.1" r="0.63" fill="#333" opacity="0.82"/>
<circle cx="67.4" cy="431.4" r="0.58" fill="#777" opacity="0.72"/>
<circle cx="67.7" cy="433.7" r="0.54" fill="#555" opacity="0.55"/>
<circle cx="64.4" cy="431.2" r="0.42" fill="#555" opacity="0.62"/>
<circle cx="69.0" cy="434.4" r="0.41" fill="#333" opacity="0.53"/>
<circle cx="68.4" cy="430.3" r="0.51" fill="#555" opacity="0.88"/>
<circle cx="68.2" cy="429.1" r="0.44" fill="#555" opacity="0.85"/>
<circle cx="67.1" cy="432.4" r="0.53" fill="#555" opacity="0.73"/>
<circle cx="67.3" cy="431.7" r="0.46" fill="#555" opacity="0.85"/>
<circle cx="66.9" cy="433.8" r="0.49" fill="#777" opacity="0.76"/>
<circle cx="64.2" cy="429.4" r="0.65" fill="#333" opacity="0.72"/>
<circle cx="65.6" cy="429.4" r="0.55" fill="#777" opacity="0.80"/>
<circle cx="67.3" cy="431.1" r="0.55" fill="#333" opacity="0.82"/>
<circle cx="65.2" cy="432.5" r="0.41" fill="#333" opacity="0.89"/>
<circle cx="66.7" cy="431.0" r="0.55" fill="#555" opacity="0.88"/>
<circle cx="66.0" cy="432.1" r="0.53" fill="#777" opacity="0.72"/>
<circle cx="65.9" cy="432.9" r="0.66" fill="#333" opacity="0.61"/>
<circle cx="64.9" cy="434.1" r="0.65" fill="#555" opacity="0.87"/>
<circle cx="64.3" cy="432.7" r="0.56" fill="#333" opacity="0.79"/>
<circle cx="64.8" cy="432.1" r="0.41" fill="#333" opacity="0.83"/>
<circle cx="65.1" cy="434.3" r="0.43" fill="#777" opacity="0.76"/>
<circle cx="66.6" cy="429.1" r="0.69" fill="#555" opacity="0.85"/>
<circle cx="68.9" cy="430.2" r="0.68" fill="#333" opacity="0.59"/>
<circle cx="66.0" cy="429.4" r="0.57" fill="#333" opacity="0.52"/>
<circle cx="66.3" cy="431.1" r="0.54" fill="#333" opacity="0.78"/>
<circle cx="68.8" cy="430.6" r="0.60" fill="#555" opacity="0.65"/>
<circle cx="66.5" cy="432.2" r="0.57" fill="#333" opacity="0.60"/>
<circle cx="68.5" cy="434.3" r="0.68" fill="#555" opacity="0.71"/>
<circle cx="64.1" cy="431.7" r="0.59" fill="#777" opacity="0.68"/>
<circle cx="66.0" cy="433.4" r="0.60" fill="#777" opacity="0.75"/>
<circle cx="65.1" cy="434.4" r="0.47" fill="#777" opacity="0.54"/>
<circle cx="68.2" cy="429.5" r="0.66" fill="#333" opacity="0.54"/>
<circle cx="65.9" cy="433.2" r="0.68" fill="#777" opacity="0.51"/>
<circle cx="65.8" cy="433.0" r="0.43" fill="#555" opacity="0.68"/>
<circle cx="66.1" cy="432.8" r="0.43" fill="#777" opacity="0.68"/>
<circle cx="67.1" cy="429.5" r="0.55" fill="#555" opacity="0.54"/>
<circle cx="64.5" cy="432.0" r="0.66" fill="#777" opacity="0.57"/>
<circle cx="67.7" cy="433.4" r="0.54" fill="#555" opacity="0.57"/>
<circle cx="65.7" cy="431.8" r="0.62" fill="#555" opacity="0.67"/>
<rect x="84" y="411" width="14.5" height="23.5" fill="#b2b2b2"/>
<rect x="98.5" y="411" width="3.0" height="23.5" fill="#dedede"/>
<line x1="97.3" y1="415.5" x2="95.9" y2="425.9" stroke="#eee" stroke-width="0.6" opacity="0.8"/>
<line x1="91.2" y1="415.2" x2="92.3" y2="427.7" stroke="#666" stroke-width="0.6" opacity="0.8"/>
<line x1="87.8" y1="414.1" x2="88.7" y2="423.9" stroke="#777" stroke-width="0.6" opacity="0.8"/>
<line x1="87.7" y1="411.6" x2="86.8" y2="420.5" stroke="#666" stroke-width="0.6" opacity="0.8"/>
<line x1="92.5" y1="411.4" x2="91.8" y2="422.4" stroke="#777" stroke-width="0.6" opacity="0.8"/>
<line x1="94.8" y1="412.7" x2="96.3" y2="424.0" stroke="#f4f4f4" stroke-width="0.6" opacity="0.8"/>
<line x1="86.2" y1="416.9" x2="84.7" y2="428.5" stroke="#f4f4f4" stroke-width="0.6" opacity="0.8"/>
<line x1="91.4" y1="416.0" x2="92.6" y2="425.0" stroke="#f4f4f4" stroke-width="0.6" opacity="0.8"/>
<line x1="92.7" y1="414.7" x2="91.4" y2="427.2" stroke="#777" stroke-width="0.6" opacity="0.8"/>
<line x1="85.5" y1="414.8" x2="84.8" y2="425.6" stroke="#f4f4f4" stroke-width="0.6" opacity="0.8"/>
<line x1="93.2" y1="417.7" x2="94.0" y2="427.4" stroke="#f4f4f4" stroke-width="0.6" opacity="0.8"/>
<line x1="97.0" y1="413.4" x2="95.7" y2="425.6" stroke="#777" stroke-width="0.6" opacity="0.8"/>
<line x1="87.1" y1="418.5" x2="86.1" y2="428.4" stroke="#555" stroke-width="0.6" opacity="0.8"/>
<line x1="99.8" y1="414.3" x2="101.1" y2="422.5" stroke="#777" stroke-width="0.6" opacity="0.8"/>
<line x1="87.6" y1="411.3" x2="88.4" y2="420.3" stroke="#e4e4e4" stroke-width="0.6" opacity="0.8"/>
<line x1="84.6" y1="412.1" x2="84.2" y2="420.6" stroke="#eee" stroke-width="0.6" opacity="0.8"/>
<line x1="86.5" y1="415.0" x2="85.3" y2="427.7" stroke="#f4f4f4" stroke-width="0.6" opacity="0.8"/>
<line x1="97.6" y1="412.5" x2="98.8" y2="425.9" stroke="#f4f4f4" stroke-width="0.6" opacity="0.8"/>
<line x1="94.8" y1="412.4" x2="94.0" y2="421.2" stroke="#555" stroke-width="0.6" opacity="0.8"/>
<line x1="87.5" y1="416.5" x2="87.0" y2="429.1" stroke="#f4f4f4" stroke-width="0.6" opacity="0.8"/>
<line x1="99.0" y1="414.3" x2="98.6" y2="424.0" stroke="#e4e4e4" stroke-width="0.6" opacity="0.8"/>
<line x1="94.3" y1="413.1" x2="94.9" y2="423.6" stroke="#555" stroke-width="0.6" opacity="0.8"/>
<line x1="99.3" y1="413.4" x2="98.5" y2="426.2" stroke="#666" stroke-width="0.6" opacity="0.8"/>
<line x1="86.8" y1="418.3" x2="86.1" y2="426.8" stroke="#666" stroke-width="0.6" opacity="0.8"/>
<line x1="91.9" y1="415.3" x2="92.6" y2="423.7" stroke="#f4f4f4" stroke-width="0.6" opacity="0.8"/>
<line x1="86.9" y1="419.2" x2="87.5" y2="430.1" stroke="#777" stroke-width="0.6" opacity="0.8"/>
<line x1="88.1" y1="419.1" x2="87.7" y2="432.3" stroke="#555" stroke-width="0.6" opacity="0.8"/>
<line x1="99.5" y1="413.4" x2="100.3" y2="427.2" stroke="#555" stroke-width="0.6" opacity="0.8"/>
<line x1="94.3" y1="412.0" x2="94.3" y2="423.0" stroke="#555" stroke-width="0.6" opacity="0.8"/>
<line x1="96.3" y1="415.6" x2="96.5" y2="426.2" stroke="#777" stroke-width="0.6" opacity="0.8"/>
<line x1="97.2" y1="419.0" x2="96.6" y2="431.2" stroke="#eee" stroke-width="0.6" opacity="0.8"/>
<line x1="98.2" y1="411.6" x2="99.2" y2="421.1" stroke="#f4f4f4" stroke-width="0.6" opacity="0.8"/>
<line x1="95.1" y1="415.2" x2="96.3" y2="428.0" stroke="#e4e4e4" stroke-width="0.6" opacity="0.8"/>
<line x1="93.4" y1="417.6" x2="93.9" y2="428.0" stroke="#eee" stroke-width="0.6" opacity="0.8"/>
<line x1="92.5" y1="415.8" x2="93.9" y2="426.8" stroke="#777" stroke-width="0.6" opacity="0.8"/>
<line x1="97.6" y1="417.3" x2="98.2" y2="428.3" stroke="#f4f4f4" stroke-width="0.6" opacity="0.8"/>
<line x1="87.3" y1="415.7" x2="88.6" y2="425.4" stroke="#eee" stroke-width="0.6" opacity="0.8"/>
<line x1="87.7" y1="415.2" x2="86.4" y2="424.7" stroke="#777" stroke-width="0.6" opacity="0.8"/>
<rect x="63.3" y="437" width="18.60000000000001" height="11.600000000000023" fill="#a8a8a8"/>
<circle cx="63.9" cy="446.3" r="0.98" fill="#555" opacity="0.60"/>
<circle cx="80.6" cy="441.3" r="0.77" fill="#333" opacity="0.64"/>
<circle cx="63.5" cy="438.0" r="0.93" fill="#e8e8e8" opacity="0.54"/>
<circle cx="78.6" cy="439.9" r="1.07" fill="#555" opacity="0.80"/>
<circle cx="76.5" cy="446.7" r="1.04" fill="#444" opacity="0.81"/>
<circle cx="74.1" cy="445.0" r="0.70" fill="#555" opacity="0.85"/>
<circle cx="78.3" cy="442.1" r="0.61" fill="#444" opacity="0.60"/>
<circle cx="72.1" cy="437.2" r="0.53" fill="#e8e8e8" opacity="0.77"/>
<circle cx="68.3" cy="445.7" r="0.71" fill="#d8d8d8" opacity="0.80"/>
<circle cx="74.0" cy="437.6" r="0.82" fill="#333" opacity="0.89"/>
<circle cx="68.1" cy="448.1" r="0.69" fill="#e8e8e8" opacity="0.84"/>
<circle cx="81.4" cy="447.3" r="0.96" fill="#444" opacity="0.57"/>
<circle cx="81.7" cy="445.4" r="0.80" fill="#444" opacity="0.62"/>
<circle cx="70.2" cy="445.4" r="0.71" fill="#444" opacity="0.54"/>
<circle cx="79.7" cy="443.6" r="1.07" fill="#d8d8d8" opacity="0.68"/>
<circle cx="73.3" cy="443.8" r="1.03" fill="#d8d8d8" opacity="0.61"/>
<circle cx="80.0" cy="444.4" r="0.82" fill="#444" opacity="0.87"/>
<circle cx="65.6" cy="441.2" r="1.04" fill="#333" opacity="0.89"/>
<circle cx="81.8" cy="440.5" r="0.54" fill="#555" opacity="0.59"/>
<circle cx="81.7" cy="444.0" r="1.00" fill="#333" opacity="0.77"/>
<circle cx="66.2" cy="438.4" r="0.70" fill="#444" opacity="0.55"/>
<circle cx="76.3" cy="447.1" r="1.03" fill="#333" opacity="0.52"/>
<circle cx="78.3" cy="446.8" r="0.89" fill="#d8d8d8" opacity="0.54"/>
<circle cx="70.8" cy="442.5" r="0.57" fill="#d8d8d8" opacity="0.59"/>
<circle cx="80.3" cy="445.7" r="0.53" fill="#444" opacity="0.67"/>
<circle cx="78.1" cy="445.7" r="0.68" fill="#e8e8e8" opacity="0.59"/>
<circle cx="72.2" cy="439.5" r="1.02" fill="#333" opacity="0.57"/>
<circle cx="69.5" cy="444.2" r="1.08" fill="#555" opacity="0.74"/>
<circle cx="72.5" cy="445.8" r="0.82" fill="#d8d8d8" opacity="0.59"/>
<circle cx="78.3" cy="442.3" r="0.73" fill="#555" opacity="0.58"/>
<circle cx="72.8" cy="443.8" r="0.85" fill="#e8e8e8" opacity="0.86"/>
<circle cx="81.1" cy="442.3" r="0.50" fill="#444" opacity="0.81"/>
<circle cx="75.9" cy="438.4" r="0.66" fill="#d8d8d8" opacity="0.61"/>
<circle cx="67.3" cy="448.1" r="0.78" fill="#555" opacity="0.79"/>
<circle cx="70.2" cy="445.1" r="1.05" fill="#555" opacity="0.81"/>
<circle cx="68.7" cy="446.6" r="0.81" fill="#444" opacity="0.82"/>
<circle cx="69.3" cy="438.7" r="0.98" fill="#e8e8e8" opacity="0.68"/>
<circle cx="70.0" cy="445.8" r="0.75" fill="#e8e8e8" opacity="0.87"/>
<circle cx="77.6" cy="439.0" r="0.72" fill="#444" opacity="0.52"/>
<circle cx="69.2" cy="447.6" r="0.90" fill="#e8e8e8" opacity="0.55"/>
<circle cx="75.4" cy="441.8" r="0.65" fill="#444" opacity="0.63"/>
<circle cx="63.7" cy="446.7" r="0.95" fill="#d8d8d8" opacity="0.86"/>
<circle cx="67.9" cy="441.7" r="0.50" fill="#444" opacity="0.72"/>
<circle cx="64.3" cy="440.3" r="0.75" fill="#555" opacity="0.75"/>
<circle cx="75.3" cy="445.9" r="0.64" fill="#555" opacity="0.57"/>
<circle cx="67.8" cy="437.5" r="0.83" fill="#444" opacity="0.58"/>
<circle cx="79.1" cy="437.4" r="1.09" fill="#444" opacity="0.61"/>
<circle cx="81.4" cy="438.8" r="0.58" fill="#e8e8e8" opacity="0.75"/>
<circle cx="68.9" cy="446.8" r="0.50" fill="#d8d8d8" opacity="0.82"/>
<circle cx="69.6" cy="437.5" r="0.56" fill="#555" opacity="0.70"/>
<circle cx="77.5" cy="439.3" r="0.67" fill="#555" opacity="0.82"/>
<circle cx="76.4" cy="438.3" r="0.58" fill="#444" opacity="0.74"/>
<circle cx="76.9" cy="438.8" r="0.82" fill="#444" opacity="0.58"/>
<circle cx="64.1" cy="444.4" r="0.92" fill="#444" opacity="0.57"/>
<circle cx="78.2" cy="443.6" r="1.03" fill="#555" opacity="0.76"/>
<circle cx="80.5" cy="444.5" r="0.81" fill="#e8e8e8" opacity="0.89"/>
<circle cx="66.8" cy="442.8" r="0.62" fill="#e8e8e8" opacity="0.51"/>
<circle cx="79.3" cy="446.3" r="0.63" fill="#e8e8e8" opacity="0.59"/>
<circle cx="72.9" cy="438.0" r="0.63" fill="#444" opacity="0.81"/>
<circle cx="70.5" cy="438.9" r="1.08" fill="#333" opacity="0.70"/>
<circle cx="65.0" cy="446.8" r="0.52" fill="#555" opacity="0.66"/>
<circle cx="79.9" cy="444.7" r="0.95" fill="#333" opacity="0.73"/>
<circle cx="74.4" cy="446.4" r="0.59" fill="#333" opacity="0.74"/>
<circle cx="66.8" cy="438.1" r="0.92" fill="#333" opacity="0.60"/>
<circle cx="72.4" cy="445.9" r="0.88" fill="#444" opacity="0.62"/>
<circle cx="64.3" cy="448.1" r="0.69" fill="#444" opacity="0.61"/>
<circle cx="76.7" cy="438.0" r="0.99" fill="#333" opacity="0.74"/>
<circle cx="80.2" cy="444.4" r="0.95" fill="#333" opacity="0.64"/>
<circle cx="67.2" cy="438.7" r="0.63" fill="#e8e8e8" opacity="0.56"/>
<circle cx="69.8" cy="448.3" r="0.61" fill="#e8e8e8" opacity="0.67"/>
<circle cx="75.5" cy="437.0" r="0.75" fill="#444" opacity="0.55"/>
<circle cx="80.7" cy="439.2" r="1.09" fill="#333" opacity="0.71"/>
<circle cx="73.1" cy="437.4" r="0.57" fill="#555" opacity="0.66"/>
<circle cx="65.0" cy="442.6" r="0.72" fill="#444" opacity="0.74"/>
<circle cx="64.8" cy="443.8" r="0.83" fill="#444" opacity="0.81"/>
<circle cx="65.4" cy="443.3" r="0.71" fill="#d8d8d8" opacity="0.78"/>
<circle cx="74.5" cy="440.0" r="0.76" fill="#333" opacity="0.72"/>
<circle cx="64.3" cy="441.6" r="1.00" fill="#555" opacity="0.89"/>
<circle cx="70.7" cy="442.9" r="0.95" fill="#e8e8e8" opacity="0.79"/>
<circle cx="70.4" cy="445.3" r="0.62" fill="#333" opacity="0.59"/>
</g>
<rect x="62.5" y="409.7" width="20.099999999999994" height="26.100000000000023" fill="none" stroke="#000" stroke-width="2.3"/>
<rect x="82.6" y="409.7" width="19.700000000000003" height="26.100000000000023" fill="none" stroke="#000" stroke-width="2.3"/>
<rect x="62.5" y="435.8" width="20.099999999999994" height="13.099999999999966" fill="none" stroke="#000" stroke-width="2.3"/>
<text x="64.8" y="408.7" font-size="9.7" text-anchor="start" fill="#000" font-weight='bold'  textLength="15.6" lengthAdjust="spacingAndGlyphs" stroke="#000" stroke-width="0.22">14.2</text>
<text x="84.8" y="408.7" font-size="9.7" text-anchor="start" fill="#000" font-weight='bold'  textLength="16.2" lengthAdjust="spacingAndGlyphs" stroke="#000" stroke-width="0.22">71.0</text>
<text x="84.6" y="445.6" font-size="9.7" text-anchor="start" fill="#000" font-weight='bold'  textLength="16.2" lengthAdjust="spacingAndGlyphs" stroke="#000" stroke-width="0.22">11.3</text>
<text x="0" y="0" font-size="9.2" text-anchor="middle" fill="#000" font-weight='bold' font-style="italic" transform="translate(33.2,370.9) rotate(-90)" textLength="25.9" lengthAdjust="spacingAndGlyphs" stroke="#000" stroke-width="0.22">Foxp3</text>
<text x="69.1" y="467.6" font-size="9.2" text-anchor="start" fill="#000" font-weight='bold' font-style="italic" textLength="25.6" lengthAdjust="spacingAndGlyphs" stroke="#000" stroke-width="0.22">Helios</text>
<line x1="141.4" y1="321.3" x2="159.2" y2="321.3" stroke="#000" stroke-width="3.8" />
<circle cx="150.3" cy="321.3" r="4.9" fill="#000"/>
<text x="128" y="338.1" font-size="9.8" text-anchor="start" fill="#000" font-weight='bold'  textLength="44.3" lengthAdjust="spacingAndGlyphs" stroke="#000" stroke-width="0.22">Untreated</text>
<line x1="141.4" y1="405.5" x2="159.2" y2="405.5" stroke="#000" stroke-width="3.8" />
<circle cx="150.3" cy="405.5" r="3.9" fill="#fff" stroke="#000" stroke-width="2.9"/>
<text x="128.4" y="423.1" font-size="9.8" text-anchor="start" fill="#000" font-weight='bold'  textLength="43.2" lengthAdjust="spacingAndGlyphs" stroke="#000" stroke-width="0.22">CpG ODN</text>
<rect x="217.5" y="290.7" width="179.3" height="156.3" fill="#fff" stroke="#333" stroke-width="1"/>
<text font-size="9.1" font-weight="bold" fill="#000" text-anchor="middle" textLength="120" lengthAdjust="spacingAndGlyphs" transform="translate(191.2,371.2) rotate(-90)">[<tspan font-size="6.2" dy="-3.2">3</tspan><tspan dy="3.2">H]-thymidine uptake (CPM)</tspan></text>
<text x="215.4" y="449.6" font-size="7.2" text-anchor="end" fill="#000" font-weight='bold'  textLength="3.8" lengthAdjust="spacingAndGlyphs" stroke="#000" stroke-width="0.22">0</text>
<line x1="217.5" y1="447" x2="219.5" y2="447" stroke="#333" stroke-width="0.8" />
<text x="215.4" y="424.6" font-size="7.2" text-anchor="end" fill="#000" font-weight='bold'  textLength="15.2" lengthAdjust="spacingAndGlyphs" stroke="#000" stroke-width="0.22">2000</text>
<line x1="217.5" y1="422" x2="219.5" y2="422" stroke="#333" stroke-width="0.8" />
<text x="215.4" y="399.6" font-size="7.2" text-anchor="end" fill="#000" font-weight='bold'  textLength="15.2" lengthAdjust="spacingAndGlyphs" stroke="#000" stroke-width="0.22">4000</text>
<line x1="217.5" y1="397" x2="219.5" y2="397" stroke="#333" stroke-width="0.8" />
<text x="215.4" y="374.6" font-size="7.2" text-anchor="end" fill="#000" font-weight='bold'  textLength="15.2" lengthAdjust="spacingAndGlyphs" stroke="#000" stroke-width="0.22">6000</text>
<line x1="217.5" y1="372" x2="219.5" y2="372" stroke="#333" stroke-width="0.8" />
<text x="215.4" y="349.6" font-size="7.2" text-anchor="end" fill="#000" font-weight='bold'  textLength="15.2" lengthAdjust="spacingAndGlyphs" stroke="#000" stroke-width="0.22">8000</text>
<line x1="217.5" y1="347" x2="219.5" y2="347" stroke="#333" stroke-width="0.8" />
<text x="215.4" y="324.6" font-size="7.2" text-anchor="end" fill="#000" font-weight='bold'  textLength="19.0" lengthAdjust="spacingAndGlyphs" stroke="#000" stroke-width="0.22">10000</text>
<line x1="217.5" y1="322" x2="219.5" y2="322" stroke="#333" stroke-width="0.8" />
<text x="215.4" y="299.6" font-size="7.2" text-anchor="end" fill="#000" font-weight='bold'  textLength="19.0" lengthAdjust="spacingAndGlyphs" stroke="#000" stroke-width="0.22">12000</text>
<line x1="217.5" y1="297" x2="219.5" y2="297" stroke="#333" stroke-width="0.8" />
<line x1="230" y1="413" x2="230" y2="422" stroke="#555" stroke-width="0.9" />
<line x1="229" y1="413" x2="231" y2="413" stroke="#555" stroke-width="0.8" />
<line x1="229" y1="422" x2="231" y2="422" stroke="#555" stroke-width="0.8" />
<line x1="255.8" y1="378" x2="255.8" y2="383" stroke="#555" stroke-width="0.9" />
<line x1="254.8" y1="378" x2="256.8" y2="378" stroke="#555" stroke-width="0.8" />
<line x1="254.8" y1="383" x2="256.8" y2="383" stroke="#555" stroke-width="0.8" />
<line x1="281.7" y1="328" x2="281.7" y2="334" stroke="#555" stroke-width="0.9" />
<line x1="280.7" y1="328" x2="282.7" y2="328" stroke="#555" stroke-width="0.8" />
<line x1="280.7" y1="334" x2="282.7" y2="334" stroke="#555" stroke-width="0.8" />
<line x1="307" y1="314.5" x2="307" y2="349.5" stroke="#555" stroke-width="0.9" />
<line x1="306" y1="314.5" x2="308" y2="314.5" stroke="#555" stroke-width="0.8" />
<line x1="306" y1="349.5" x2="308" y2="349.5" stroke="#555" stroke-width="0.8" />
<line x1="332.5" y1="315.7" x2="332.5" y2="336.2" stroke="#555" stroke-width="0.9" />
<line x1="331.5" y1="315.7" x2="333.5" y2="315.7" stroke="#555" stroke-width="0.8" />
<line x1="331.5" y1="336.2" x2="333.5" y2="336.2" stroke="#555" stroke-width="0.8" />
<line x1="358" y1="300" x2="358" y2="323.2" stroke="#555" stroke-width="0.9" />
<line x1="357" y1="300" x2="359" y2="300" stroke="#555" stroke-width="0.8" />
<line x1="357" y1="323.2" x2="359" y2="323.2" stroke="#555" stroke-width="0.8" />
<line x1="383.7" y1="300" x2="383.7" y2="326.7" stroke="#555" stroke-width="0.9" />
<line x1="382.7" y1="300" x2="384.7" y2="300" stroke="#555" stroke-width="0.8" />
<line x1="382.7" y1="326.7" x2="384.7" y2="326.7" stroke="#555" stroke-width="0.8" />
<line x1="230" y1="412" x2="230" y2="423" stroke="#555" stroke-width="0.9" />
<line x1="229" y1="412" x2="231" y2="412" stroke="#555" stroke-width="0.8" />
<line x1="229" y1="423" x2="231" y2="423" stroke="#555" stroke-width="0.8" />
<line x1="255.8" y1="391" x2="255.8" y2="402.5" stroke="#555" stroke-width="0.9" />
<line x1="254.8" y1="391" x2="256.8" y2="391" stroke="#555" stroke-width="0.8" />
<line x1="254.8" y1="402.5" x2="256.8" y2="402.5" stroke="#555" stroke-width="0.8" />
<line x1="281.7" y1="366" x2="281.7" y2="380" stroke="#555" stroke-width="0.9" />
<line x1="280.7" y1="366" x2="282.7" y2="366" stroke="#555" stroke-width="0.8" />
<line x1="280.7" y1="380" x2="282.7" y2="380" stroke="#555" stroke-width="0.8" />
<line x1="307" y1="356" x2="307" y2="374.5" stroke="#555" stroke-width="0.9" />
<line x1="306" y1="356" x2="308" y2="356" stroke="#555" stroke-width="0.8" />
<line x1="306" y1="374.5" x2="308" y2="374.5" stroke="#555" stroke-width="0.8" />
<line x1="332.5" y1="340" x2="332.5" y2="355.7" stroke="#555" stroke-width="0.9" />
<line x1="331.5" y1="340" x2="333.5" y2="340" stroke="#555" stroke-width="0.8" />
<line x1="331.5" y1="355.7" x2="333.5" y2="355.7" stroke="#555" stroke-width="0.8" />
<line x1="358" y1="304" x2="358" y2="322" stroke="#555" stroke-width="0.9" />
<line x1="357" y1="304" x2="359" y2="304" stroke="#555" stroke-width="0.8" />
<line x1="357" y1="322" x2="359" y2="322" stroke="#555" stroke-width="0.8" />
<line x1="383.7" y1="300" x2="383.7" y2="326.7" stroke="#555" stroke-width="0.9" />
<line x1="382.7" y1="300" x2="384.7" y2="300" stroke="#555" stroke-width="0.8" />
<line x1="382.7" y1="326.7" x2="384.7" y2="326.7" stroke="#555" stroke-width="0.8" />
<polyline fill="none" stroke="#000" stroke-width="1.6" stroke-linejoin="round" points="230,417.5 255.8,380.3 281.7,330.7 307,331.5 332.5,326.2 358,311.2 383.7,313.2"/>
<polyline fill="none" stroke="#000" stroke-width="1.6" stroke-linejoin="round" points="230,417.5 255.8,397 281.7,373.5 307,365.7 332.5,347.7 358,313.2 383.7,313.2"/>
<circle cx="230" cy="417.5" r="2.1" fill="#000"/>
<circle cx="255.8" cy="380.3" r="2.1" fill="#000"/>
<circle cx="281.7" cy="330.7" r="2.1" fill="#000"/>
<circle cx="307" cy="331.5" r="2.1" fill="#000"/>
<circle cx="332.5" cy="326.2" r="2.1" fill="#000"/>
<circle cx="358" cy="311.2" r="2.1" fill="#000"/>
<circle cx="383.7" cy="313.2" r="2.1" fill="#000"/>
<circle cx="230" cy="417.5" r="1.9" fill="#fff" stroke="#000" stroke-width="0.9"/>
<circle cx="255.8" cy="397" r="1.9" fill="#fff" stroke="#000" stroke-width="0.9"/>
<circle cx="281.7" cy="373.5" r="1.9" fill="#fff" stroke="#000" stroke-width="0.9"/>
<circle cx="307" cy="365.7" r="1.9" fill="#fff" stroke="#000" stroke-width="0.9"/>
<circle cx="332.5" cy="347.7" r="1.9" fill="#fff" stroke="#000" stroke-width="0.9"/>
<circle cx="358" cy="313.2" r="1.9" fill="#fff" stroke="#000" stroke-width="0.9"/>
<circle cx="383.7" cy="313.2" r="1.9" fill="#fff" stroke="#000" stroke-width="0.9"/>
<text x="223.7" y="457.3" font-size="7.8" text-anchor="start" fill="#000" font-weight='bold'  stroke="#000" stroke-width="0.22">Treg</text>
<text x="223.7" y="466.3" font-size="7.8" text-anchor="start" fill="#000" font-weight='bold'  stroke="#000" stroke-width="0.22">alone</text>
<text x="256.2" y="457.3" font-size="7.8" text-anchor="middle" fill="#000" font-weight='bold'  stroke="#000" stroke-width="0.22">1:1</text>
<text x="282.1" y="457.3" font-size="7.8" text-anchor="middle" fill="#000" font-weight='bold'  stroke="#000" stroke-width="0.22">1:4</text>
<text x="307.5" y="457.3" font-size="7.8" text-anchor="middle" fill="#000" font-weight='bold'  stroke="#000" stroke-width="0.22">1:16</text>
<text x="333.5" y="457.3" font-size="7.8" text-anchor="middle" fill="#000" font-weight='bold'  stroke="#000" stroke-width="0.22">1:32</text>
<text x="358.5" y="457.3" font-size="7.8" text-anchor="middle" fill="#000" font-weight='bold'  stroke="#000" stroke-width="0.22">1:64</text>
<text x="370" y="457.3" font-size="7.8" text-anchor="start" fill="#000" font-weight='bold'  stroke="#000" stroke-width="0.22">Responder</text>
<text x="370" y="466.3" font-size="7.8" text-anchor="start" fill="#000" font-weight='bold'  stroke="#000" stroke-width="0.22">alone</text>
</svg></body></html>
